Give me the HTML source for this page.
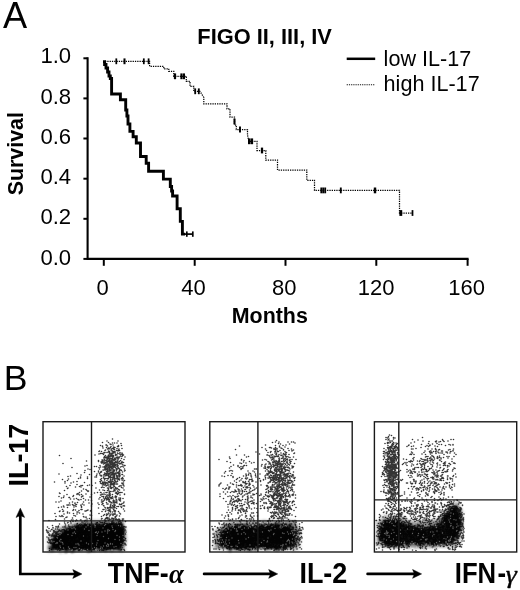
<!DOCTYPE html>
<html><head><meta charset="utf-8"><title>Figure</title>
<style>
html,body{margin:0;padding:0;background:#fff;}
body{width:520px;height:590px;overflow:hidden;font-family:"Liberation Sans", sans-serif;}
svg{display:block;}
text{fill:#000;}
</style></head><body>
<svg width="520" height="590" viewBox="0 0 520 590">
<rect width="520" height="590" fill="#fff"/>
<g opacity="0.999">
<text transform="translate(3.0 27.5)" font-size="36.2" font-weight="normal" font-family='"Liberation Sans", sans-serif' >A</text>
<text transform="translate(3.7 390.0)" font-size="35.6" font-weight="normal" font-family='"Liberation Sans", sans-serif' >B</text>
<text transform="translate(197.3 43.9) scale(1.0159 1)" font-size="21.5" font-weight="bold" font-family='"Liberation Sans", sans-serif' >FIGO II, III, IV</text>
<line x1="346.7" y1="58.8" x2="375.2" y2="58.8" stroke="#000" stroke-width="2.5"/>
<line x1="346.7" y1="84.8" x2="375.2" y2="84.8" stroke="#111" stroke-width="1.1" stroke-dasharray="1.2 1"/>
<text transform="translate(383.6 65.6)" font-size="21.6" font-weight="normal" font-family='"Liberation Sans", sans-serif' >low IL-17</text>
<text transform="translate(383.6 91.3)" font-size="21.6" font-weight="normal" font-family='"Liberation Sans", sans-serif' >high IL-17</text>
<path d="M87.6 57.3 V258.9 H468.6" fill="none" stroke="#000" stroke-width="2.1"/>
<line x1="83.39999999999999" y1="58.3" x2="87.6" y2="58.3" stroke="#000" stroke-width="2"/>
<line x1="83.39999999999999" y1="98.4" x2="87.6" y2="98.4" stroke="#000" stroke-width="2"/>
<line x1="83.39999999999999" y1="138.5" x2="87.6" y2="138.5" stroke="#000" stroke-width="2"/>
<line x1="83.39999999999999" y1="178.7" x2="87.6" y2="178.7" stroke="#000" stroke-width="2"/>
<line x1="83.39999999999999" y1="218.8" x2="87.6" y2="218.8" stroke="#000" stroke-width="2"/>
<line x1="83.39999999999999" y1="258.9" x2="87.6" y2="258.9" stroke="#000" stroke-width="2"/>
<line x1="103.8" y1="258.9" x2="103.8" y2="265.79999999999995" stroke="#000" stroke-width="2"/>
<line x1="194.7" y1="258.9" x2="194.7" y2="265.79999999999995" stroke="#000" stroke-width="2"/>
<line x1="285.5" y1="258.9" x2="285.5" y2="265.79999999999995" stroke="#000" stroke-width="2"/>
<line x1="376.3" y1="258.9" x2="376.3" y2="265.79999999999995" stroke="#000" stroke-width="2"/>
<line x1="467.6" y1="258.9" x2="467.6" y2="265.79999999999995" stroke="#000" stroke-width="2"/>
<text transform="translate(40.4 63.3)" font-size="22.1" font-weight="normal" font-family='"Liberation Sans", sans-serif' >1.0</text>
<text transform="translate(40.4 103.6)" font-size="22.1" font-weight="normal" font-family='"Liberation Sans", sans-serif' >0.8</text>
<text transform="translate(40.4 143.8)" font-size="22.1" font-weight="normal" font-family='"Liberation Sans", sans-serif' >0.6</text>
<text transform="translate(40.4 184.1)" font-size="22.1" font-weight="normal" font-family='"Liberation Sans", sans-serif' >0.4</text>
<text transform="translate(40.4 224.4)" font-size="22.1" font-weight="normal" font-family='"Liberation Sans", sans-serif' >0.2</text>
<text transform="translate(40.4 264.7)" font-size="22.1" font-weight="normal" font-family='"Liberation Sans", sans-serif' >0.0</text>
<text transform="translate(96.4 294.7)" font-size="22" font-weight="normal" font-family='"Liberation Sans", sans-serif' >0</text>
<text transform="translate(181.2 294.7)" font-size="22" font-weight="normal" font-family='"Liberation Sans", sans-serif' >40</text>
<text transform="translate(272.1 294.7)" font-size="22" font-weight="normal" font-family='"Liberation Sans", sans-serif' >80</text>
<text transform="translate(357.8 294.7)" font-size="22" font-weight="normal" font-family='"Liberation Sans", sans-serif' >120</text>
<text transform="translate(448.2 294.7)" font-size="22" font-weight="normal" font-family='"Liberation Sans", sans-serif' >160</text>
<text transform="translate(231.8 322.5)" font-size="21.4" font-weight="bold" font-family='"Liberation Sans", sans-serif' >Months</text>
<text transform="translate(22.5 195.3) rotate(-90)" font-size="21.4" font-weight="bold" font-family='"Liberation Sans", sans-serif' >Survival</text>
<path d="M103.0 61.6 L104.6 61.6 L104.6 64.5 L106.0 64.5 L106.0 68 L107.6 68 L107.6 72 L109.0 72 L109.0 76 L110.3 76 L110.3 78.5 L111.6 78.5 L111.6 94 L120.4 94 L120.4 99.7 L125.7 99.7 L125.7 110 L126.9 110 L126.9 116 L128.0 116 L128.0 124 L129.9 124 L129.9 131.4 L133.1 131.4 L133.1 136.7 L136.3 136.7 L136.3 143 L140.5 143 L140.5 156.5 L146.2 156.5 L146.2 163.3 L148.6 163.3 L148.6 171.3 L163.4 171.3 L163.4 179.1 L170.3 179.1 L170.3 186.5 L171.6 186.5 L171.6 191 L172.6 191 L172.6 196 L177.1 196 L177.1 208.8 L180.3 208.8 L180.3 221.4 L182.4 221.4 L182.4 234.1 L185 234.1" fill="none" stroke="#000" stroke-width="2.9" stroke-linejoin="miter"/>
<line x1="184" y1="234.1" x2="193" y2="234.1" stroke="#000" stroke-width="1.7"/>
<line x1="186.8" y1="231.4" x2="186.8" y2="236.8" stroke="#000" stroke-width="1.7"/>
<line x1="192.8" y1="231.4" x2="192.8" y2="236.8" stroke="#000" stroke-width="1.7"/>
<path d="M105 61.3 L149.6 61.3 L149.6 66.3 L163.8 66.3 L163.8 68.8 L168.8 68.8 L168.8 71.3 L173.8 71.3 L173.8 76.3 L186.3 76.3 L186.3 81.3 L190 81.3 L190 86.3 L193.8 86.3 L193.8 91.3 L200 91.3 L203.8 97.5 L203.8 103.8 L227 103.8 L227 108.8 L230 108.8 L230 117 L234.5 117 L234.5 125 L236.3 125 L236.3 129.5 L247.5 129.5 L247.5 135 L248.8 141.3 L257 141.3 L257 150.5 L265.8 150.5 L265.8 160 L277.5 160 L277.5 170 L306.8 170 L306.8 180.3 L314.5 180.3 L314.5 190.4 L399.5 190.4 L399.5 213 L412.5 213" fill="none" stroke="#000" stroke-width="1.25" stroke-dasharray="1.3 1.0"/>
<line x1="116.3" y1="58.4" x2="116.3" y2="64.2" stroke="#000" stroke-width="1.75"/>
<line x1="124.5" y1="58.4" x2="124.5" y2="64.2" stroke="#000" stroke-width="2.0500000000000003"/>
<line x1="143.8" y1="58.4" x2="143.8" y2="64.2" stroke="#000" stroke-width="1.75"/>
<line x1="148.6" y1="58.4" x2="148.6" y2="64.2" stroke="#000" stroke-width="1.75"/>
<line x1="175" y1="73.39999999999999" x2="175" y2="79.2" stroke="#000" stroke-width="2.25"/>
<line x1="181.5" y1="73.39999999999999" x2="181.5" y2="79.2" stroke="#000" stroke-width="2.25"/>
<line x1="184" y1="73.39999999999999" x2="184" y2="79.2" stroke="#000" stroke-width="2.0500000000000003"/>
<line x1="195.2" y1="88.39999999999999" x2="195.2" y2="94.2" stroke="#000" stroke-width="1.8499999999999999"/>
<line x1="198.8" y1="88.39999999999999" x2="198.8" y2="94.2" stroke="#000" stroke-width="1.8499999999999999"/>
<line x1="234.5" y1="118.6" x2="234.5" y2="124.4" stroke="#000" stroke-width="2.0500000000000003"/>
<line x1="240" y1="126.6" x2="240" y2="132.4" stroke="#000" stroke-width="1.95"/>
<line x1="249.3" y1="138.4" x2="249.3" y2="144.20000000000002" stroke="#000" stroke-width="2.6500000000000004"/>
<line x1="252" y1="138.4" x2="252" y2="144.20000000000002" stroke="#000" stroke-width="2.25"/>
<line x1="262" y1="147.6" x2="262" y2="153.4" stroke="#000" stroke-width="2.25"/>
<line x1="321.3" y1="187.5" x2="321.3" y2="193.3" stroke="#000" stroke-width="1.8499999999999999"/>
<line x1="323.2" y1="187.5" x2="323.2" y2="193.3" stroke="#000" stroke-width="1.8499999999999999"/>
<line x1="325.2" y1="187.5" x2="325.2" y2="193.3" stroke="#000" stroke-width="1.8499999999999999"/>
<line x1="340.8" y1="187.5" x2="340.8" y2="193.3" stroke="#000" stroke-width="1.8499999999999999"/>
<line x1="375" y1="187.5" x2="375" y2="193.3" stroke="#000" stroke-width="2.45"/>
<line x1="400.8" y1="210.1" x2="400.8" y2="215.9" stroke="#000" stroke-width="2.85"/>
<line x1="412.5" y1="210.1" x2="412.5" y2="215.9" stroke="#000" stroke-width="1.75"/>
<text transform="translate(28 486.6) rotate(-90) scale(0.9997 1)" font-size="27" font-weight="bold" font-family='"Liberation Sans", sans-serif' >IL-17</text>
<path d="M20.3 514 V574 H76" fill="none" stroke="#000" stroke-width="2.7" stroke-linejoin="miter"/>
<path d="M20.3 508.2 L16 517.4 L20.3 515.6 L24.6 517.4 Z" fill="#000" stroke="#000" stroke-width="0.5" stroke-linejoin="round"/>
<path d="M81.9 574 L72.8 569.6 L74.6 574 L72.8 578.4 Z" fill="#000" stroke="#000" stroke-width="0.5" stroke-linejoin="round"/>
<line x1="204.1" y1="573.9" x2="272.7" y2="573.9" stroke="#000" stroke-width="2.7" stroke-linecap="round"/>
<path d="M277.7 573.9 L268.7 569.5 L270.5 573.9 L268.7 578.3 Z" fill="#000" stroke="#000" stroke-width="0.5" stroke-linejoin="round"/>
<line x1="367.6" y1="573.9" x2="416.6" y2="573.9" stroke="#000" stroke-width="2.7" stroke-linecap="round"/>
<path d="M421.6 573.9 L412.6 569.5 L414.40000000000003 573.9 L412.6 578.3 Z" fill="#000" stroke="#000" stroke-width="0.5" stroke-linejoin="round"/>
<text transform="translate(107.8 582.5) scale(0.9367 1)" font-size="28.6" font-weight="bold" font-family='"Liberation Sans", sans-serif' >TNF-</text>
<text transform="translate(168.9 582.6) scale(1.0 1)" font-size="26.8" font-weight="bold" font-style="italic" font-family='"Liberation Serif", serif'>α</text>
<text transform="translate(299.4 582.5) scale(0.942 1)" font-size="28.6" font-weight="bold" font-family='"Liberation Sans", sans-serif' >IL-2</text>
<text transform="translate(454.8 582.5) scale(0.8986 1)" font-size="28.6" font-weight="bold" font-family='"Liberation Sans", sans-serif' >IFN</text>
<text transform="translate(497.4 583.1) scale(0.9029 1)" font-size="28.6" font-weight="bold" font-family='"Liberation Sans", sans-serif' >-</text>
<text transform="translate(505.7 583.0) scale(1.08 1)" font-size="26" font-weight="normal" font-style="italic" stroke="#000" stroke-width="0.4" font-family='"Liberation Serif", serif'>γ</text>
<defs><filter id="b1" x="-20%" y="-30%" width="140%" height="160%"><feTurbulence type="fractalNoise" baseFrequency="0.28" numOctaves="2" seed="3" result="n"/><feDisplacementMap in="SourceGraphic" in2="n" scale="7" xChannelSelector="R" yChannelSelector="G"/><feGaussianBlur stdDeviation="0.9"/></filter><filter id="b2" x="-20%" y="-30%" width="140%" height="160%"><feTurbulence type="fractalNoise" baseFrequency="0.5" numOctaves="2" seed="8" result="n"/><feDisplacementMap in="SourceGraphic" in2="n" scale="9" xChannelSelector="G" yChannelSelector="R"/><feGaussianBlur stdDeviation="1.4"/></filter><filter id="b0" x="-5%" y="-5%" width="110%" height="110%"><feGaussianBlur stdDeviation="0.6"/></filter></defs>
<polygon points="50,550.5 51,542 56,535 66,528.5 80,524.5 92,523 121,523 123.5,528 123.5,540 121,550.5" fill="#000" fill-opacity="0.95" filter="url(#b1)"/>
<polygon points="47.5,551 49,538 56,530 78,522 123,520.5 126,530 125,551" fill="#000" fill-opacity="0.55" filter="url(#b2)"/>
<g filter="url(#b0)"><path transform="scale(.5)" d="M129 1079h0M214 1067h0M125 1073h0M194 1089h0M130 1056h0M203 1081h0M234 1088h0M172 1070h0M146 1058h0M180 1076h0M163 1073h0M186 1084h0M218 1077h0M108 1084h0M122 1072h0M120 1074h0M146 1077h0M208 1055h0M165 1083h0M172 1079h0M180 1060h0M197 1063h0M247 1067h0M202 1074h0M212 1066h0M214 1072h0M224 1083h0M181 1063h0M205 1081h0M238 1069h0M197 1081h0M187 1077h0M183 1066h0M137 1068h0M198 1095h0M213 1089h0M206 1084h0M183 1085h0M243 1069h0M185 1088h0M209 1058h0M183 1085h0M181 1062h0M172 1079h0M218 1084h0M178 1093h0M147 1085h0M218 1070h0M108 1061h0M185 1081h0M235 1060h0M176 1083h0M170 1041h0M214 1061h0M160 1077h0M180 1096h0M173 1100h0M150 1067h0M203 1094h0M201 1078h0M107 1064h0M153 1067h0M198 1069h0M206 1075h0M163 1076h0M192 1086h0M158 1071h0M124 1096h0M231 1071h0M158 1057h0M182 1077h0M146 1040h0M230 1077h0M115 1077h0M219 1082h0M169 1044h0M171 1052h0M199 1044h0M142 1091h0M238 1057h0M118 1086h0M208 1060h0M150 1064h0M131 1064h0M224 1084h0M171 1060h0M171 1056h0M108 1084h0M231 1086h0M227 1078h0M149 1075h0M162 1058h0M112 1053h0M176 1076h0M158 1094h0M183 1082h0M222 1063h0M101 1085h0M150 1092h0M189 1088h0M205 1045h0M203 1065h0M147 1068h0M205 1086h0M214 1051h0M154 1041h0M172 1082h0M147 1077h0M185 1088h0M145 1062h0M147 1099h0M217 1072h0M185 1076h0M184 1071h0M163 1056h0M152 1097h0M196 1075h0M168 1075h0M189 1065h0M183 1077h0M148 1063h0M138 1059h0M210 1041h0M166 1065h0M152 1075h0M219 1075h0M171 1065h0M171 1087h0M161 1058h0M128 1059h0M123 1089h0M189 1071h0M231 1065h0M205 1085h0M117 1052h0M141 1087h0M225 1057h0M216 1069h0M161 1066h0M164 1049h0M138 1057h0M111 1068h0M198 1064h0M212 1082h0M114 1067h0M167 1074h0M181 1069h0M183 1066h0M142 1095h0M190 1080h0M115 1072h0M207 1056h0M218 1069h0M191 1072h0M184 1091h0M161 1096h0M146 1061h0M203 1059h0M162 1087h0M222 1049h0M195 1100h0M221 1071h0M153 1070h0M132 1070h0M169 1072h0M221 1071h0M121 1089h0M135 1068h0M171 1069h0M138 1071h0M171 1090h0M204 1085h0M209 1046h0M143 1076h0M195 1092h0M194 1071h0M177 1071h0M185 1083h0M163 1063h0M144 1089h0M225 1088h0M209 1086h0M176 1083h0M136 1071h0M148 1084h0M154 1072h0M191 1093h0M146 1061h0M207 1059h0M193 1066h0M172 1049h0M203 1067h0M191 1069h0M180 1096h0M175 1080h0M196 1061h0M181 1067h0M129 1086h0M201 1075h0M142 1046h0M194 1073h0M112 1073h0M118 1074h0M181 1079h0M184 1076h0M133 1069h0M157 1071h0M186 1083h0M238 1038h0M191 1071h0M113 1080h0M156 1088h0M136 1073h0M171 1073h0M154 1048h0M193 1088h0M173 1060h0M184 1082h0M169 1074h0M230 1058h0M155 1047h0M149 1064h0M140 1064h0M244 1071h0M174 1050h0M191 1061h0M238 1057h0M154 1052h0M180 1060h0M174 1069h0M153 1087h0M212 1075h0M142 1059h0M159 1063h0M149 1059h0M139 1071h0M230 1074h0M157 1051h0M184 1074h0M129 1059h0M174 1088h0M200 1077h0M164 1078h0M133 1069h0M224 1070h0M230 1073h0M182 1069h0M124 1060h0M199 1087h0M198 1088h0M166 1071h0M213 1069h0M125 1071h0M155 1083h0M149 1059h0M163 1096h0M174 1076h0M176 1078h0M211 1094h0M114 1093h0M176 1070h0M250 1088h0M137 1081h0M204 1072h0M169 1058h0M245 1071h0M161 1070h0M146 1063h0M180 1078h0M157 1073h0M123 1081h0M148 1077h0M142 1067h0M184 1057h0M173 1064h0M237 1093h0M187 1055h0M157 1083h0M157 1057h0M131 1063h0M177 1065h0M243 1059h0M189 1075h0M171 1089h0M163 1069h0M162 1073h0M225 1085h0M125 1068h0M146 1085h0M185 1086h0M174 1047h0M193 1077h0M195 1056h0M179 1064h0M150 1079h0M189 1062h0M111 1039h0M154 1090h0M174 1042h0M143 1080h0M240 1090h0M190 1077h0M136 1068h0M163 1063h0M178 1069h0M189 1094h0M204 1080h0M167 1053h0M172 1082h0M138 1092h0M163 1079h0M164 1056h0M211 1066h0M187 1063h0M160 1087h0M250 1062h0M176 1087h0M152 1084h0M146 1082h0M193 1091h0M190 1057h0M201 1059h0M205 1095h0M199 1066h0M221 1076h0M129 1069h0M230 1070h0M181 1069h0M112 1067h0M190 1077h0M169 1044h0M222 1084h0M215 1092h0M159 1066h0M188 1097h0M112 1071h0M149 1082h0M232 1070h0M129 1075h0M165 1052h0M210 1067h0M202 1056h0M218 1054h0M216 1049h0M228 1069h0M117 1071h0M189 1060h0M157 1078h0M160 1080h0M187 1088h0M206 1078h0M217 1087h0M180 1065h0M215 1080h0M104 1059h0M194 1076h0M187 1083h0M182 1096h0M154 1068h0M188 1084h0M206 1095h0M158 1090h0M194 1059h0M206 1067h0M149 1075h0M188 1061h0M131 1071h0M161 1065h0M219 1075h0M129 1092h0M164 1055h0M188 1081h0M163 1084h0M207 1062h0M98 1041h0M171 1091h0M214 1093h0M247 1074h0M216 1053h0M202 1079h0M172 1068h0M134 1076h0M225 1069h0M196 1065h0M186 1060h0M190 1071h0M188 1066h0M131 1069h0M215 1096h0M164 1085h0M205 1079h0M117 1079h0M139 1090h0M206 1083h0M203 1056h0M213 1075h0M169 1064h0M137 1068h0M184 1065h0M153 1066h0M142 1086h0M166 1086h0M132 1087h0M175 1083h0M172 1062h0M222 1068h0M170 1062h0M184 1069h0M187 1079h0M150 1054h0M192 1087h0M202 1058h0M199 1079h0M187 1080h0M164 1077h0M211 1067h0M121 1073h0M183 1048h0M150 1082h0M170 1075h0M128 1087h0M243 1071h0M148 1058h0M210 1075h0M146 1091h0M205 1082h0M109 1073h0M200 1057h0M211 1094h0M215 1064h0M149 1087h0M214 1091h0M222 1073h0M160 1048h0M158 1067h0M201 1079h0M124 1064h0M149 1086h0M249 1101h0M230 1097h0M129 1069h0M148 1070h0M197 1057h0M227 1092h0M179 1092h0M188 1066h0M162 1072h0M199 1076h0M158 1064h0M146 1054h0M139 1087h0M178 1072h0M189 1089h0M199 1085h0M155 1070h0M146 1073h0M145 1069h0M169 1071h0M166 1067h0M226 1069h0M138 1077h0M135 1059h0M179 1051h0M215 1051h0M142 1082h0M100 1062h0M130 1071h0M101 1087h0M171 1078h0M164 1044h0M170 1055h0M176 1062h0M164 1071h0M205 1085h0M138 1074h0M231 1081h0M148 1072h0M163 1087h0M177 1079h0M137 1050h0M115 1086h0M187 1097h0M101 1062h0M231 1088h0M210 1086h0M177 1074h0M177 1086h0M170 1078h0M231 1058h0M147 1082h0M166 1072h0M160 1089h0M151 1076h0M196 1068h0M195 1063h0M153 1075h0M192 1093h0M204 1101h0M193 1076h0M171 1062h0M238 1057h0M171 1067h0M146 1043h0M161 1076h0M181 1086h0M170 1065h0M188 1083h0M142 1053h0M137 1089h0M214 1062h0M180 1086h0M226 1065h0M167 1094h0M133 1080h0M165 1073h0M151 1067h0M176 1099h0M203 1080h0M177 1063h0M167 1091h0M186 1074h0M115 1080h0M110 1095h0M152 1074h0M125 1067h0M141 1090h0M185 1057h0M103 1073h0M158 1058h0M198 1071h0M180 1066h0M154 1068h0M115 1083h0M191 1050h0M180 1090h0M185 1092h0M166 1074h0M127 1061h0M107 1061h0M185 1081h0M220 1076h0M138 1080h0M170 1099h0M250 1087h0M133 1067h0M183 1064h0M196 1084h0M208 1077h0M142 1062h0M171 1093h0M236 1088h0M190 1083h0M207 1092h0M209 1053h0M212 1079h0M159 1081h0M187 1073h0M112 1076h0M197 1073h0M116 1080h0M203 1077h0M192 1069h0M151 1081h0M163 1077h0M181 1051h0M180 1085h0M149 1071h0M153 1084h0M228 1072h0M213 1078h0M168 1070h0M144 1092h0M209 1060h0M208 1064h0M119 1091h0M127 1091h0M184 1087h0M195 1090h0M189 1082h0M185 1089h0M161 1088h0M233 1073h0M193 1067h0M165 1078h0M163 1062h0M175 1077h0M188 1084h0M109 1094h0M169 1063h0M162 1080h0M209 1069h0M182 1052h0M182 1072h0M160 1086h0M244 1088h0M146 1095h0M163 1073h0M154 1080h0M197 1076h0M168 1072h0M161 1088h0M156 1072h0M168 1064h0M167 1054h0M191 1082h0M165 1096h0M145 1082h0M194 1067h0M167 1086h0M178 1078h0M229 1077h0M113 1064h0M208 1072h0M135 1046h0M188 1095h0M129 1044h0M195 1066h0M165 1070h0M142 1080h0M211 1079h0M155 1088h0M172 1082h0M141 1083h0M204 1092h0M177 1080h0M154 1086h0M205 1089h0M161 1057h0M173 1071h0M148 1082h0M212 1079h0M218 1080h0M139 1066h0M163 1084h0M211 1076h0M214 1063h0M172 1095h0M193 1089h0M105 1051h0M144 1088h0M237 1065h0M139 1060h0M143 1082h0M164 1100h0M203 1065h0M185 1072h0M206 1087h0M163 1086h0M197 1073h0M186 1083h0M164 1065h0M224 1074h0M154 1080h0M121 1075h0M125 1068h0M109 1064h0M210 1072h0M131 1098h0M153 1094h0M157 1054h0M245 1068h0M205 1090h0M127 1075h0M155 1082h0M176 1057h0M178 1085h0M165 1082h0M156 1073h0M189 1076h0M224 1087h0M208 1084h0M182 1058h0M216 1098h0M185 1071h0M175 1091h0M187 1061h0M170 1064h0M169 1062h0M144 1094h0M215 1052h0M140 1068h0M162 1055h0M209 1052h0M202 1084h0M163 1065h0M179 1076h0M98 1057h0M196 1073h0M161 1061h0M150 1064h0M233 1081h0M184 1077h0M162 1096h0M195 1074h0M172 1077h0M134 1070h0M153 1083h0M199 1049h0M168 1088h0M128 1058h0M213 1072h0M160 1057h0M183 1066h0M184 1080h0M202 1070h0M157 1075h0M173 1076h0M157 1071h0M155 1066h0M182 1090h0M156 1082h0M189 1076h0M202 1066h0M197 1078h0M199 1101h0M137 1075h0M189 1061h0M221 1080h0M147 1058h0M109 1083h0M172 1065h0M199 1075h0M187 1078h0M136 1092h0M159 1090h0M202 1075h0M181 1073h0M108 1070h0M192 1052h0M121 1089h0M206 1053h0M193 1073h0M213 1070h0M168 1064h0M183 1072h0M152 1069h0M148 1083h0M138 1053h0M140 1089h0M157 1083h0M204 1067h0M204 1081h0M175 1064h0M174 1056h0M166 1066h0M193 1079h0M152 1086h0M221 1075h0M149 1081h0M149 1095h0M183 1088h0M170 1066h0M168 1095h0M208 1070h0M191 1086h0M197 1073h0M151 1064h0M160 1066h0M117 1054h0M209 1059h0M127 1073h0M231 1092h0M161 1060h0M156 1061h0M155 1081h0M136 1063h0M166 1074h0M147 1063h0M133 1064h0M196 1071h0M174 1062h0M114 1090h0M148 1075h0M206 1057h0M242 1064h0M189 1058h0M190 1074h0M217 1058h0M176 1099h0M131 1079h0M193 1067h0M166 1094h0M219 1082h0M186 1058h0M180 1099h0M216 1055h0M97 1065h0M182 1066h0M164 1079h0M210 1077h0M224 1054h0M194 1080h0M119 1092h0M115 1054h0M190 1093h0M220 1058h0M194 1094h0M170 1075h0M158 1084h0M155 1066h0M129 1061h0M184 1081h0M161 1059h0M189 1079h0M225 1067h0M160 1081h0M234 1073h0M173 1061h0M162 1087h0M209 1090h0M113 1086h0M141 1082h0M142 1092h0M181 1092h0M159 1101h0M157 1060h0M210 1068h0M174 1055h0M163 1076h0M149 1080h0M160 1095h0M163 1065h0M159 1078h0M199 1067h0M145 1080h0M208 1049h0M136 1065h0M242 1091h0M207 1081h0M133 1090h0M159 1063h0M250 1054h0M229 1077h0M141 1077h0M144 1077h0M151 1057h0M214 1073h0M202 1056h0M215 1080h0M131 1086h0M185 1087h0M200 1085h0M175 1068h0M203 1092h0M131 1058h0M175 1100h0M168 1050h0M207 1085h0M251 1077h0M252 1064h0M211 1076h0M130 1070h0M227 1090h0M162 1090h0M211 1087h0M187 1078h0M144 1073h0M181 1064h0M165 1076h0M184 1089h0M137 1068h0M187 1069h0M189 1067h0M222 1071h0M132 1085h0M240 1047h0M171 1075h0M216 1095h0M170 1052h0M202 1088h0M194 1075h0M130 1053h0M214 1078h0M202 1079h0M241 1094h0M155 1088h0M131 1050h0M222 1068h0M94 1074h0M151 1081h0M174 1063h0M149 1085h0M141 1076h0M138 1080h0M245 1082h0M219 1080h0M139 1070h0M179 1080h0M153 1083h0M149 1075h0M176 1058h0M215 1075h0M180 1074h0M95 1054h0M142 1088h0M154 1083h0M137 1062h0M158 1089h0M113 1072h0M192 1076h0M176 1085h0M187 1060h0M201 1063h0M163 1095h0M193 1063h0M147 1098h0M189 1055h0M236 1082h0M227 1080h0M94 1064h0M171 1072h0M234 1065h0M172 1073h0M173 1059h0M129 1038h0M189 1071h0M184 1059h0M176 1060h0M137 1079h0M201 1082h0M175 1069h0M230 1092h0M152 1059h0M190 1079h0M96 1062h0M186 1088h0M105 1068h0M231 1094h0M167 1075h0M142 1080h0M136 1045h0M118 1075h0M126 1090h0M225 1088h0M201 1090h0M186 1086h0M194 1085h0M137 1065h0M138 1086h0M196 1063h0M138 1066h0M210 1072h0M167 1064h0M172 1097h0M150 1069h0M241 1084h0M133 1089h0M128 1082h0M211 1066h0M149 1075h0M176 1067h0M150 1099h0M233 1079h0M132 1067h0M165 1081h0M238 1067h0M182 1068h0M182 1064h0M191 1090h0M161 1069h0M181 1056h0M246 1055h0M163 1062h0M234 1067h0M157 1101h0M172 1063h0M176 1077h0M148 1072h0M168 1084h0M206 1086h0M172 1085h0M168 1090h0M192 1068h0M223 1053h0M139 1063h0M171 1057h0M130 1047h0M181 1063h0M133 1093h0M180 1089h0M134 1090h0M218 1068h0M144 1069h0M245 1095h0M168 1069h0M190 1070h0M158 1071h0M209 1073h0M185 1070h0M169 1069h0M225 1077h0M233 1072h0M217 1055h0M161 1073h0M152 1072h0M141 1072h0M151 1074h0M165 1060h0M161 1075h0M128 1075h0M224 1071h0M197 1083h0M146 1093h0M232 1049h0M220 1076h0M127 1063h0M136 1061h0M191 1072h0M194 1075h0M241 1048h0M186 1075h0M204 1055h0M126 1072h0M179 1049h0M190 1074h0M204 1037h0M195 1062h0M158 1085h0M241 1076h0M172 1093h0M142 1072h0M157 1060h0M186 1081h0M175 1090h0M183 1062h0M180 1094h0M173 1091h0M187 1083h0M165 1086h0M168 1053h0M188 1057h0M233 1085h0M177 1084h0M151 1084h0M160 1079h0M192 1050h0M141 1095h0M153 1082h0M124 1061h0M107 1078h0M221 1075h0M166 1078h0M194 1070h0M214 1091h0M199 1071h0M214 1090h0M221 1059h0M216 1069h0M163 1079h0M198 1078h0M169 1078h0M168 1082h0M209 1086h0M128 1069h0M180 1057h0M191 1072h0M179 1080h0M153 1096h0M216 1066h0M194 1085h0M147 1069h0M203 1038h0M126 1079h0M200 1061h0M184 1074h0M179 1060h0M197 1077h0M205 1094h0M178 1077h0M189 1099h0M121 1074h0M152 1076h0M208 1075h0M205 1077h0M149 1065h0M124 1077h0M161 1086h0M213 1062h0M135 1083h0M143 1077h0M200 1069h0M244 1063h0M193 1068h0M170 1082h0M171 1064h0M157 1070h0M205 1070h0M224 1086h0M148 1089h0M139 1073h0M221 1074h0M170 1092h0M147 1063h0M214 1083h0M122 1076h0M206 1072h0M161 1076h0M185 1064h0M208 1052h0M136 1074h0M132 1075h0M158 1100h0M141 1074h0M185 1083h0M211 1052h0M149 1051h0M159 1049h0M183 1066h0M189 1063h0M221 1076h0M139 1095h0M112 1054h0M226 1066h0M228 1082h0M199 1065h0M199 1094h0M162 1069h0M174 1069h0M220 1056h0M193 1046h0M93 1060h0M148 1062h0M149 1083h0M198 1075h0M184 1064h0M139 1054h0M160 1058h0M164 1084h0M197 1093h0M141 1043h0M203 1068h0M226 1068h0M240 1068h0M161 1084h0M132 1072h0M250 1080h0M134 1070h0M175 1063h0M192 1092h0M178 1086h0M187 1076h0M147 1088h0M228 1068h0M143 1081h0M180 1090h0M195 1072h0M123 1083h0M180 1056h0M119 1048h0M200 1068h0M152 1072h0M177 1069h0M204 1088h0M167 1096h0M171 1062h0M182 1054h0M165 1059h0M160 1077h0M186 1071h0M203 1079h0M162 1060h0M204 1085h0M120 1064h0M131 1086h0M154 1056h0M233 1080h0M185 1077h0M169 1074h0M210 1080h0M158 1075h0M247 1066h0M126 1076h0M200 1082h0M137 1073h0M112 1091h0M173 1099h0M165 1059h0M149 1085h0M144 1078h0M148 1064h0M154 1097h0M135 1078h0M206 1063h0M118 1095h0M242 1070h0M130 1086h0M174 1062h0M161 1040h0M144 1057h0M125 1082h0M186 1098h0M143 1093h0M215 1076h0M179 1063h0M156 1068h0M223 1081h0M207 1050h0M137 1086h0M161 1051h0M175 1056h0M175 1096h0M132 1067h0M197 1073h0M182 1062h0M162 1040h0M168 1092h0M132 1071h0M203 1091h0M220 1061h0M159 1099h0M157 1078h0M143 1064h0M137 1093h0M205 1079h0M155 1054h0M194 1062h0M171 1087h0M168 1073h0M137 1089h0M196 1084h0M238 1051h0M176 1083h0M188 1078h0M193 1052h0M172 1090h0M173 1071h0M208 1049h0M190 1095h0M165 1062h0M195 1067h0M143 1076h0M111 1083h0M129 1066h0M203 1073h0M185 1093h0M154 1087h0M111 1085h0M225 1063h0M193 1086h0M169 1065h0M233 1055h0M181 1087h0M184 1096h0M232 1080h0M243 1084h0M128 1069h0M185 1076h0M115 1058h0M192 1076h0M234 1077h0M190 1084h0M147 1055h0M157 1088h0M164 1091h0M154 1084h0M176 1086h0M176 1077h0M157 1091h0M174 1081h0M200 1061h0M143 1073h0M224 1059h0M136 1060h0M160 1059h0M144 1081h0M133 1074h0M130 1071h0M195 1045h0M177 1077h0M173 1077h0M191 1055h0M171 1083h0M225 1054h0M152 1054h0M175 1059h0M137 1085h0M239 1061h0M202 1079h0M223 1071h0M143 1073h0M206 1061h0M191 1074h0M182 1074h0M199 1085h0M164 1069h0M93 1061h0M117 1083h0M134 1064h0M196 1088h0M222 1062h0M185 1089h0M143 1071h0M129 1065h0M203 1075h0M161 1066h0M234 1084h0M160 1072h0M157 1066h0M200 1053h0M177 1069h0M141 1086h0M125 1088h0M127 1083h0M116 1090h0M124 1076h0M109 1071h0M123 1081h0M109 1078h0M124 1074h0M118 1075h0M121 1091h0M136 1074h0M127 1085h0M121 1091h0M130 1068h0M138 1080h0M112 1074h0M117 1069h0M133 1087h0M109 1091h0M123 1083h0M131 1081h0M117 1087h0M98 1069h0M126 1094h0M100 1082h0M112 1079h0M127 1098h0M141 1092h0M128 1083h0M97 1086h0M105 1070h0M121 1064h0M141 1089h0M124 1087h0M123 1083h0M128 1074h0M123 1084h0M129 1070h0M123 1080h0M127 1088h0M122 1087h0M125 1097h0M124 1088h0M109 1080h0M129 1094h0M108 1081h0M117 1083h0M114 1077h0M119 1083h0M132 1073h0M108 1091h0M126 1080h0M106 1094h0M107 1094h0M123 1080h0M118 1091h0M120 1063h0M111 1058h0M125 1092h0M132 1067h0M119 1060h0M109 1093h0M145 1076h0M98 1071h0M143 1082h0M103 1059h0M128 1091h0M114 1080h0M121 1078h0M113 1076h0M113 1095h0M125 1093h0M142 1057h0M119 1092h0M117 1075h0M125 1076h0M110 1079h0M121 1082h0M131 1082h0M117 1079h0M118 1074h0M101 1084h0M137 1062h0M111 1087h0M112 1088h0M119 1070h0M117 1076h0M126 1054h0M125 1097h0M122 1085h0M113 1086h0M118 1068h0M106 1056h0M125 1084h0M133 1085h0M128 1067h0M97 1076h0M116 1086h0M118 1080h0M120 1085h0M122 1085h0M114 1081h0M102 1070h0M117 1087h0M111 1066h0M131 1073h0M99 1071h0M106 1055h0M115 1100h0M111 1073h0M134 1083h0M119 1097h0M106 1081h0M126 1084h0M106 1072h0M141 1081h0M117 1094h0M98 1081h0M99 1097h0M108 1083h0M109 1083h0M124 1082h0M116 1085h0M117 1076h0M127 1091h0M104 1071h0M111 1085h0M103 1099h0M120 1084h0M130 1074h0M124 1086h0M135 1070h0M137 1088h0M123 1094h0M117 1080h0M130 1078h0M133 1097h0M123 1084h0M112 1072h0M137 1071h0M121 1085h0M109 1074h0M124 1097h0M144 1093h0M136 1077h0M112 1098h0M138 1071h0M134 1085h0M130 1093h0M143 1075h0M120 1096h0M117 1088h0M119 1063h0M114 1092h0M114 1065h0M114 1083h0M126 1086h0M126 1071h0M113 1074h0M115 1087h0M136 1080h0M133 1094h0M106 1073h0M122 1067h0M143 1062h0M106 1091h0M111 1090h0M108 1094h0M113 1090h0M132 1066h0M110 1063h0M107 1092h0M120 1092h0M137 1094h0M129 1078h0M116 1086h0M131 1094h0M124 1079h0M119 1101h0M112 1092h0M123 1091h0M111 1086h0M120 1079h0M106 1067h0M116 1088h0M124 1085h0M124 1068h0M133 1083h0M111 1076h0M132 1084h0M131 1071h0M135 1096h0M133 1090h0M124 1085h0M114 1085h0M136 1081h0M144 1065h0M121 1066h0M99 1085h0M117 1076h0M108 1080h0M101 1080h0M114 1069h0M125 1062h0M126 1085h0M127 1084h0M130 1080h0M108 1087h0M111 1078h0M122 1072h0M132 1066h0M135 1082h0M141 1095h0M129 1086h0M122 1067h0M114 1072h0M112 1081h0M111 1084h0M117 1077h0M125 1088h0M104 1079h0M155 1083h0M126 1073h0M132 1099h0M127 1081h0M121 1062h0M128 1079h0M125 1087h0M131 1075h0M128 1089h0M121 1098h0M116 1063h0M108 1087h0M109 1084h0M102 1087h0M117 1073h0M114 1079h0M131 1085h0M118 1084h0M131 1088h0M141 1075h0M130 1084h0M113 1089h0M130 1093h0M126 1073h0M123 1087h0M140 1084h0M122 1100h0M121 1078h0M124 1091h0M122 1064h0M116 1093h0M112 1092h0M123 1074h0M130 1059h0M96 1066h0M127 1079h0M128 1082h0M122 1077h0M116 1093h0M130 1068h0M130 1072h0M129 1085h0M117 1093h0M135 1077h0M122 1078h0M121 1100h0M115 1089h0M124 1083h0M107 1089h0M107 1090h0M119 1084h0M115 1073h0M108 1083h0M120 1086h0M117 1091h0M122 1084h0M118 1082h0M128 1075h0M106 1087h0M125 1083h0M123 1068h0M109 1082h0M120 1069h0M126 1062h0M135 1071h0M114 1071h0M105 1079h0M98 1079h0M122 1079h0M120 1067h0M99 1068h0M133 1086h0M99 1101h0M128 1094h0M132 1097h0M100 1083h0M129 1082h0M117 1060h0M122 1073h0M136 1090h0M120 1078h0M133 1077h0M133 1085h0M117 1086h0M141 1065h0M129 1090h0M117 1098h0M128 1088h0M109 1089h0M105 1088h0M146 1073h0M139 1071h0M121 1090h0M103 1086h0M111 1076h0M130 1082h0M125 1083h0M125 1099h0M122 1079h0M121 1090h0M126 1059h0M120 1087h0M151 1076h0M117 1070h0M120 1063h0M110 1081h0M103 1079h0M112 1096h0M122 1090h0M148 1075h0M141 1072h0M133 1065h0M116 1080h0M117 1061h0M122 1079h0M138 1089h0M95 1084h0M133 1081h0M112 1067h0M116 1072h0M117 1079h0M136 1072h0M124 1070h0M124 1094h0M114 1069h0M121 1083h0M113 1087h0M121 1090h0M209 1078h0M246 1054h0M210 1051h0M218 1057h0M225 1071h0M226 1062h0M215 1036h0M219 1048h0M226 1067h0M213 1052h0M241 1050h0M227 1067h0M238 1048h0M247 1064h0M242 1045h0M244 1065h0M239 1057h0M240 1067h0M219 1073h0M226 1060h0M223 1080h0M241 1080h0M206 1079h0M207 1101h0M234 1083h0M228 1069h0M219 1096h0M224 1083h0M217 1064h0M223 1065h0M221 1076h0M238 1042h0M222 1047h0M243 1048h0M235 1069h0M228 1037h0M238 1082h0M214 1052h0M217 1065h0M242 1064h0M247 1075h0M227 1077h0M222 1085h0M219 1086h0M227 1094h0M244 1077h0M234 1069h0M235 1064h0M224 1048h0M235 1050h0M225 1067h0M227 1062h0M197 1060h0M225 1059h0M224 1043h0M217 1089h0M215 1059h0M217 1064h0M221 1097h0M214 1087h0M222 1073h0M224 1063h0M230 1070h0M213 1052h0M239 1063h0M229 1077h0M230 1069h0M213 1067h0M205 1093h0M218 1092h0M222 1065h0M247 1070h0M231 1063h0M225 1056h0M218 1040h0M227 1055h0M248 1099h0M224 1065h0M207 1090h0M239 1071h0M224 1071h0M222 1074h0M210 1074h0M225 1060h0M223 1065h0M204 1076h0M226 1094h0M229 1081h0M228 1065h0M212 1060h0M225 1056h0M233 1082h0M225 1085h0M246 1078h0M224 1068h0M252 1090h0M245 1041h0M197 1094h0M239 1087h0M237 1062h0M235 1066h0M250 1080h0M215 1055h0M243 1080h0M233 1072h0M211 1054h0M236 1039h0M236 1076h0M238 1080h0M217 1041h0M197 1068h0M241 1042h0M231 1056h0M225 1070h0M229 1049h0M240 1065h0M202 1079h0M251 1061h0M251 1043h0M225 1087h0M247 1075h0M244 1061h0M239 1081h0M242 1073h0M241 1074h0M237 1044h0M237 1053h0M224 1068h0M232 1047h0M221 1071h0M223 1067h0M232 1070h0M221 1070h0M237 1048h0M240 1052h0M234 1076h0M238 1049h0M216 1049h0M237 1069h0M203 1078h0M246 1059h0M228 1071h0M215 1060h0M237 1062h0M229 1069h0M234 1060h0M246 1068h0M228 1087h0M248 1053h0M224 1086h0M222 1091h0M227 1096h0M215 1038h0M208 1097h0M219 1060h0M221 1056h0M231 1069h0M220 1059h0M248 1081h0M243 1086h0M226 1080h0M252 1054h0M202 1045h0M215 1052h0M222 1079h0M218 1061h0M210 1043h0M226 1055h0M241 1068h0M203 1078h0M212 1061h0M214 1054h0M220 1049h0M218 1062h0M239 1077h0M223 1085h0M213 1064h0M239 1090h0M237 1072h0M226 1076h0M230 1072h0M219 1065h0M216 1050h0M217 1054h0M219 1058h0M207 1071h0M233 1090h0M195 1045h0M215 1053h0M229 1054h0M218 1077h0M226 1042h0M242 1100h0M244 1064h0M248 1065h0M224 1070h0M247 1068h0M224 1046h0M231 1050h0M227 1046h0M216 1052h0M219 1049h0M246 1078h0M224 1051h0M244 1063h0M236 1082h0M223 1073h0M235 1060h0M226 1057h0M181 1061h0M252 1082h0M241 1057h0M218 1053h0M235 1078h0M202 1077h0M241 1078h0M211 1069h0M233 1046h0M213 1099h0M219 1059h0M201 1057h0M247 1072h0M216 1067h0M233 1075h0M214 1072h0M219 1059h0M216 1054h0M235 1040h0M216 1062h0M227 1090h0M208 1075h0M227 1096h0M225 1096h0M215 1072h0M213 1057h0M211 1060h0M250 1058h0M233 1066h0M233 1055h0M237 1068h0M201 1067h0M236 1067h0M233 1066h0M222 1082h0M248 1062h0M239 1050h0M246 1054h0M229 1080h0M221 1067h0M242 1058h0M233 1083h0M232 1055h0M223 1063h0M228 1076h0M207 1065h0M231 1089h0M208 1053h0M241 1066h0M243 1066h0M219 1065h0M245 1077h0M231 1068h0M243 1075h0M232 1077h0M230 1050h0M241 1084h0M248 1065h0M212 1072h0M220 1039h0M230 1055h0M229 1059h0M240 1079h0M235 1084h0M204 1077h0M242 1060h0M230 1049h0M222 1071h0M211 1038h0M223 1054h0M215 1064h0M209 1082h0M244 1067h0M220 1065h0M227 1055h0M219 1072h0M216 1057h0M222 1052h0M232 1047h0M241 1077h0M228 1079h0M243 1061h0M227 1057h0M223 1061h0M229 1074h0M241 1063h0M251 1068h0M226 1062h0M229 1060h0M231 1092h0M229 1055h0M203 1065h0M214 1055h0M230 1071h0M234 1083h0M215 1057h0M216 1051h0M219 1054h0M237 1051h0M239 1043h0M221 1048h0M228 1073h0M222 1056h0M215 1054h0M216 1056h0M229 1079h0M218 1036h0M223 1078h0M214 1071h0M212 1047h0M231 1039h0M214 1071h0M221 1055h0M235 1052h0M212 1060h0M227 1068h0M225 1083h0M235 1064h0M231 1054h0M239 1071h0M247 1058h0M240 1041h0M235 1082h0M239 1074h0M202 1067h0M223 1088h0M235 1075h0M245 1073h0M209 1054h0M199 1083h0M225 1047h0M234 1059h0M223 1084h0M200 1044h0M226 1062h0M243 1060h0M235 1090h0M209 1045h0M218 1062h0M213 1069h0M217 1082h0M234 1075h0M230 1068h0M205 1062h0M203 1085h0M212 1052h0M221 1097h0M212 1090h0M224 1057h0M227 1057h0M218 1076h0M221 1078h0M236 1079h0M249 1081h0M215 1085h0M194 1084h0M244 1050h0M245 1038h0M241 1059h0M224 1063h0M220 1076h0M227 1065h0M228 1060h0M214 1074h0M239 1048h0M240 1084h0M230 1087h0M198 1085h0M217 1070h0M222 1075h0M208 1061h0M233 1064h0M217 1087h0M207 1067h0M225 1060h0M236 1069h0M225 1075h0M226 1073h0M245 1069h0M228 1057h0M247 1080h0M235 1070h0M216 1067h0M232 1049h0M215 1064h0M208 1084h0M240 1076h0M220 1064h0M206 1059h0M215 1056h0M237 1085h0M208 1074h0M239 1069h0M246 1083h0M217 1068h0M231 1048h0M224 1080h0M233 1066h0M241 1053h0M244 1059h0M225 1060h0M210 1074h0M211 1078h0M217 1084h0M232 1083h0M213 1074h0M238 1070h0M226 1057h0M183 1073h0M210 1050h0M217 1076h0M228 1063h0M217 1068h0M207 1057h0M239 1052h0M226 1060h0M211 1037h0M216 1054h0M214 1065h0M232 1075h0M233 1049h0M247 1071h0M238 1047h0M243 1099h0M235 1082h0M220 1068h0M227 1076h0M230 1070h0M215 1048h0M214 1074h0M246 1056h0M205 1071h0M227 1053h0M249 1076h0M228 1046h0M245 1083h0M239 1090h0M214 1051h0M240 1072h0M227 1059h0M242 1070h0M235 906h0M225 944h0M237 893h0M221 918h0M224 930h0M229 953h0M227 932h0M235 968h0M225 914h0M246 957h0M219 930h0M223 898h0M234 897h0M189 933h0M211 940h0M210 901h0M198 903h0M220 987h0M232 918h0M241 940h0M201 891h0M205 920h0M224 919h0M217 911h0M226 954h0M211 965h0M214 927h0M245 949h0M225 886h0M225 925h0M221 961h0M217 979h0M225 938h0M220 936h0M241 940h0M212 915h0M239 948h0M213 931h0M225 948h0M212 937h0M208 915h0M221 968h0M223 975h0M229 966h0M222 889h0M197 923h0M246 930h0M218 949h0M219 925h0M226 944h0M217 914h0M244 913h0M213 929h0M222 941h0M244 967h0M224 937h0M236 931h0M226 907h0M229 932h0M206 940h0M214 966h0M228 939h0M243 957h0M250 914h0M219 932h0M227 905h0M228 899h0M217 928h0M227 942h0M215 943h0M228 932h0M224 921h0M247 968h0M227 967h0M213 921h0M220 945h0M220 911h0M205 907h0M236 946h0M206 980h0M218 923h0M222 935h0M219 933h0M234 957h0M216 930h0M215 923h0M223 926h0M231 911h0M229 952h0M220 926h0M232 925h0M220 939h0M193 951h0M227 948h0M207 924h0M230 948h0M217 923h0M243 941h0M239 901h0M229 920h0M218 965h0M211 911h0M215 928h0M224 944h0M240 946h0M246 960h0M231 930h0M241 927h0M236 935h0M217 950h0M233 942h0M238 937h0M215 936h0M247 910h0M201 934h0M211 967h0M226 911h0M223 911h0M230 957h0M239 960h0M224 963h0M230 903h0M241 912h0M217 896h0M214 882h0M209 913h0M209 924h0M234 926h0M229 961h0M216 971h0M223 933h0M228 968h0M209 957h0M218 936h0M239 953h0M211 911h0M209 933h0M249 931h0M203 952h0M213 895h0M229 934h0M226 952h0M236 882h0M226 963h0M240 908h0M201 907h0M229 929h0M234 930h0M208 906h0M221 955h0M242 909h0M230 932h0M210 905h0M244 923h0M223 945h0M229 951h0M214 925h0M227 943h0M215 892h0M235 955h0M236 931h0M202 924h0M249 942h0M227 894h0M216 958h0M228 931h0M240 952h0M231 930h0M229 960h0M228 903h0M222 927h0M229 966h0M223 923h0M233 946h0M214 946h0M226 943h0M205 885h0M205 892h0M236 959h0M208 970h0M210 914h0M233 954h0M238 950h0M227 972h0M223 936h0M229 926h0M222 964h0M244 949h0M223 922h0M219 925h0M219 932h0M221 961h0M206 924h0M234 924h0M219 948h0M223 910h0M226 950h0M203 957h0M203 951h0M208 940h0M224 960h0M223 924h0M215 939h0M221 956h0M229 965h0M233 939h0M223 950h0M234 901h0M229 925h0M228 954h0M200 931h0M237 891h0M227 935h0M217 957h0M236 935h0M242 971h0M227 955h0M235 977h0M234 951h0M226 952h0M244 933h0M223 911h0M218 920h0M239 943h0M199 938h0M247 934h0M226 1006h0M221 929h0M232 995h0M230 895h0M223 929h0M234 926h0M226 903h0M209 936h0M245 911h0M205 964h0M229 955h0M222 941h0M223 935h0M247 925h0M220 935h0M222 977h0M222 945h0M209 949h0M233 951h0M204 920h0M192 976h0M223 976h0M249 961h0M217 930h0M234 886h0M242 972h0M235 928h0M229 895h0M213 924h0M215 976h0M239 948h0M222 917h0M250 941h0M228 895h0M217 957h0M226 924h0M221 895h0M194 948h0M206 896h0M228 958h0M220 962h0M245 908h0M244 928h0M224 923h0M212 950h0M245 967h0M217 947h0M238 949h0M208 986h0M215 914h0M226 941h0M217 902h0M209 935h0M201 963h0M233 940h0M227 913h0M217 957h0M218 974h0M237 952h0M221 912h0M222 911h0M220 926h0M217 963h0M213 916h0M239 941h0M231 919h0M229 968h0M225 946h0M240 950h0M240 905h0M202 907h0M230 918h0M199 980h0M241 921h0M216 917h0M233 946h0M226 969h0M214 905h0M224 934h0M226 945h0M205 974h0M202 943h0M229 955h0M227 914h0M222 900h0M222 929h0M201 990h0M217 948h0M241 934h0M219 907h0M215 917h0M222 954h0M227 972h0M229 941h0M228 898h0M224 917h0M222 934h0M221 933h0M229 942h0M216 957h0M225 944h0M246 976h0M230 947h0M226 931h0M235 963h0M230 916h0M226 890h0M220 909h0M198 908h0M221 932h0M200 950h0M220 906h0M243 917h0M227 972h0M225 932h0M236 924h0M225 931h0M219 953h0M228 970h0M229 899h0M229 927h0M221 959h0M229 895h0M250 931h0M204 926h0M230 906h0M213 890h0M228 921h0M243 941h0M227 919h0M237 900h0M228 946h0M214 905h0M239 980h0M229 980h0M230 930h0M219 904h0M236 920h0M216 944h0M230 916h0M227 930h0M226 931h0M217 964h0M220 939h0M232 909h0M225 928h0M229 949h0M225 929h0M236 937h0M206 966h0M230 920h0M223 911h0M226 897h0M237 946h0M212 947h0M206 921h0M212 951h0M233 901h0M226 947h0M220 995h0M204 967h0M243 925h0M210 964h0M193 933h0M206 934h0M217 902h0M231 963h0M207 950h0M225 917h0M217 948h0M238 927h0M193 954h0M229 886h0M217 934h0M220 942h0M213 950h0M189 943h0M217 931h0M232 968h0M211 931h0M211 935h0M217 904h0M238 943h0M224 967h0M203 944h0M244 925h0M213 914h0M239 960h0M228 957h0M215 924h0M234 910h0M227 933h0M213 939h0M208 918h0M199 902h0M213 943h0M224 902h0M221 990h0M225 944h0M197 921h0M238 898h0M212 915h0M222 949h0M202 951h0M190 910h0M229 904h0M213 920h0M244 908h0M236 983h0M219 913h0M224 908h0M219 906h0M205 893h0M235 916h0M209 960h0M221 924h0M214 933h0M219 922h0M221 952h0M221 966h0M236 907h0M211 900h0M214 951h0M219 920h0M225 878h0M227 928h0M232 925h0M236 959h0M219 947h0M212 915h0M209 927h0M208 905h0M220 896h0M231 909h0M220 925h0M236 947h0M220 917h0M234 929h0M210 936h0M231 931h0M224 969h0M217 951h0M243 975h0M209 946h0M225 993h0M239 958h0M238 946h0M210 989h0M202 952h0M233 937h0M236 932h0M233 939h0M214 957h0M216 948h0M210 939h0M230 962h0M209 919h0M223 907h0M231 992h0M232 948h0M213 947h0M230 982h0M219 964h0M219 926h0M218 940h0M204 923h0M242 887h0M235 952h0M218 913h0M238 924h0M227 927h0M209 959h0M232 909h0M237 901h0M207 954h0M218 933h0M244 906h0M231 923h0M225 927h0M213 934h0M212 933h0M211 926h0M225 897h0M223 950h0M225 956h0M211 947h0M223 955h0M223 934h0M222 929h0M210 915h0M195 985h0M223 938h0M231 946h0M222 893h0M208 975h0M229 949h0M210 921h0M227 913h0M239 914h0M218 904h0M228 965h0M226 932h0M219 953h0M223 977h0M220 923h0M217 885h0M226 936h0M203 903h0M210 925h0M210 952h0M238 916h0M224 906h0M240 905h0M213 933h0M213 1000h0M221 927h0M211 931h0M216 922h0M236 918h0M229 917h0M236 914h0M211 926h0M239 923h0M212 929h0M214 939h0M215 941h0M235 945h0M242 940h0M247 964h0M220 952h0M214 928h0M222 913h0M227 931h0M248 952h0M220 916h0M217 916h0M214 933h0M206 925h0M230 918h0M209 920h0M234 914h0M243 891h0M213 948h0M240 928h0M203 926h0M212 916h0M219 918h0M223 936h0M220 888h0M224 922h0M212 985h0M244 966h0M226 920h0M229 973h0M222 929h0M216 931h0M234 910h0M237 936h0M239 908h0M222 970h0M225 902h0M231 946h0M223 921h0M203 975h0M218 942h0M217 915h0M227 911h0M235 893h0M231 962h0M218 938h0M234 922h0M221 928h0M221 922h0M217 910h0M215 937h0M238 973h0M207 909h0M223 909h0M214 927h0M216 912h0M226 914h0M220 941h0M232 938h0M237 937h0M205 970h0M244 960h0M218 949h0M215 919h0M231 935h0M215 898h0M234 933h0M225 911h0M214 932h0M200 963h0M224 960h0M236 919h0M230 905h0M212 966h0M217 914h0M230 934h0M236 902h0M220 907h0M224 926h0M212 890h0M207 956h0M219 906h0M226 905h0M235 955h0M224 919h0M201 945h0M249 938h0M217 953h0M219 903h0M222 948h0M201 959h0M244 933h0M218 898h0M230 926h0M239 972h0M239 938h0M201 966h0M218 921h0M237 945h0M211 925h0M220 930h0M209 970h0M222 950h0M237 987h0M233 915h0M218 955h0M244 897h0M248 919h0M221 923h0M231 929h0M221 976h0M243 1009h0M231 1035h0M218 1003h0M219 1022h0M226 956h0M230 994h0M225 1024h0M218 1016h0M222 997h0M214 997h0M217 1020h0M221 973h0M233 999h0M230 1034h0M225 959h0M198 998h0M220 953h0M189 986h0M215 1029h0M204 988h0M238 958h0M232 1037h0M207 996h0M247 1038h0M246 997h0M216 995h0M216 1021h0M234 1013h0M212 1020h0M229 1006h0M240 990h0M224 1028h0M211 1023h0M233 1039h0M241 985h0M249 988h0M204 993h0M217 977h0M237 1013h0M231 964h0M249 1012h0M239 1009h0M228 1020h0M224 1036h0M214 948h0M217 1000h0M228 1003h0M228 1012h0M220 1014h0M230 980h0M196 1006h0M229 1028h0M239 1008h0M239 985h0M215 1035h0M204 1000h0M207 969h0M249 989h0M211 957h0M225 1016h0M231 977h0M247 1006h0M230 1015h0M231 992h0M227 982h0M226 975h0M201 985h0M220 983h0M218 986h0M231 1022h0M237 1023h0M228 1022h0M238 996h0M218 1000h0M221 1012h0M216 990h0M226 1013h0M221 962h0M219 1022h0M219 1032h0M215 994h0M234 1030h0M218 1038h0M225 1011h0M249 1022h0M219 999h0M209 1029h0M240 1001h0M213 992h0M241 997h0M239 1032h0M244 1007h0M233 968h0M227 1001h0M236 956h0M225 989h0M224 997h0M217 1016h0M226 1030h0M228 1038h0M206 989h0M223 967h0M213 1005h0M228 965h0M198 1009h0M229 1021h0M214 985h0M207 967h0M233 978h0M202 985h0M222 1008h0M230 1029h0M203 961h0M221 1016h0M214 1008h0M221 1030h0M219 989h0M230 1026h0M213 998h0M212 972h0M218 992h0M210 997h0M221 1010h0M214 965h0M220 1019h0M241 998h0M218 982h0M244 985h0M215 999h0M219 1002h0M230 1011h0M230 1023h0M218 998h0M217 996h0M216 1021h0M238 999h0M218 1022h0M219 1015h0M213 1037h0M215 1015h0M248 1011h0M218 1020h0M245 944h0M217 997h0M235 962h0M234 1002h0M231 975h0M224 1016h0M207 928h0M221 995h0M232 1002h0M203 943h0M239 1026h0M220 994h0M233 987h0M203 1033h0M202 990h0M242 1013h0M239 1039h0M225 963h0M197 944h0M233 964h0M220 1003h0M227 1000h0M241 1009h0M238 999h0M223 1005h0M230 1021h0M215 1017h0M232 998h0M219 985h0M205 1007h0M212 1042h0M224 964h0M229 1006h0M235 938h0M223 1038h0M224 948h0M229 1013h0M243 1015h0M207 1031h0M233 1032h0M220 1028h0M191 966h0M231 1005h0M220 990h0M239 954h0M226 1040h0M197 942h0M208 1001h0M231 986h0M234 987h0M198 1027h0M222 983h0M198 935h0M206 1019h0M209 966h0M211 1016h0M231 1033h0M209 1040h0M246 1012h0M228 978h0M230 1010h0M223 995h0M241 1002h0M204 1009h0M238 958h0M206 1007h0M228 1016h0M227 1019h0M211 994h0M221 1012h0M207 1011h0M248 1004h0M234 1006h0M206 1003h0M216 968h0M220 991h0M219 1020h0M206 1003h0M228 1009h0M227 1003h0M199 947h0M214 990h0M209 981h0M221 1022h0M233 1005h0M237 986h0M220 970h0M221 1024h0M209 999h0M219 999h0M216 1008h0M204 1004h0M248 972h0M235 982h0M233 1017h0M247 1018h0M221 941h0M216 969h0M197 1016h0M235 989h0M207 993h0M246 970h0M210 1015h0M213 1035h0M211 969h0M200 995h0M239 1001h0M214 961h0M226 983h0M202 967h0M225 1016h0M226 1031h0M233 985h0M248 980h0M226 1002h0M240 1000h0M227 949h0M221 1004h0M245 955h0M204 1023h0M190 954h0M217 977h0M230 1028h0M234 976h0M212 996h0M229 1015h0M216 1028h0M233 993h0M232 993h0M217 1026h0M228 1004h0M211 994h0M203 1004h0M208 964h0M241 1028h0M229 1002h0M222 1014h0M228 1015h0M232 958h0M203 1000h0M222 965h0M237 1013h0M227 1028h0M232 998h0M213 1031h0M215 981h0M208 1019h0M226 996h0M237 979h0M235 987h0M220 995h0M226 1037h0M213 1028h0M241 996h0M213 971h0M220 1004h0M208 1012h0M135 1015h0M122 1002h0M162 950h0M180 1030h0M140 971h0M154 963h0M163 994h0M119 1032h0M168 1010h0M154 947h0M133 973h0M128 1028h0M138 995h0M169 965h0M144 935h0M175 954h0M158 1021h0M167 1033h0M147 1019h0M112 1033h0M145 1009h0M147 991h0M146 993h0M135 1026h0M162 974h0M153 997h0M134 989h0M155 1005h0M179 949h0M119 911h0M128 1014h0M171 1041h0M162 1011h0M179 1037h0M165 1008h0M126 1023h0M151 1020h0M181 1022h0M151 974h0M129 981h0M142 917h0M118 993h0M148 1014h0M175 971h0M162 971h0M183 989h0M147 964h0M140 1010h0M164 1019h0M175 957h0M153 1040h0M136 953h0M130 963h0M152 1013h0M174 931h0M180 939h0M166 992h0M172 1035h0M164 993h0M172 979h0M154 988h0M157 957h0M127 995h0M154 1024h0M118 1004h0M148 998h0M176 983h0M166 1028h0M119 1023h0M174 1038h0M156 987h0M174 1021h0M128 992h0M162 1010h0M150 1007h0M158 1000h0M110 1027h0M163 982h0M136 976h0M120 1022h0M132 1035h0M161 954h0M162 999h0M125 1019h0M173 922h0M159 1026h0M130 966h0M180 994h0M127 1022h0M150 1006h0M120 987h0M145 1036h0M135 977h0M176 938h0M159 973h0M134 1010h0M182 1041h0M172 988h0M163 1015h0M125 959h0M154 1028h0M183 1012h0M154 989h0M156 1024h0M168 1034h0M148 1031h0M178 1006h0M151 1032h0M165 992h0M182 1040h0M122 1033h0M159 985h0M167 997h0M135 1024h0M139 1006h0M137 1010h0M172 1022h0M165 971h0M117 1015h0M154 969h0M141 998h0M167 978h0M119 986h0M112 1004h0M163 1013h0M135 961h0M141 952h0M145 1004h0M136 1010h0M161 956h0M126 927h0M179 970h0M124 1031h0M139 995h0M151 1010h0M167 1004h0M169 945h0M163 989h0M147 1027h0M137 958h0M171 1000h0M177 1000h0M170 1022h0M159 990h0M177 982h0M151 1042h0M182 1021h0M126 1033h0M148 1011h0M157 988h0M183 1031h0M184 1008h0M170 941h0M146 1010h0M142 966h0M110 1027h0M118 948h0M127 1012h0M182 1041h0M183 1001h0M162 1019h0M123 996h0M109 964h0M123 1014h0M134 1034h0M146 1021h0M153 1009h0M139 1026h0M143 1040h0M156 999h0M174 981h0M176 1020h0M172 1034h0M184 971h0M170 932h0" stroke="#000" stroke-width="3.3" stroke-linecap="round" stroke-opacity="0.8" fill="none"/></g>
<g filter="url(#b0)"><path transform="scale(.5)" d="M121 1065h0M94 1080h0M219 1061h0M182 1053h0M159 1097h0M139 1097h0M142 1052h0M216 1062h0M92 1085h0M115 1086h0M146 1066h0M148 1055h0M175 1099h0M146 1047h0M326 1096h0M177 1088h0M120 1092h0M136 1069h0M191 1065h0M255 1077h0M193 1064h0M207 1073h0M254 1067h0M90 1063h0M104 1074h0M126 1088h0M217 1089h0M156 1087h0M96 1073h0M92 1067h0M127 1096h0M204 1064h0M239 1074h0M268 1057h0M213 1091h0M234 1071h0M101 1077h0M169 1045h0M198 1045h0M202 1094h0M303 1078h0M152 1095h0M246 1071h0M120 1069h0M265 1068h0M201 1097h0M158 1047h0M194 1086h0M162 1082h0M252 1082h0M215 1088h0M246 1089h0M144 1057h0M272 1089h0M126 1062h0M119 1082h0M231 1061h0M193 1096h0M215 1062h0M151 1058h0M272 1056h0M262 1079h0M188 1046h0M166 1048h0M98 1048h0M217 1077h0M251 1057h0M136 1060h0M144 1071h0M207 1092h0M135 1049h0M194 1099h0M205 1096h0M169 1058h0M126 1057h0M90 1064h0M252 1063h0M123 1066h0M225 1088h0M96 1087h0M194 1071h0M195 1067h0M251 1096h0M148 1095h0M149 1064h0M184 1097h0M226 1059h0M121 1095h0M148 1051h0M96 1045h0M193 1090h0M211 1049h0M120 1066h0M172 1054h0M255 1065h0M114 1075h0M185 1087h0M131 1046h0M224 1052h0M196 1081h0M142 1051h0M250 1083h0M209 1051h0M143 1101h0M230 1063h0M129 1057h0M293 1053h0M148 1056h0M216 1089h0M112 1087h0M176 1051h0M221 1087h0M259 1095h0M251 1095h0M158 1090h0M237 1051h0M215 1066h0M100 1061h0M167 1072h0M176 1048h0M151 1067h0M108 1083h0M121 1079h0M279 1095h0M206 1056h0M221 1045h0M173 1047h0M301 1072h0M92 1049h0M125 1050h0M214 1093h0M221 1088h0M242 1087h0M230 1079h0M260 1075h0M250 1064h0M217 1092h0M185 1097h0M144 1100h0M120 1052h0M114 1085h0M216 1059h0M163 1099h0M119 1064h0M241 1052h0M122 1079h0M191 1051h0M210 1086h0M136 1047h0M248 1077h0M191 1099h0M251 1062h0M223 1100h0M95 1070h0M232 1093h0M137 1094h0M197 1064h0M156 1088h0M115 1076h0M228 1094h0M261 1056h0M292 1047h0M173 1086h0M246 1094h0M285 1080h0M116 1071h0M225 1055h0M189 1095h0M145 1100h0M91 1075h0M210 1062h0M131 1058h0M125 1085h0M100 1090h0M122 1084h0M225 1100h0M152 1088h0M217 1089h0M178 1061h0M264 1090h0M239 1080h0M116 1060h0M263 1077h0M190 1054h0M100 1065h0M268 1070h0M189 1050h0" stroke="#fff" stroke-width="2.8" stroke-linecap="round" stroke-opacity="0.36" fill="none"/></g>
<rect x="43.0" y="421.7" width="142.0" height="130.3" fill="none" stroke="#1a1a1a" stroke-width="1.4"/>
<line x1="91.5" y1="421.7" x2="91.5" y2="552.0" stroke="#1a1a1a" stroke-width="1.4"/>
<line x1="43.0" y1="520.8" x2="185.0" y2="520.8" stroke="#1a1a1a" stroke-width="1.3"/>
<polygon points="219,546.5 220,534 226,527 240,524 252,527 262,525 280,523 292,527 296,536 293,546 280,550 262,549 250,550 232,550.5" fill="#000" fill-opacity="0.9" filter="url(#b1)"/>
<polygon points="214,549 215,531 228,522 295,521 301,532 299,549.5" fill="#000" fill-opacity="0.5" filter="url(#b2)"/>
<g filter="url(#b0)"><path transform="scale(.5)" d="M459 1098h0M466 1095h0M526 1044h0M447 1066h0M499 1098h0M479 1081h0M495 1061h0M461 1076h0M508 1064h0M492 1064h0M447 1076h0M480 1076h0M457 1067h0M498 1054h0M461 1058h0M478 1092h0M467 1065h0M467 1075h0M464 1061h0M484 1096h0M481 1065h0M508 1075h0M486 1072h0M487 1056h0M475 1072h0M470 1077h0M543 1061h0M468 1056h0M478 1067h0M500 1073h0M473 1075h0M524 1090h0M486 1090h0M470 1052h0M442 1082h0M484 1066h0M452 1086h0M465 1057h0M494 1076h0M446 1096h0M462 1067h0M458 1069h0M512 1070h0M493 1064h0M505 1092h0M496 1099h0M481 1046h0M445 1065h0M495 1076h0M482 1077h0M468 1073h0M462 1074h0M492 1097h0M510 1072h0M465 1068h0M431 1087h0M497 1080h0M477 1084h0M499 1092h0M460 1094h0M449 1092h0M540 1089h0M477 1097h0M474 1076h0M464 1072h0M479 1064h0M504 1079h0M446 1064h0M474 1070h0M512 1060h0M476 1072h0M472 1083h0M490 1067h0M463 1080h0M475 1067h0M437 1079h0M465 1082h0M460 1073h0M470 1049h0M477 1078h0M473 1076h0M511 1046h0M452 1065h0M457 1067h0M444 1069h0M488 1064h0M492 1086h0M496 1078h0M429 1072h0M491 1034h0M492 1066h0M492 1094h0M474 1060h0M491 1056h0M477 1073h0M502 1050h0M481 1101h0M499 1051h0M489 1079h0M459 1071h0M432 1098h0M488 1070h0M497 1095h0M473 1073h0M491 1072h0M519 1089h0M481 1068h0M425 1058h0M528 1073h0M506 1046h0M446 1087h0M503 1054h0M438 1059h0M479 1042h0M517 1058h0M485 1086h0M474 1074h0M504 1071h0M464 1073h0M463 1093h0M487 1060h0M441 1083h0M486 1085h0M477 1079h0M478 1100h0M476 1060h0M498 1085h0M468 1093h0M490 1064h0M455 1097h0M499 1057h0M542 1090h0M475 1069h0M497 1096h0M486 1071h0M441 1055h0M448 1046h0M487 1068h0M520 1089h0M499 1070h0M478 1064h0M464 1073h0M467 1068h0M471 1075h0M509 1071h0M467 1083h0M482 1058h0M470 1072h0M458 1086h0M485 1066h0M504 1079h0M477 1078h0M497 1084h0M459 1079h0M474 1070h0M468 1090h0M462 1087h0M504 1069h0M479 1090h0M521 1073h0M473 1079h0M494 1069h0M498 1081h0M478 1061h0M494 1043h0M453 1048h0M467 1071h0M468 1064h0M494 1046h0M439 1079h0M506 1080h0M447 1048h0M490 1078h0M478 1055h0M520 1086h0M490 1081h0M472 1070h0M478 1062h0M485 1056h0M474 1099h0M513 1062h0M498 1082h0M500 1080h0M470 1091h0M503 1057h0M478 1069h0M451 1075h0M468 1045h0M524 1075h0M473 1077h0M454 1062h0M518 1068h0M435 1079h0M498 1063h0M462 1093h0M498 1056h0M465 1068h0M472 1055h0M472 1059h0M494 1077h0M464 1070h0M465 1087h0M488 1083h0M426 1084h0M474 1068h0M442 1090h0M514 1074h0M472 1064h0M497 1075h0M459 1092h0M489 1078h0M475 1070h0M457 1066h0M463 1086h0M453 1095h0M503 1065h0M457 1049h0M497 1084h0M516 1078h0M486 1069h0M446 1083h0M468 1073h0M458 1081h0M435 1056h0M502 1082h0M453 1077h0M485 1088h0M502 1088h0M477 1084h0M491 1095h0M502 1050h0M442 1072h0M458 1088h0M513 1092h0M452 1081h0M499 1084h0M496 1080h0M490 1078h0M467 1074h0M454 1060h0M478 1061h0M462 1064h0M449 1036h0M492 1093h0M481 1064h0M503 1079h0M443 1073h0M477 1061h0M489 1053h0M477 1084h0M431 1082h0M497 1062h0M448 1071h0M476 1071h0M468 1058h0M432 1063h0M498 1085h0M493 1071h0M462 1066h0M480 1054h0M484 1080h0M461 1086h0M493 1042h0M466 1072h0M499 1081h0M472 1094h0M478 1078h0M487 1090h0M435 1087h0M484 1094h0M481 1073h0M460 1075h0M462 1081h0M477 1063h0M492 1073h0M467 1093h0M487 1080h0M458 1092h0M490 1057h0M469 1092h0M499 1073h0M481 1077h0M510 1066h0M479 1088h0M482 1089h0M477 1071h0M459 1073h0M445 1057h0M478 1061h0M479 1073h0M472 1082h0M465 1059h0M469 1071h0M508 1088h0M444 1049h0M446 1082h0M432 1086h0M468 1090h0M481 1061h0M466 1077h0M503 1070h0M462 1076h0M457 1081h0M485 1086h0M455 1090h0M544 1094h0M478 1072h0M439 1080h0M525 1081h0M485 1073h0M468 1096h0M477 1073h0M455 1076h0M480 1069h0M473 1071h0M455 1064h0M539 1056h0M492 1055h0M453 1087h0M441 1085h0M511 1071h0M494 1088h0M426 1068h0M466 1087h0M465 1056h0M443 1075h0M477 1080h0M449 1081h0M473 1060h0M490 1069h0M489 1064h0M517 1082h0M470 1076h0M447 1088h0M480 1094h0M481 1095h0M514 1076h0M483 1087h0M487 1073h0M532 1091h0M488 1057h0M450 1072h0M449 1054h0M491 1084h0M462 1074h0M503 1087h0M520 1071h0M467 1086h0M520 1072h0M468 1071h0M503 1091h0M452 1089h0M495 1092h0M464 1073h0M489 1082h0M453 1085h0M491 1071h0M486 1090h0M476 1075h0M451 1073h0M459 1060h0M499 1081h0M484 1077h0M509 1050h0M514 1068h0M454 1063h0M455 1072h0M495 1063h0M495 1067h0M476 1094h0M468 1059h0M478 1080h0M467 1068h0M491 1061h0M473 1063h0M491 1068h0M485 1074h0M474 1062h0M506 1067h0M473 1056h0M478 1063h0M450 1088h0M494 1078h0M481 1082h0M476 1077h0M453 1069h0M472 1038h0M447 1062h0M525 1052h0M431 1084h0M452 1081h0M475 1097h0M476 1086h0M472 1075h0M476 1073h0M510 1096h0M477 1071h0M481 1088h0M493 1075h0M511 1081h0M484 1093h0M516 1076h0M484 1072h0M523 1069h0M466 1089h0M491 1074h0M497 1079h0M476 1079h0M490 1077h0M488 1077h0M489 1061h0M517 1089h0M484 1083h0M520 1081h0M446 1080h0M429 1072h0M511 1059h0M440 1070h0M471 1074h0M473 1081h0M501 1073h0M456 1068h0M475 1086h0M501 1067h0M468 1055h0M487 1070h0M513 1081h0M504 1097h0M447 1075h0M471 1092h0M474 1076h0M428 1068h0M462 1060h0M480 1070h0M481 1087h0M486 1075h0M484 1059h0M467 1067h0M522 1057h0M468 1082h0M465 1083h0M449 1088h0M481 1044h0M443 1057h0M470 1069h0M484 1083h0M491 1081h0M457 1054h0M447 1080h0M453 1057h0M455 1080h0M445 1072h0M493 1086h0M435 1074h0M470 1055h0M461 1074h0M465 1084h0M467 1075h0M558 1080h0M496 1075h0M465 1084h0M442 1076h0M502 1059h0M522 1088h0M485 1070h0M499 1046h0M506 1047h0M464 1093h0M484 1048h0M436 1056h0M463 1062h0M499 1069h0M518 1093h0M447 1092h0M508 1058h0M468 1062h0M452 1073h0M483 1063h0M437 1083h0M508 1090h0M442 1067h0M468 1065h0M502 1061h0M469 1079h0M478 1078h0M473 1081h0M484 1075h0M489 1080h0M493 1081h0M487 1079h0M456 1067h0M469 1065h0M465 1065h0M459 1079h0M548 1101h0M476 1075h0M470 1071h0M490 1080h0M483 1087h0M465 1084h0M480 1060h0M506 1061h0M495 1064h0M460 1090h0M486 1074h0M457 1050h0M464 1072h0M497 1074h0M500 1067h0M498 1086h0M470 1086h0M516 1055h0M445 1065h0M463 1061h0M480 1055h0M519 1073h0M481 1071h0M463 1076h0M473 1079h0M494 1063h0M434 1065h0M482 1046h0M487 1075h0M445 1077h0M498 1073h0M488 1082h0M504 1090h0M459 1071h0M477 1060h0M479 1079h0M484 1048h0M461 1040h0M478 1074h0M495 1086h0M454 1073h0M480 1085h0M504 1071h0M441 1085h0M471 1049h0M480 1062h0M477 1091h0M475 1063h0M486 1070h0M479 1088h0M482 1081h0M475 1076h0M452 1063h0M501 1092h0M450 1083h0M497 1063h0M493 1082h0M505 1098h0M477 1079h0M455 1078h0M477 1071h0M480 1086h0M498 1085h0M519 1055h0M473 1073h0M467 1068h0M443 1070h0M505 1068h0M476 1080h0M476 1061h0M464 1090h0M461 1057h0M522 1076h0M450 1050h0M459 1056h0M473 1087h0M495 1069h0M492 1068h0M457 1061h0M500 1075h0M497 1087h0M494 1073h0M525 1060h0M499 1100h0M472 1066h0M497 1089h0M490 1065h0M480 1054h0M502 1090h0M472 1082h0M470 1075h0M481 1071h0M546 1070h0M501 1062h0M483 1074h0M457 1086h0M495 1092h0M487 1060h0M496 1078h0M520 1042h0M473 1076h0M502 1058h0M503 1078h0M426 1060h0M457 1080h0M466 1073h0M459 1081h0M496 1098h0M442 1064h0M462 1068h0M473 1083h0M462 1065h0M506 1093h0M459 1092h0M494 1073h0M492 1065h0M450 1071h0M441 1069h0M479 1060h0M459 1047h0M449 1073h0M461 1076h0M461 1067h0M437 1097h0M471 1086h0M458 1058h0M483 1068h0M475 1083h0M491 1085h0M481 1048h0M488 1095h0M486 1088h0M488 1081h0M491 1054h0M426 1075h0M491 1082h0M470 1067h0M452 1079h0M485 1084h0M474 1091h0M460 1089h0M458 1094h0M500 1061h0M490 1061h0M520 1089h0M479 1079h0M476 1068h0M451 1073h0M501 1079h0M504 1088h0M490 1062h0M454 1069h0M424 1053h0M479 1093h0M529 1077h0M500 1079h0M456 1087h0M476 1083h0M433 1070h0M500 1071h0M477 1086h0M512 1093h0M480 1067h0M500 1065h0M448 1063h0M476 1064h0M457 1088h0M450 1058h0M478 1083h0M465 1061h0M535 1069h0M541 1064h0M508 1058h0M517 1082h0M484 1067h0M516 1093h0M479 1078h0M462 1084h0M471 1083h0M431 1081h0M503 1077h0M516 1064h0M507 1077h0M481 1082h0M511 1051h0M480 1074h0M498 1075h0M468 1079h0M499 1066h0M483 1074h0M465 1075h0M526 1069h0M493 1083h0M508 1071h0M449 1085h0M430 1079h0M502 1084h0M481 1072h0M467 1088h0M439 1059h0M466 1072h0M491 1071h0M480 1068h0M504 1087h0M439 1090h0M487 1076h0M499 1082h0M483 1081h0M436 1081h0M482 1060h0M465 1083h0M468 1061h0M473 1067h0M481 1091h0M527 1075h0M490 1061h0M495 1082h0M463 1085h0M464 1077h0M485 1076h0M486 1081h0M464 1078h0M495 1089h0M458 1069h0M468 1057h0M489 1101h0M464 1071h0M469 1074h0M454 1084h0M501 1077h0M513 1052h0M488 1073h0M484 1064h0M454 1064h0M479 1083h0M524 1072h0M438 1088h0M469 1061h0M495 1049h0M447 1100h0M466 1082h0M509 1058h0M481 1091h0M499 1094h0M495 1067h0M498 1066h0M435 1055h0M479 1074h0M465 1090h0M475 1065h0M478 1074h0M492 1074h0M500 1069h0M475 1083h0M459 1078h0M482 1089h0M470 1076h0M511 1082h0M444 1071h0M495 1071h0M487 1087h0M525 1066h0M440 1065h0M467 1089h0M484 1092h0M482 1056h0M487 1066h0M485 1053h0M496 1061h0M468 1087h0M472 1063h0M513 1070h0M501 1074h0M435 1072h0M487 1073h0M517 1052h0M460 1084h0M505 1087h0M455 1080h0M490 1100h0M529 1082h0M493 1085h0M475 1079h0M487 1077h0M494 1075h0M464 1090h0M500 1065h0M492 1063h0M485 1065h0M463 1081h0M456 1085h0M516 1072h0M460 1080h0M472 1054h0M529 1068h0M522 1087h0M494 1080h0M470 1084h0M464 1080h0M457 1076h0M487 1076h0M485 1082h0M519 1068h0M483 1075h0M495 1097h0M485 1062h0M495 1065h0M442 1060h0M478 1056h0M469 1081h0M525 1073h0M475 1071h0M441 1073h0M452 1063h0M460 1061h0M425 1091h0M451 1087h0M495 1071h0M478 1076h0M489 1080h0M471 1074h0M502 1064h0M438 1046h0M469 1088h0M527 1067h0M481 1063h0M480 1072h0M499 1086h0M487 1076h0M498 1072h0M508 1095h0M497 1098h0M463 1082h0M484 1065h0M485 1073h0M488 1077h0M494 1071h0M477 1087h0M508 1077h0M436 1087h0M492 1060h0M430 1053h0M439 1099h0M467 1073h0M495 1095h0M481 1074h0M502 1093h0M484 1067h0M452 1087h0M454 1067h0M426 1058h0M492 1067h0M495 1073h0M464 1087h0M480 1070h0M513 1061h0M450 1075h0M476 1049h0M470 1071h0M456 1078h0M426 1081h0M446 1088h0M458 1052h0M476 1064h0M463 1063h0M488 1072h0M487 1078h0M487 1075h0M448 1084h0M468 1076h0M480 1076h0M461 1067h0M455 1070h0M494 1062h0M483 1098h0M443 1076h0M484 1071h0M464 1085h0M474 1078h0M450 1092h0M523 1071h0M487 1067h0M506 1081h0M482 1073h0M454 1078h0M485 1050h0M480 1049h0M513 1076h0M489 1064h0M520 1080h0M480 1072h0M457 1070h0M469 1058h0M503 1053h0M487 1092h0M483 1080h0M467 1060h0M518 1055h0M487 1059h0M490 1083h0M505 1075h0M478 1070h0M478 1074h0M496 1072h0M449 1076h0M536 1057h0M511 1078h0M502 1084h0M442 1087h0M469 1054h0M489 1061h0M473 1079h0M442 1086h0M495 1076h0M499 1073h0M513 1069h0M482 1084h0M488 1053h0M470 1090h0M465 1054h0M487 1061h0M507 1066h0M451 1065h0M484 1075h0M498 1063h0M465 1080h0M488 1086h0M441 1077h0M487 1082h0M470 1078h0M436 1061h0M504 1063h0M438 1061h0M480 1078h0M480 1076h0M448 1070h0M500 1060h0M472 1074h0M498 1065h0M508 1078h0M483 1071h0M461 1058h0M494 1074h0M496 1085h0M456 1076h0M461 1049h0M500 1076h0M479 1091h0M450 1090h0M465 1079h0M478 1063h0M443 1089h0M467 1080h0M466 1077h0M472 1073h0M496 1097h0M539 1064h0M569 1068h0M559 1083h0M560 1058h0M579 1075h0M570 1074h0M521 1089h0M544 1088h0M534 1073h0M567 1064h0M570 1080h0M549 1081h0M562 1081h0M543 1064h0M551 1066h0M552 1080h0M568 1062h0M556 1079h0M544 1068h0M551 1059h0M538 1062h0M575 1067h0M569 1065h0M529 1065h0M579 1074h0M549 1076h0M560 1065h0M547 1076h0M551 1051h0M567 1055h0M522 1053h0M514 1089h0M554 1086h0M567 1068h0M527 1080h0M556 1070h0M531 1090h0M542 1077h0M560 1095h0M596 1079h0M555 1088h0M579 1050h0M562 1063h0M588 1094h0M543 1068h0M542 1080h0M580 1052h0M526 1081h0M566 1061h0M569 1088h0M593 1080h0M547 1084h0M572 1065h0M593 1092h0M554 1070h0M563 1061h0M531 1096h0M577 1079h0M583 1065h0M554 1070h0M591 1071h0M567 1067h0M571 1081h0M561 1067h0M602 1060h0M545 1082h0M539 1059h0M571 1085h0M571 1099h0M535 1070h0M528 1092h0M549 1075h0M553 1076h0M554 1082h0M584 1068h0M560 1069h0M544 1095h0M519 1048h0M525 1089h0M574 1087h0M536 1071h0M605 1055h0M517 1053h0M554 1084h0M579 1070h0M568 1072h0M552 1091h0M563 1070h0M561 1075h0M571 1087h0M561 1079h0M554 1065h0M603 1067h0M599 1053h0M599 1057h0M560 1074h0M562 1073h0M546 1084h0M555 1058h0M579 1079h0M547 1055h0M583 1074h0M557 1064h0M536 1092h0M570 1062h0M574 1077h0M564 1049h0M572 1082h0M538 1080h0M556 1075h0M539 1083h0M561 1072h0M568 1058h0M571 1096h0M575 1072h0M542 1076h0M560 1069h0M550 1071h0M575 1074h0M569 1076h0M577 1071h0M561 1086h0M573 1094h0M530 1075h0M546 1076h0M568 1078h0M541 1082h0M582 1075h0M564 1093h0M582 1066h0M586 1079h0M541 1064h0M521 1062h0M562 1085h0M560 1067h0M555 1064h0M552 1097h0M563 1058h0M559 1063h0M538 1061h0M600 1061h0M544 1071h0M574 1079h0M553 1070h0M591 1063h0M575 1060h0M559 1070h0M580 1048h0M528 1073h0M564 1083h0M530 1086h0M574 1070h0M591 1065h0M585 1091h0M558 1076h0M551 1076h0M571 1067h0M560 1078h0M534 1074h0M564 1094h0M572 1068h0M559 1081h0M540 1079h0M543 1086h0M584 1062h0M579 1084h0M535 1068h0M559 1086h0M547 1089h0M584 1071h0M555 1076h0M571 1080h0M531 1065h0M529 1089h0M581 1071h0M575 1058h0M561 1080h0M527 1074h0M536 1086h0M559 1068h0M538 1087h0M564 1065h0M549 1062h0M586 1067h0M599 1068h0M541 1069h0M558 1083h0M575 1054h0M594 1098h0M530 1070h0M582 1075h0M512 1087h0M534 1065h0M530 1080h0M604 1076h0M581 1063h0M535 1077h0M524 1061h0M563 1059h0M580 1092h0M543 1070h0M560 1080h0M536 1063h0M583 1082h0M600 1095h0M570 1064h0M547 1060h0M580 1087h0M593 1066h0M588 1065h0M562 1065h0M571 1075h0M563 1042h0M570 1086h0M582 1056h0M517 1091h0M561 1067h0M538 1063h0M536 1062h0M570 1049h0M598 1090h0M522 1075h0M564 1085h0M492 1090h0M593 1065h0M552 1086h0M568 1097h0M534 1055h0M556 1074h0M549 1081h0M546 1080h0M535 1095h0M579 1075h0M543 1068h0M540 1053h0M539 1089h0M553 1086h0M564 1066h0M535 1068h0M561 1062h0M545 1057h0M591 1051h0M571 1056h0M552 1098h0M544 1078h0M536 1097h0M588 1093h0M544 1050h0M533 1051h0M586 1076h0M555 1061h0M569 1068h0M548 1076h0M537 1052h0M583 1097h0M517 1080h0M526 1064h0M551 1085h0M522 1093h0M560 1095h0M541 1042h0M577 1057h0M583 1057h0M557 1075h0M519 1053h0M563 1079h0M549 1100h0M592 1045h0M546 1056h0M535 1065h0M516 1077h0M588 1091h0M522 1076h0M571 1066h0M599 1082h0M589 1074h0M574 1083h0M537 1048h0M561 1058h0M581 1057h0M570 1054h0M604 1075h0M533 1072h0M562 1037h0M534 1077h0M540 1067h0M592 1089h0M563 1078h0M595 1077h0M526 1075h0M532 1061h0M561 1071h0M557 1083h0M554 1075h0M576 1065h0M554 1068h0M534 1060h0M569 1073h0M527 1082h0M576 1085h0M587 1074h0M572 1069h0M537 1071h0M569 1076h0M545 1062h0M546 1066h0M553 1079h0M557 1041h0M576 1065h0M603 1098h0M582 1069h0M558 1052h0M592 1065h0M582 1077h0M602 1075h0M560 1065h0M522 1078h0M544 1086h0M586 1076h0M578 1062h0M575 1071h0M592 1071h0M511 1085h0M585 1055h0M559 1078h0M578 1059h0M542 1065h0M549 1064h0M564 1053h0M569 1059h0M548 1063h0M577 1074h0M548 1077h0M537 1075h0M564 1073h0M531 1077h0M572 1077h0M549 1086h0M600 1089h0M566 1096h0M543 1048h0M541 1063h0M546 1070h0M567 1068h0M537 1068h0M570 1058h0M528 1066h0M566 1064h0M552 1063h0M570 1064h0M540 1063h0M549 1066h0M508 1058h0M553 1083h0M537 1056h0M552 1053h0M517 1072h0M567 1066h0M569 1079h0M577 1069h0M571 1064h0M564 1084h0M598 1078h0M549 1064h0M534 1083h0M587 1062h0M550 1070h0M527 1055h0M571 1063h0M572 1077h0M590 1063h0M591 1066h0M560 1090h0M549 1056h0M575 1068h0M525 1090h0M545 1083h0M558 1061h0M562 1053h0M584 1058h0M554 1072h0M530 1094h0M565 1075h0M528 1066h0M556 1066h0M545 1041h0M568 1084h0M533 1090h0M548 1067h0M563 1070h0M574 1057h0M562 1056h0M590 1089h0M555 1070h0M556 1079h0M572 1078h0M577 1077h0M540 1081h0M547 1057h0M568 1069h0M502 1083h0M560 1078h0M531 1069h0M546 1071h0M584 1059h0M551 1067h0M567 1050h0M574 1064h0M590 1089h0M553 1063h0M550 1062h0M581 1099h0M532 1061h0M563 1075h0M569 1054h0M577 1067h0M573 1069h0M529 1084h0M555 1064h0M529 1066h0M586 1089h0M575 1064h0M563 1075h0M546 1067h0M564 1059h0M554 1056h0M546 1065h0M568 1080h0M544 1074h0M592 1042h0M557 1051h0M587 1079h0M570 1077h0M523 1088h0M553 1070h0M527 1073h0M523 1050h0M588 1044h0M596 1073h0M579 1084h0M536 1068h0M574 1071h0M517 1074h0M559 1068h0M567 1065h0M590 1048h0M544 1080h0M581 1094h0M582 1055h0M579 1067h0M591 1086h0M541 1068h0M564 1055h0M526 1067h0M576 1092h0M570 1075h0M551 1091h0M529 1079h0M584 1092h0M542 1058h0M551 1083h0M570 1071h0M580 1072h0M556 1096h0M552 1076h0M544 1079h0M547 1082h0M555 1071h0M581 1067h0M553 1083h0M579 1078h0M585 1042h0M562 1088h0M574 1088h0M539 1079h0M542 1050h0M598 1082h0M594 1063h0M558 1062h0M587 1064h0M547 1067h0M549 1063h0M600 1056h0M540 1053h0M585 1060h0M576 1092h0M569 1098h0M579 1052h0M574 1067h0M593 1054h0M581 1051h0M572 1048h0M505 1078h0M533 1088h0M562 1063h0M583 1098h0M550 1062h0M561 1056h0M551 1057h0M594 1056h0M590 1087h0M553 1071h0M538 1094h0M548 1075h0M550 1072h0M573 1079h0M584 1072h0M573 1050h0M551 1046h0M580 1072h0M531 1063h0M568 1092h0M548 1077h0M534 1083h0M557 1061h0M587 1100h0M582 1073h0M583 1063h0M551 1056h0M550 1068h0M564 1061h0M548 1035h0M594 1084h0M571 1074h0M532 1054h0M551 1065h0M568 1063h0M507 1082h0M547 1078h0M556 1082h0M575 1064h0M565 1073h0M560 1053h0M545 1072h0M553 1043h0M577 1072h0M553 1059h0M543 1072h0M590 1089h0M560 1073h0M564 1083h0M583 1084h0M559 1086h0M517 1056h0M570 1083h0M542 1085h0M555 1070h0M558 1065h0M582 1066h0M544 1082h0M534 1071h0M542 1070h0M525 1066h0M523 1075h0M563 1058h0M528 1060h0M540 1092h0M576 1062h0M576 1076h0M533 1049h0M543 1053h0M542 1063h0M567 1046h0M602 1065h0M537 1060h0M537 1087h0M539 1037h0M542 1079h0M534 1070h0M589 1083h0M533 1082h0M559 1066h0M603 1061h0M575 1065h0M543 1052h0M570 1075h0M597 1060h0M588 1065h0M531 1075h0M579 1068h0M586 1096h0M594 1075h0M541 1095h0M566 1066h0M534 1079h0M600 1079h0M539 1074h0M551 1078h0M599 1048h0M566 1066h0M566 1067h0M538 1091h0M553 1066h0M584 1082h0M582 1062h0M553 1082h0M545 1057h0M538 1063h0M527 1063h0M548 1084h0M536 1069h0M549 1060h0M534 1070h0M573 1072h0M529 1087h0M561 1070h0M527 1066h0M600 1076h0M558 1100h0M586 1067h0M539 1058h0M556 1062h0M573 1060h0M582 1054h0M523 1088h0M538 1075h0M572 1074h0M586 1081h0M560 1071h0M589 1072h0M580 1082h0M546 1079h0M579 1043h0M554 1066h0M571 1074h0M531 1055h0M557 1062h0M554 1074h0M559 1092h0M567 1077h0M542 1091h0M585 1074h0M556 1078h0M585 1086h0M546 1084h0M560 1062h0M553 1083h0M600 1067h0M549 1073h0M551 1053h0M587 1058h0M552 1073h0M555 1082h0M536 1053h0M566 1070h0M534 1082h0M565 1049h0M565 1079h0M575 1061h0M555 1070h0M571 1061h0M557 1067h0M557 1061h0M568 1085h0M589 1070h0M568 1072h0M568 1057h0M522 1092h0M580 1076h0M589 1057h0M564 1100h0M561 1068h0M603 1084h0M543 1079h0M557 1053h0M549 1084h0M514 1093h0M576 1084h0M517 1080h0M541 1050h0M543 1076h0M585 1092h0M576 1075h0M553 1056h0M570 1071h0M561 1054h0M543 1070h0M551 1076h0M592 1077h0M570 1067h0M530 1077h0M560 1062h0M543 1082h0M573 1071h0M578 1050h0M558 1091h0M553 1075h0M555 1077h0M538 1052h0M580 1079h0M581 1059h0M565 1069h0M513 1053h0M571 1095h0M549 1095h0M537 1080h0M553 1056h0M579 1062h0M570 1084h0M545 1062h0M557 1071h0M599 1081h0M546 1074h0M556 1070h0M581 1079h0M553 1083h0M582 1080h0M547 1093h0M593 1060h0M579 1083h0M572 1082h0M555 1069h0M577 1073h0M581 1091h0M563 1079h0M591 1059h0M528 1079h0M594 1067h0M570 1066h0M560 1070h0M546 1054h0M567 1101h0M515 1032h0M574 1070h0M558 1073h0M560 1067h0M551 1073h0M548 1066h0M575 1082h0M582 1088h0M567 1098h0M572 1075h0M513 1088h0M570 1070h0M525 1068h0M538 1070h0M566 1071h0M557 1070h0M606 1058h0M573 1060h0M553 1088h0M538 1071h0M535 1092h0M568 1082h0M558 1087h0M532 1080h0M512 1089h0M547 1065h0M590 1071h0M573 1065h0M551 1086h0M546 1064h0M573 1067h0M527 1069h0M596 1062h0M527 1084h0M549 1064h0M536 1080h0M569 1067h0M549 1070h0M544 1082h0M604 1045h0M560 1080h0M560 1086h0M582 1074h0M546 1086h0M545 1063h0M555 1075h0M548 1068h0M565 1088h0M545 1059h0M530 1068h0M564 1080h0M551 1054h0M532 1086h0M575 1083h0M581 1073h0M549 1057h0M561 1068h0M535 1063h0M531 1079h0M563 1091h0M562 1069h0M576 1076h0M514 1072h0M529 1053h0M536 1088h0M598 1066h0M572 1083h0M567 1099h0M556 1064h0M530 1060h0M558 1044h0M583 1048h0M530 1064h0M550 1066h0M553 1097h0M550 1082h0M538 1094h0M556 1075h0M534 1059h0M560 1052h0M569 1075h0M493 1075h0M580 1059h0M568 1095h0M558 1070h0M595 1077h0M591 1059h0M557 1079h0M572 1085h0M580 1068h0M553 1067h0M576 1084h0M544 1078h0M553 1064h0M562 1086h0M552 1059h0M542 1066h0M559 1073h0M554 1069h0M568 1052h0M544 1092h0M553 1087h0M553 1064h0M533 1078h0M547 1092h0M580 1081h0M541 1076h0M542 1071h0M577 1088h0M524 1087h0M600 1060h0M561 1085h0M559 1085h0M562 1082h0M556 1062h0M569 1058h0M530 1064h0M564 1066h0M564 1058h0M583 1075h0M556 1059h0M557 1066h0M555 1052h0M574 1073h0M597 1086h0M530 1061h0M570 1077h0M563 1070h0M573 1089h0M533 1072h0M534 1053h0M540 1085h0M592 1094h0M566 1068h0M559 1078h0M549 1071h0M541 1066h0M562 1073h0M571 1089h0M576 1081h0M544 1085h0M513 1046h0M586 1083h0M561 1070h0M591 1065h0M575 1069h0M577 1090h0M576 1087h0M555 1079h0M575 1099h0M566 1077h0M548 1078h0M525 1068h0M590 1063h0M554 1082h0M543 1077h0M538 1067h0M586 1054h0M518 1049h0M574 1065h0M591 1049h0M567 1041h0M552 1065h0M559 1043h0M514 1054h0M548 1055h0M590 1041h0M573 1056h0M554 1062h0M564 1078h0M533 1089h0M539 1050h0M556 1084h0M568 1067h0M592 1056h0M541 1095h0M587 1066h0M562 1064h0M531 1073h0M477 1057h0M516 1064h0M499 1068h0M514 1096h0M532 1066h0M536 1058h0M482 1076h0M484 1061h0M581 1096h0M557 1060h0M451 1063h0M469 1063h0M502 1078h0M509 1053h0M578 1086h0M533 1063h0M513 1078h0M429 1074h0M541 1061h0M568 1067h0M541 1085h0M545 1058h0M533 1082h0M499 1060h0M523 1083h0M577 1092h0M537 1051h0M517 1069h0M576 1083h0M469 1056h0M526 1060h0M449 1052h0M574 1079h0M474 1071h0M497 1063h0M562 1090h0M563 1069h0M570 1055h0M445 1065h0M499 1085h0M476 1075h0M531 1079h0M498 1068h0M484 1072h0M488 1080h0M530 1072h0M525 1075h0M553 1088h0M444 1090h0M534 1085h0M563 1068h0M485 1086h0M592 1067h0M453 1086h0M556 1072h0M474 1098h0M507 1077h0M495 1093h0M533 1090h0M554 1082h0M512 1070h0M494 1070h0M464 1081h0M563 1075h0M439 1069h0M580 1056h0M498 1073h0M517 1080h0M559 1080h0M506 1054h0M523 1065h0M527 1076h0M487 1074h0M518 1052h0M506 1083h0M441 1073h0M570 1060h0M506 1055h0M581 1077h0M528 1074h0M524 1085h0M526 1054h0M568 1076h0M529 1068h0M499 1066h0M511 1073h0M517 1057h0M499 1077h0M547 1083h0M493 1082h0M521 1088h0M498 1092h0M514 1076h0M523 1075h0M483 1082h0M503 1090h0M515 1060h0M444 1059h0M551 1074h0M560 1084h0M544 1058h0M525 1061h0M577 1067h0M533 1068h0M535 1094h0M533 1094h0M472 1077h0M474 1097h0M527 1080h0M509 1081h0M497 1080h0M464 1079h0M472 1080h0M478 1089h0M493 1080h0M478 1081h0M488 1087h0M552 1094h0M528 1059h0M521 1081h0M495 1079h0M547 1063h0M587 1062h0M503 1073h0M515 1062h0M577 1074h0M500 1061h0M539 1077h0M495 1078h0M597 1074h0M463 1081h0M584 1072h0M492 1081h0M509 1086h0M535 1077h0M504 1085h0M528 1067h0M537 1067h0M572 1076h0M516 1083h0M496 1069h0M552 1094h0M546 1049h0M517 1087h0M488 1077h0M510 1089h0M556 1085h0M428 1098h0M514 1076h0M470 1066h0M564 1062h0M528 1085h0M509 1094h0M480 1070h0M541 1053h0M500 1078h0M535 1086h0M506 1082h0M570 1078h0M471 1079h0M492 1082h0M512 1063h0M528 1091h0M531 1089h0M519 1064h0M561 1074h0M567 1086h0M536 1076h0M508 1042h0M511 1070h0M507 1084h0M506 1063h0M550 1060h0M556 1079h0M555 1094h0M577 1082h0M529 1077h0M508 1067h0M571 1092h0M565 1055h0M550 1055h0M460 1093h0M530 1100h0M587 1055h0M454 1097h0M484 1070h0M542 1090h0M550 1058h0M523 1075h0M578 1067h0M571 1090h0M520 1071h0M573 1097h0M474 1050h0M517 1082h0M507 1054h0M491 1083h0M479 1088h0M531 1073h0M439 1048h0M521 1080h0M549 1094h0M522 1073h0M538 1093h0M509 1093h0M565 1033h0M543 1098h0M524 1091h0M522 1080h0M512 1076h0M464 1059h0M482 1089h0M562 1079h0M551 1060h0M500 1082h0M479 1052h0M438 1094h0M518 1075h0M533 1093h0M467 1062h0M464 1056h0M519 1066h0M567 1077h0M517 1094h0M446 1055h0M565 1055h0M500 1069h0M595 1078h0M535 1087h0M484 1088h0M536 1043h0M478 1059h0M547 1080h0M576 1084h0M453 1050h0M480 1074h0M445 1057h0M525 1058h0M521 1075h0M451 1083h0M560 1071h0M530 1076h0M538 1051h0M518 1062h0M497 1055h0M505 1057h0M582 1064h0M478 1083h0M568 1069h0M539 1073h0M510 1076h0M548 1077h0M520 1068h0M571 1091h0M483 1076h0M556 1072h0M522 1098h0M532 1059h0M500 1063h0M511 1076h0M531 1070h0M465 1063h0M547 1074h0M517 1071h0M587 1072h0M539 1068h0M550 1061h0M537 1082h0M508 1070h0M579 1073h0M582 1059h0M529 1091h0M509 1081h0M561 1070h0M558 1044h0M517 1078h0M492 1061h0M511 1076h0M520 1075h0M542 1079h0M554 1087h0M603 1073h0M520 1058h0M519 1090h0M593 1081h0M489 1084h0M478 1056h0M587 1066h0M580 1064h0M531 1059h0M558 1093h0M522 1069h0M476 1055h0M572 1067h0M479 1085h0M512 1078h0M475 1079h0M451 1076h0M518 1082h0M478 1075h0M448 1055h0M567 1069h0M516 1079h0M519 1084h0M478 1083h0M579 1060h0M484 1064h0M592 1054h0M506 1057h0M530 1083h0M566 1061h0M484 1092h0M529 1077h0M437 1069h0M532 1081h0M516 1087h0M568 1072h0M550 1094h0M604 1055h0M552 1092h0M557 1060h0M532 1074h0M527 1074h0M471 1072h0M532 1085h0M567 1076h0M534 1066h0M520 1075h0M466 1088h0M486 1098h0M579 1074h0M540 1076h0M530 1048h0M515 1059h0M546 1074h0M481 1081h0M569 1073h0M460 1083h0M569 1081h0M479 1080h0M478 1078h0M519 1085h0M544 1075h0M491 1065h0M547 1077h0M518 1073h0M497 1087h0M500 1086h0M585 1076h0M513 1079h0M475 1055h0M576 1078h0M518 1091h0M537 1056h0M517 1068h0M561 1065h0M517 1085h0M495 1071h0M562 1079h0M542 1071h0M472 1076h0M572 1057h0M518 1081h0M531 1075h0M548 1093h0M493 1068h0M557 1063h0M568 1059h0M525 1085h0M573 1085h0M486 1067h0M560 1075h0M490 1081h0M535 1062h0M496 1077h0M552 1077h0M493 1048h0M488 1057h0M516 1060h0M535 1056h0M531 1092h0M513 1061h0M530 1099h0M504 1058h0M571 1074h0M463 1065h0M566 1056h0M488 1090h0M500 1057h0M516 1088h0M451 1088h0M530 1080h0M546 1073h0M443 1073h0M497 1060h0M555 1059h0M505 1065h0M493 1069h0M515 1053h0M487 1081h0M519 1061h0M497 1084h0M537 1044h0M560 1085h0M504 1081h0M505 1035h0M526 1075h0M547 1077h0M511 1067h0M503 1082h0M562 1074h0M490 1072h0M474 1073h0M558 1071h0M551 1050h0M489 1072h0M471 1074h0M485 1092h0M552 1080h0M501 1063h0M487 1092h0M468 1076h0M503 1074h0M542 1085h0M553 1076h0M489 1062h0M498 1079h0M554 1077h0M556 1075h0M485 1063h0M574 1079h0M528 1071h0M538 1077h0M498 1074h0M498 1066h0M524 1060h0M549 1069h0M557 1061h0M485 1099h0M579 1078h0M581 1081h0M539 1078h0M583 1087h0M473 1076h0M452 1069h0M511 1084h0M555 1069h0M521 1090h0M522 1067h0M556 983h0M561 948h0M559 956h0M558 976h0M580 951h0M536 976h0M563 944h0M527 960h0M568 1015h0M583 953h0M556 925h0M584 962h0M550 906h0M569 932h0M589 970h0M562 960h0M565 916h0M567 974h0M551 931h0M566 937h0M578 966h0M575 951h0M558 981h0M567 957h0M580 922h0M536 934h0M565 971h0M556 930h0M550 940h0M553 980h0M561 934h0M564 923h0M558 924h0M558 925h0M571 912h0M581 947h0M541 905h0M548 899h0M559 1001h0M557 962h0M562 937h0M587 956h0M540 945h0M541 937h0M562 979h0M563 923h0M562 954h0M549 939h0M577 1014h0M567 922h0M573 924h0M549 938h0M564 944h0M570 910h0M519 957h0M570 940h0M548 952h0M550 976h0M558 963h0M533 920h0M548 954h0M545 924h0M540 933h0M534 910h0M567 961h0M584 975h0M580 958h0M548 918h0M571 971h0M545 971h0M561 954h0M545 885h0M539 934h0M571 935h0M578 909h0M584 950h0M551 930h0M573 914h0M541 942h0M569 937h0M555 974h0M559 942h0M585 989h0M545 914h0M542 959h0M568 934h0M557 922h0M563 969h0M538 924h0M571 950h0M555 938h0M519 908h0M554 935h0M547 934h0M558 909h0M559 942h0M559 951h0M570 999h0M524 1000h0M561 962h0M555 951h0M553 941h0M590 955h0M544 976h0M556 912h0M539 964h0M559 961h0M536 905h0M556 959h0M552 978h0M557 913h0M567 961h0M566 950h0M538 956h0M554 900h0M559 939h0M549 959h0M549 914h0M579 952h0M575 973h0M564 981h0M530 936h0M588 907h0M532 928h0M551 924h0M555 926h0M563 938h0M569 936h0M553 950h0M543 935h0M566 929h0M572 934h0M558 950h0M561 943h0M531 942h0M550 926h0M565 916h0M554 931h0M537 942h0M578 946h0M558 936h0M551 899h0M559 961h0M531 890h0M562 989h0M580 952h0M543 994h0M559 919h0M543 978h0M558 968h0M543 955h0M548 970h0M535 971h0M546 933h0M541 983h0M558 942h0M548 930h0M558 938h0M555 950h0M575 960h0M562 945h0M546 965h0M540 926h0M579 888h0M554 944h0M564 969h0M563 1028h0M548 923h0M546 954h0M579 955h0M557 961h0M570 981h0M534 947h0M576 949h0M541 962h0M552 950h0M553 960h0M548 955h0M545 954h0M528 998h0M575 947h0M587 952h0M559 920h0M562 927h0M564 956h0M569 909h0M559 894h0M571 929h0M546 917h0M547 962h0M545 909h0M576 897h0M554 943h0M554 965h0M552 948h0M556 990h0M566 979h0M567 921h0M557 949h0M554 897h0M560 928h0M564 933h0M566 913h0M542 937h0M569 923h0M549 914h0M521 961h0M551 895h0M565 946h0M589 961h0M574 953h0M586 949h0M570 949h0M550 903h0M577 961h0M584 919h0M521 963h0M523 932h0M543 920h0M530 919h0M536 942h0M547 947h0M532 1005h0M583 953h0M568 982h0M544 943h0M568 954h0M554 960h0M565 928h0M567 935h0M574 956h0M549 998h0M554 953h0M555 975h0M548 921h0M567 899h0M557 962h0M584 901h0M536 923h0M567 966h0M551 977h0M549 956h0M555 992h0M580 975h0M551 898h0M553 928h0M548 922h0M553 956h0M578 972h0M583 884h0M569 1012h0M575 966h0M573 940h0M555 928h0M552 936h0M549 986h0M569 970h0M585 951h0M574 924h0M565 963h0M541 964h0M560 929h0M581 947h0M559 968h0M551 903h0M573 974h0M551 951h0M560 951h0M576 948h0M571 968h0M555 954h0M554 940h0M579 921h0M571 939h0M552 948h0M551 899h0M576 965h0M553 908h0M545 993h0M545 924h0M590 886h0M542 916h0M551 884h0M562 906h0M539 953h0M545 955h0M547 990h0M542 951h0M542 983h0M531 934h0M562 932h0M557 929h0M551 952h0M589 957h0M567 926h0M546 946h0M549 991h0M559 989h0M556 977h0M537 994h0M541 950h0M557 940h0M572 918h0M567 900h0M537 966h0M580 915h0M568 934h0M584 954h0M587 933h0M589 927h0M586 964h0M537 975h0M563 969h0M546 933h0M540 990h0M572 949h0M568 933h0M552 965h0M558 970h0M575 972h0M552 909h0M566 913h0M580 938h0M572 954h0M573 956h0M567 950h0M548 897h0M534 978h0M549 956h0M530 933h0M570 951h0M571 1005h0M541 945h0M562 974h0M551 913h0M581 927h0M556 930h0M556 950h0M574 956h0M564 939h0M559 972h0M548 945h0M562 957h0M563 911h0M545 919h0M557 949h0M559 953h0M582 961h0M557 887h0M527 959h0M577 941h0M541 958h0M543 980h0M554 932h0M559 987h0M537 981h0M585 969h0M560 973h0M552 921h0M578 901h0M566 929h0M554 944h0M552 982h0M548 912h0M539 945h0M562 943h0M562 911h0M565 969h0M537 936h0M559 934h0M547 925h0M543 991h0M540 914h0M536 949h0M544 961h0M561 954h0M571 943h0M553 946h0M575 918h0M555 992h0M565 981h0M570 894h0M553 906h0M563 940h0M571 951h0M554 977h0M539 895h0M574 956h0M570 917h0M570 963h0M560 945h0M557 957h0M538 983h0M545 914h0M579 942h0M535 949h0M551 955h0M541 941h0M553 991h0M544 974h0M574 955h0M555 959h0M547 974h0M533 984h0M553 927h0M564 993h0M558 1003h0M558 955h0M538 943h0M558 926h0M538 928h0M565 964h0M587 884h0M587 970h0M559 981h0M564 897h0M570 903h0M571 906h0M533 971h0M552 924h0M587 944h0M584 936h0M558 884h0M579 930h0M575 924h0M530 952h0M541 979h0M584 932h0M563 960h0M566 910h0M576 993h0M562 947h0M550 959h0M570 927h0M533 901h0M568 948h0M553 881h0M536 991h0M544 914h0M575 980h0M551 948h0M566 957h0M552 943h0M568 987h0M566 891h0M544 915h0M571 986h0M567 907h0M554 940h0M573 948h0M571 929h0M589 906h0M557 973h0M572 909h0M549 932h0M572 968h0M535 935h0M562 973h0M569 980h0M552 923h0M562 950h0M557 912h0M563 929h0M569 939h0M546 915h0M549 941h0M557 903h0M569 932h0M569 949h0M553 979h0M572 906h0M555 903h0M549 938h0M551 935h0M567 974h0M568 969h0M549 931h0M574 926h0M566 945h0M568 976h0M561 926h0M547 993h0M573 905h0M559 923h0M520 948h0M559 997h0M560 901h0M560 944h0M542 903h0M549 940h0M575 920h0M564 990h0M544 910h0M549 957h0M544 972h0M549 923h0M565 966h0M552 938h0M572 993h0M551 966h0M575 960h0M561 949h0M542 937h0M546 926h0M562 999h0M563 931h0M577 914h0M573 919h0M564 998h0M557 922h0M556 959h0M525 1000h0M542 955h0M568 919h0M555 973h0M552 961h0M558 940h0M561 951h0M555 973h0M560 945h0M524 895h0M571 962h0M563 976h0M531 937h0M570 966h0M575 964h0M557 982h0M548 931h0M585 933h0M580 919h0M559 970h0M534 939h0M525 920h0M557 941h0M574 913h0M584 932h0M543 951h0M569 966h0M567 918h0M531 989h0M562 953h0M576 968h0M541 895h0M531 898h0M568 944h0M559 916h0M560 930h0M558 959h0M559 960h0M556 980h0M586 935h0M561 938h0M552 974h0M578 961h0M537 946h0M554 949h0M559 1016h0M575 1004h0M576 934h0M579 990h0M552 957h0M570 961h0M572 890h0M575 973h0M555 990h0M562 1001h0M564 959h0M570 957h0M580 925h0M548 922h0M574 931h0M565 930h0M546 929h0M558 927h0M580 961h0M570 948h0M559 892h0M559 921h0M571 940h0M562 896h0M570 952h0M524 929h0M548 952h0M585 970h0M553 910h0M547 951h0M557 962h0M564 943h0M559 957h0M550 942h0M548 953h0M569 967h0M558 920h0M551 960h0M550 950h0M564 967h0M546 983h0M537 974h0M565 979h0M554 954h0M547 930h0M535 950h0M553 978h0M587 914h0M580 956h0M543 896h0M560 932h0M576 928h0M584 902h0M561 953h0M585 968h0M553 960h0M566 956h0M552 928h0M542 910h0M564 962h0M550 968h0M541 928h0M552 913h0M543 951h0M554 943h0M558 917h0M578 935h0M585 1011h0M578 929h0M571 921h0M528 936h0M567 945h0M581 966h0M572 1003h0M556 963h0M575 935h0M566 981h0M538 952h0M566 971h0M564 957h0M570 991h0M559 954h0M554 968h0M551 900h0M542 930h0M543 932h0M560 948h0M549 980h0M572 949h0M575 940h0M563 977h0M568 946h0M537 934h0M549 963h0M562 952h0M536 956h0M567 984h0M576 884h0M587 1002h0M577 953h0M555 913h0M558 982h0M568 949h0M563 917h0M531 955h0M542 944h0M576 928h0M544 945h0M551 938h0M564 942h0M571 991h0M551 891h0M542 979h0M557 942h0M554 971h0M583 898h0M576 941h0M535 910h0M561 952h0M545 969h0M556 955h0M541 940h0M587 900h0M564 940h0M571 961h0M574 951h0M532 979h0M592 919h0M553 957h0M538 947h0M564 944h0M557 970h0M557 982h0M554 923h0M574 965h0M538 911h0M558 966h0M556 933h0M557 981h0M530 930h0M546 957h0M583 979h0M563 936h0M578 936h0M549 963h0M571 970h0M536 933h0M555 950h0M562 910h0M539 912h0M537 993h0M561 888h0M545 947h0M573 986h0M572 914h0M567 914h0M565 940h0M582 923h0M579 967h0M541 904h0M563 956h0M540 955h0M532 985h0M546 955h0M551 1025h0M571 968h0M566 1011h0M547 1026h0M567 1031h0M528 1016h0M553 1007h0M588 1021h0M579 991h0M553 988h0M555 1003h0M578 991h0M580 994h0M591 996h0M549 1014h0M558 992h0M574 1023h0M577 976h0M577 962h0M564 998h0M548 1019h0M543 994h0M545 1033h0M577 1008h0M561 995h0M578 1028h0M550 984h0M581 981h0M570 1036h0M535 1017h0M570 1034h0M584 990h0M568 1019h0M582 1017h0M569 980h0M567 1010h0M567 978h0M549 1012h0M548 1035h0M573 1002h0M583 1019h0M569 1018h0M591 990h0M577 1023h0M547 1026h0M558 992h0M555 1013h0M551 989h0M561 1008h0M547 988h0M543 994h0M576 1020h0M545 1009h0M556 1017h0M566 965h0M540 1015h0M555 1028h0M547 961h0M551 988h0M573 956h0M541 974h0M585 979h0M561 1010h0M564 1016h0M576 1017h0M552 1011h0M565 1021h0M580 1003h0M551 954h0M569 1003h0M574 983h0M557 991h0M545 979h0M556 992h0M573 1019h0M571 998h0M569 1004h0M537 986h0M558 1024h0M559 990h0M562 997h0M562 969h0M569 1017h0M548 1030h0M564 994h0M561 1026h0M567 960h0M559 1000h0M584 1030h0M540 1007h0M521 1012h0M556 1036h0M577 983h0M567 1004h0M558 1007h0M557 1037h0M526 996h0M556 990h0M522 970h0M560 985h0M564 982h0M541 1007h0M567 1006h0M574 1036h0M557 1028h0M580 1015h0M587 988h0M586 990h0M565 1023h0M558 1037h0M529 1017h0M532 950h0M542 1033h0M559 1004h0M555 982h0M544 1011h0M555 1003h0M549 1036h0M553 1033h0M539 1015h0M570 1016h0M555 978h0M583 972h0M545 1024h0M581 976h0M577 1039h0M552 1001h0M547 956h0M565 1036h0M555 980h0M547 960h0M545 958h0M552 1011h0M558 1005h0M554 1016h0M525 1011h0M529 1014h0M536 1014h0M561 1018h0M547 1001h0M559 992h0M544 1031h0M552 1013h0M552 988h0M586 991h0M561 1012h0M568 1021h0M535 1015h0M540 1003h0M571 957h0M571 1023h0M537 1041h0M576 993h0M541 1025h0M548 957h0M548 1015h0M579 991h0M556 1005h0M556 1002h0M573 1016h0M578 965h0M577 986h0M543 1011h0M567 1033h0M542 1015h0M577 976h0M588 1003h0M528 993h0M572 1002h0M571 1020h0M555 970h0M565 977h0M568 1019h0M558 1018h0M565 992h0M531 958h0M549 991h0M543 1008h0M557 1008h0M560 953h0M522 1017h0M564 988h0M560 1024h0M532 1007h0M553 996h0M550 948h0M563 1016h0M546 1006h0M550 998h0M567 995h0M537 1018h0M573 950h0M571 989h0M554 997h0M532 997h0M557 1001h0M538 1002h0M558 980h0M575 1011h0M574 1000h0M563 1040h0M566 1002h0M554 1025h0M561 991h0M549 1024h0M545 1006h0M565 959h0M575 999h0M548 1028h0M557 1008h0M571 1026h0M562 1020h0M541 990h0M574 1002h0M547 1037h0M580 1018h0M558 1041h0M553 984h0M561 998h0M565 989h0M585 1005h0M570 1027h0M554 1019h0M570 1016h0M566 1038h0M579 1030h0M522 998h0M545 992h0M566 978h0M563 1028h0M584 1006h0M555 984h0M557 1001h0M537 984h0M591 1033h0M574 970h0M557 1015h0M519 991h0M551 1031h0M550 1013h0M566 977h0M536 1022h0M569 1028h0M557 987h0M528 1007h0M560 964h0M556 1018h0M566 988h0M547 999h0M562 1006h0M547 996h0M565 982h0M528 1005h0M565 1023h0M577 1021h0M559 1033h0M570 960h0M556 994h0M552 979h0M567 993h0M564 970h0M574 1023h0M575 1020h0M571 1009h0M567 1031h0M562 975h0M562 1012h0M592 1015h0M539 993h0M572 999h0M547 1032h0M560 1017h0M550 1008h0M586 1042h0M563 993h0M554 972h0M567 979h0M563 998h0M568 1033h0M565 1020h0M558 967h0M562 1035h0M575 1007h0M584 978h0M578 1014h0M563 1017h0M588 984h0M578 1016h0M557 1005h0M543 1004h0M571 1022h0M555 1037h0M552 1008h0M579 989h0M561 1027h0M580 1027h0M535 1042h0M548 1030h0M554 1015h0M570 1024h0M532 991h0M573 1012h0M563 997h0M555 986h0M563 1017h0M555 1002h0M557 1012h0M572 1005h0M549 989h0M554 995h0M564 991h0M549 974h0M548 1002h0M558 1021h0M567 1017h0M539 1040h0M549 998h0M558 1018h0M559 975h0M576 982h0M542 1005h0M559 1008h0M546 992h0M546 997h0M565 1024h0M574 1028h0M522 990h0M542 1014h0M540 1014h0M580 992h0M557 1030h0M545 995h0M573 999h0M573 978h0M566 1016h0M535 993h0M549 1019h0M549 1008h0M573 1016h0M552 1011h0M533 1007h0M522 988h0M574 1030h0M589 1009h0M571 999h0M568 1009h0M521 1003h0M585 982h0M555 1014h0M550 985h0M574 1004h0M550 1027h0M570 1025h0M561 992h0M552 1026h0M568 1011h0M573 992h0M550 1014h0M553 938h0M564 1028h0M550 965h0M580 1012h0M562 1013h0M561 989h0M553 1018h0M548 998h0M568 1003h0M558 992h0M577 992h0M534 973h0M560 1002h0M561 1013h0M555 994h0M543 1035h0M585 970h0M546 1009h0M571 1029h0M551 1015h0M565 1002h0M563 996h0M558 1010h0M571 994h0M558 1011h0M551 1012h0M553 1019h0M557 1016h0M551 1001h0M536 966h0M552 1024h0M521 1017h0M554 980h0M571 1031h0M553 1012h0M559 975h0M542 960h0M545 995h0M546 984h0M560 1009h0M557 1001h0M552 988h0M585 1003h0M564 1029h0M537 999h0M571 999h0M569 1026h0M559 1036h0M578 1005h0M576 1031h0M556 977h0M563 1024h0M541 976h0M566 1025h0M560 1007h0M550 997h0M583 964h0M543 1026h0M569 1006h0M553 1014h0M562 1004h0M545 997h0M493 1019h0M469 1009h0M503 954h0M475 957h0M505 981h0M506 1026h0M471 981h0M491 966h0M495 1016h0M497 950h0M503 1002h0M514 1017h0M450 979h0M456 1009h0M482 1011h0M485 984h0M492 954h0M502 959h0M500 986h0M490 972h0M488 1009h0M513 1007h0M474 1000h0M469 984h0M494 973h0M440 988h0M491 968h0M482 970h0M497 986h0M509 1016h0M462 1000h0M482 1001h0M485 936h0M482 1017h0M490 1004h0M484 987h0M483 978h0M504 963h0M460 917h0M460 1007h0M484 957h0M513 987h0M456 993h0M499 1038h0M511 951h0M471 983h0M474 1014h0M456 1014h0M501 1003h0M503 926h0M478 998h0M469 962h0M454 1025h0M477 1037h0M492 967h0M465 1017h0M506 971h0M488 1020h0M491 1034h0M471 1013h0M488 931h0M492 988h0M497 949h0M496 992h0M489 990h0M474 1003h0M496 1009h0M464 1008h0M485 982h0M461 925h0M503 954h0M493 951h0M475 1011h0M499 923h0M491 999h0M476 1027h0M490 972h0M488 921h0M465 1039h0M511 948h0M454 923h0M489 910h0M506 1005h0M477 1021h0M440 968h0M449 946h0M480 1012h0M455 970h0M492 954h0M440 993h0M487 1019h0M493 914h0M493 1032h0M493 983h0M462 941h0M490 979h0M479 986h0M486 965h0M489 1009h0M485 981h0M466 999h0M464 1022h0M487 952h0M508 1041h0M479 935h0M465 1015h0M512 938h0M485 994h0M471 899h0M465 1019h0M498 1011h0M501 947h0M449 953h0M482 960h0M506 942h0M476 933h0M495 999h0M480 982h0M482 969h0M503 1002h0M457 1033h0M496 1008h0M497 996h0M482 989h0M471 1020h0M447 997h0M489 990h0M465 942h0M451 943h0M477 1020h0M444 952h0M473 910h0M480 1032h0M477 971h0M496 1000h0M498 962h0M488 965h0M493 1015h0M498 971h0M456 951h0M492 1031h0M482 1040h0M494 976h0M493 975h0M467 984h0M487 1023h0M479 892h0M493 1021h0M477 992h0M459 936h0M507 1007h0M500 975h0M508 1005h0M452 977h0M479 999h0M466 953h0M463 994h0M503 1026h0M486 963h0M479 962h0M473 965h0M484 937h0M479 999h0M478 982h0M501 977h0M471 995h0M474 993h0M498 1013h0M489 931h0M475 1015h0M501 1042h0M503 1007h0M504 958h0M502 983h0M467 930h0M461 1002h0M446 977h0M470 993h0M460 1004h0M467 1003h0M502 950h0M495 1002h0M500 968h0M502 995h0M491 979h0M471 1002h0M481 1022h0M460 1025h0M476 931h0M483 1018h0M467 969h0M480 971h0M495 956h0M500 969h0M506 962h0M489 983h0M479 955h0M494 1037h0M462 933h0M463 1010h0M497 1005h0M457 1020h0M444 1030h0M508 1008h0M465 1005h0M451 1032h0M468 984h0M486 1019h0M479 1001h0M473 959h0M476 997h0M507 989h0M499 1038h0M512 904h0M506 1007h0M512 964h0M451 988h0M499 966h0M509 944h0M478 1035h0M458 978h0M479 935h0M486 933h0M473 974h0M462 1002h0M506 990h0M487 975h0M479 987h0M483 919h0M452 1003h0M472 1012h0M491 967h0M481 1023h0M477 1000h0M508 1000h0M499 959h0M495 996h0M495 988h0M458 976h0M509 938h0M464 983h0M507 1038h0M494 967h0M474 1016h0M483 920h0M471 1017h0M484 1030h0M473 983h0M499 984h0M491 957h0M459 942h0M487 924h0M472 1001h0M466 991h0M457 1030h0M492 926h0M508 974h0M497 913h0M457 1038h0M507 1026h0M467 1011h0M499 980h0M480 1020h0M465 1038h0M509 989h0M482 933h0M494 1023h0M483 972h0M477 982h0M459 1041h0M483 927h0M479 1007h0M477 971h0M471 981h0M494 1006h0M484 982h0M495 993h0M438 972h0M442 1042h0M478 979h0M512 954h0M466 955h0M498 1004h0M482 1025h0M490 966h0M483 1007h0M459 914h0M508 980h0M504 960h0M505 996h0M510 978h0M464 947h0M485 1020h0M465 1017h0M498 946h0M477 1002h0M499 1016h0M478 986h0M501 1032h0M498 968h0M505 1002h0M503 1038h0M508 1032h0M462 951h0M438 919h0M476 978h0M484 1041h0M493 968h0M501 1030h0M460 992h0M496 975h0M506 988h0M483 919h0M476 1025h0M475 988h0M442 966h0M486 992h0M472 983h0M503 1034h0M463 1028h0M496 992h0M491 1026h0M467 998h0M482 937h0M508 925h0M502 992h0M497 963h0M486 1017h0M469 1002h0M491 963h0M489 1022h0M482 939h0M473 970h0M492 948h0M502 952h0M496 942h0M484 1014h0M480 926h0M469 1004h0M491 1027h0M463 997h0M461 985h0M453 976h0M485 1011h0M500 1038h0M470 980h0M513 976h0M486 936h0M457 978h0M475 993h0M513 938h0M484 971h0M485 999h0M465 968h0M461 966h0M456 1030h0M482 1002h0M492 975h0M495 987h0M514 1025h0M460 974h0M493 958h0M491 1022h0M475 1004h0M478 1020h0M484 972h0M492 950h0M455 984h0M447 984h0M493 931h0M438 970h0M460 1008h0M458 974h0M503 1018h0M472 983h0M496 992h0M464 1009h0M483 1039h0M471 1013h0M488 1041h0" stroke="#000" stroke-width="3.3" stroke-linecap="round" stroke-opacity="0.8" fill="none"/></g>
<g filter="url(#b0)"><path transform="scale(.5)" d="M606 1081h0M646 1065h0M437 1078h0M518 1089h0M431 1072h0M508 1097h0M524 1096h0M477 1081h0M586 1061h0M516 1051h0M589 1069h0M605 1089h0M634 1066h0M447 1093h0M483 1068h0M437 1071h0M462 1060h0M542 1060h0M583 1062h0M481 1046h0M464 1093h0M525 1064h0M486 1097h0M469 1057h0M615 1094h0M603 1063h0M577 1079h0M490 1101h0M537 1061h0M579 1086h0M564 1096h0M539 1062h0M582 1056h0M522 1096h0M508 1064h0M444 1058h0M432 1065h0M575 1064h0M584 1084h0M488 1065h0M527 1101h0M573 1052h0M449 1057h0M464 1076h0M440 1068h0M627 1089h0M565 1066h0M574 1083h0M438 1072h0M503 1097h0M585 1078h0M612 1058h0M500 1097h0M595 1056h0M467 1053h0M647 1091h0M522 1097h0M568 1052h0M466 1050h0M484 1051h0M526 1101h0M538 1050h0M530 1053h0M535 1082h0M536 1076h0M547 1069h0M435 1060h0M616 1052h0M514 1097h0M544 1053h0M476 1068h0M568 1067h0M512 1094h0M548 1067h0M453 1088h0M605 1061h0M430 1050h0M589 1096h0M566 1089h0M452 1080h0M618 1058h0M443 1085h0M550 1057h0M431 1050h0M466 1098h0M586 1098h0M571 1051h0M484 1059h0M483 1046h0M562 1091h0M492 1078h0M600 1073h0M635 1055h0M592 1057h0M507 1062h0M446 1067h0M517 1050h0M589 1069h0M470 1045h0M533 1051h0M499 1052h0M618 1070h0M572 1089h0M565 1054h0M447 1084h0M577 1068h0M423 1069h0M607 1093h0M477 1055h0M501 1054h0M635 1052h0M562 1056h0M525 1046h0M535 1045h0M437 1077h0M457 1058h0M455 1065h0M481 1053h0M525 1046h0M438 1063h0M531 1095h0M456 1056h0M581 1067h0M585 1066h0M602 1063h0M566 1090h0M531 1052h0M518 1046h0M427 1078h0M459 1086h0M497 1056h0M665 1085h0M497 1075h0M528 1081h0M564 1096h0M452 1060h0M453 1075h0M578 1081h0M602 1085h0M489 1056h0M468 1051h0M585 1086h0M491 1068h0M472 1092h0M505 1051h0M655 1083h0M625 1055h0M437 1097h0M567 1049h0M436 1097h0M439 1093h0M624 1060h0M579 1082h0M589 1057h0M496 1096h0M440 1056h0M593 1074h0M475 1093h0M575 1081h0M478 1086h0M615 1070h0M562 1052h0M442 1075h0M456 1091h0M631 1072h0M429 1091h0M429 1063h0M462 1093h0M466 1055h0M643 1054h0M523 1085h0M569 1045h0M604 1075h0M447 1091h0M612 1069h0M565 1092h0M560 1054h0M500 1090h0M598 1083h0M535 1046h0M467 1052h0M503 1098h0M473 1058h0M561 1052h0M534 1084h0M458 1080h0M562 1075h0M478 1053h0M584 1100h0M442 1058h0M535 1082h0M435 1065h0M480 1055h0M450 1055h0M507 1099h0M587 1071h0M517 1053h0M521 1045h0M574 1099h0M590 1095h0M475 1062h0M607 1088h0M440 1055h0M438 1085h0M572 1088h0M473 1062h0M592 1057h0M452 1054h0M501 1054h0M639 1093h0M445 1080h0M446 1058h0M528 1095h0M516 1053h0M451 1084h0M450 1088h0" stroke="#fff" stroke-width="2.8" stroke-linecap="round" stroke-opacity="0.36" fill="none"/></g>
<rect x="209.8" y="421.7" width="142.39999999999998" height="130.3" fill="none" stroke="#1a1a1a" stroke-width="1.4"/>
<line x1="257.9" y1="421.7" x2="257.9" y2="552.0" stroke="#1a1a1a" stroke-width="1.4"/>
<line x1="209.8" y1="520.8" x2="352.2" y2="520.8" stroke="#1a1a1a" stroke-width="1.3"/>
<polygon points="380,541 379,529 383,520.5 392,518 401,521 408,526 425,527 438,524 447,513 452.5,506 458,505.5 460.5,513 461,530 455,542 440,545.5 420,544.5 400,546.5 387,546.5" fill="#000" fill-opacity="0.9" filter="url(#b1)"/>
<polygon points="377,546 377,523 384,515.5 400,516.5 410,521 436,520 449,507 457,501.5 463,515 459,546 420,548.5" fill="#000" fill-opacity="0.45" filter="url(#b2)"/>
<g filter="url(#b0)"><path transform="scale(.5)" d="M758 1072h0M805 1061h0M786 1065h0M759 1053h0M801 1057h0M765 1051h0M796 1070h0M796 1067h0M765 1058h0M766 1061h0M787 1085h0M777 1062h0M758 1065h0M809 1044h0M776 1038h0M759 1063h0M774 1037h0M786 1061h0M790 1060h0M774 1059h0M772 1067h0M789 1063h0M800 1029h0M764 1062h0M791 1090h0M777 1032h0M788 1098h0M777 1083h0M793 1045h0M818 1047h0M784 1055h0M774 1069h0M780 1063h0M774 1056h0M771 1059h0M756 1073h0M782 1068h0M816 1045h0M785 1055h0M782 1032h0M811 1069h0M779 1079h0M782 1077h0M812 1038h0M775 1046h0M788 1066h0M792 1084h0M772 1054h0M800 1080h0M767 1066h0M763 1068h0M784 1077h0M776 1056h0M753 1098h0M801 1047h0M776 1054h0M762 1072h0M789 1044h0M811 1082h0M775 1066h0M763 1050h0M795 1059h0M765 1081h0M770 1059h0M800 1053h0M789 1063h0M777 1072h0M825 1053h0M782 1029h0M783 1061h0M786 1083h0M798 1060h0M769 1057h0M791 1055h0M781 1073h0M758 1057h0M789 1053h0M777 1077h0M811 1056h0M778 1083h0M783 1048h0M788 1063h0M785 1072h0M777 1060h0M788 1067h0M800 1031h0M801 1054h0M776 1094h0M784 1051h0M778 1071h0M757 1052h0M778 1077h0M772 1079h0M809 1063h0M788 1069h0M769 1064h0M790 1072h0M764 1077h0M762 1056h0M757 1061h0M786 1067h0M786 1064h0M793 1073h0M796 1062h0M786 1052h0M798 1050h0M788 1088h0M818 1073h0M792 1080h0M764 1074h0M758 1057h0M788 1039h0M779 1074h0M778 1065h0M782 1062h0M775 1056h0M772 1049h0M799 1080h0M774 1077h0M797 1055h0M762 1087h0M764 1071h0M780 1062h0M764 1074h0M794 1092h0M766 1070h0M796 1045h0M790 1085h0M763 1063h0M766 1018h0M776 1067h0M797 1082h0M776 1044h0M765 1095h0M793 1063h0M786 1057h0M801 1055h0M791 1066h0M779 1063h0M775 1041h0M759 1040h0M784 1072h0M778 1058h0M784 1078h0M758 1096h0M758 1066h0M786 1055h0M783 1055h0M816 1053h0M781 1075h0M788 1056h0M792 1065h0M795 1075h0M783 1055h0M759 1035h0M777 1071h0M779 1095h0M770 1081h0M766 1056h0M793 1060h0M788 1053h0M777 1077h0M775 1061h0M779 1081h0M771 1062h0M792 1056h0M772 1060h0M800 1082h0M786 1085h0M784 1076h0M780 1047h0M794 1042h0M785 1047h0M773 1085h0M772 1071h0M793 1065h0M769 1070h0M781 1043h0M790 1067h0M795 1066h0M788 1040h0M774 1048h0M799 1094h0M791 1053h0M775 1061h0M777 1066h0M788 1069h0M762 1055h0M811 1082h0M792 1053h0M790 1060h0M790 1068h0M772 1051h0M793 1048h0M798 1058h0M784 1081h0M778 1080h0M792 1033h0M809 1044h0M780 1058h0M785 1076h0M790 1053h0M752 1041h0M778 1091h0M769 1061h0M757 1087h0M769 1079h0M796 1065h0M773 1061h0M782 1055h0M789 1049h0M815 1057h0M785 1065h0M814 1071h0M784 1064h0M758 1052h0M802 1020h0M764 1065h0M771 1092h0M789 1068h0M795 1087h0M787 1048h0M782 1082h0M793 1068h0M807 1094h0M790 1077h0M807 1037h0M778 1085h0M796 1042h0M772 1051h0M779 1088h0M774 1066h0M787 1060h0M758 1072h0M806 1063h0M803 1089h0M762 1081h0M802 1053h0M783 1072h0M800 1069h0M787 1094h0M786 1059h0M778 1062h0M790 1082h0M774 1073h0M776 1076h0M770 1078h0M814 1063h0M786 1060h0M797 1037h0M815 1054h0M782 1067h0M787 1060h0M776 1054h0M788 1048h0M786 1075h0M791 1078h0M783 1067h0M799 1057h0M781 1050h0M799 1091h0M759 1075h0M788 1078h0M791 1075h0M817 1027h0M774 1087h0M787 1079h0M792 1086h0M776 1083h0M784 1090h0M783 1078h0M770 1085h0M768 1094h0M812 1089h0M782 1031h0M810 1045h0M792 1052h0M768 1041h0M775 1063h0M763 1020h0M771 1065h0M771 1073h0M768 1054h0M760 1079h0M779 1057h0M797 1097h0M776 1058h0M807 1048h0M766 1055h0M769 1082h0M791 1051h0M785 1078h0M778 1043h0M786 1081h0M766 1059h0M792 1072h0M775 1048h0M807 1051h0M775 1068h0M800 1081h0M769 1078h0M765 1089h0M761 1032h0M785 1040h0M811 1058h0M813 1042h0M798 1061h0M785 1049h0M788 1068h0M829 1064h0M791 1059h0M799 1059h0M785 1064h0M784 1070h0M782 1043h0M797 1057h0M767 1049h0M784 1068h0M797 1056h0M770 1075h0M800 1083h0M783 1064h0M779 1096h0M787 1080h0M759 1059h0M794 1081h0M800 1064h0M808 1059h0M771 1061h0M806 1059h0M761 1067h0M770 1083h0M784 1069h0M787 1036h0M762 1062h0M767 1074h0M786 1059h0M787 1065h0M756 1068h0M796 1054h0M771 1062h0M794 1069h0M771 1064h0M774 1041h0M755 1055h0M802 1084h0M765 1100h0M771 1045h0M753 1041h0M799 1069h0M784 1047h0M797 1049h0M784 1085h0M765 1092h0M812 1056h0M791 1047h0M783 1053h0M790 1073h0M806 1078h0M753 1072h0M784 1064h0M786 1051h0M773 1044h0M794 1044h0M787 1075h0M776 1076h0M779 1078h0M788 1081h0M782 1066h0M769 1073h0M802 1069h0M797 1055h0M764 1047h0M765 1063h0M765 1057h0M785 1061h0M766 1069h0M786 1044h0M817 1084h0M791 1046h0M771 1079h0M815 1056h0M757 1085h0M775 1080h0M769 1061h0M775 1046h0M797 1042h0M780 1073h0M774 1059h0M782 1079h0M770 1067h0M802 1063h0M761 1067h0M787 1075h0M788 1049h0M796 1078h0M785 1065h0M777 1048h0M783 1054h0M797 1082h0M780 1094h0M799 1090h0M755 1062h0M810 1057h0M757 1047h0M778 1053h0M771 1035h0M775 1051h0M790 1092h0M784 1078h0M781 1066h0M766 1063h0M795 1054h0M793 1040h0M792 1064h0M790 1054h0M780 1070h0M816 1054h0M787 1067h0M806 1043h0M763 1052h0M817 1048h0M781 1052h0M789 1066h0M771 1060h0M795 1062h0M773 1047h0M820 1027h0M779 1064h0M775 1074h0M763 1065h0M777 1069h0M754 1064h0M780 1059h0M773 1055h0M809 1078h0M782 1070h0M797 1057h0M762 1073h0M776 1075h0M787 1040h0M800 1058h0M801 1064h0M802 1060h0M765 1053h0M781 1038h0M790 1072h0M785 1071h0M772 1063h0M773 1047h0M778 1051h0M761 1078h0M800 1074h0M781 1081h0M802 1039h0M776 1063h0M769 1042h0M782 1034h0M771 1057h0M780 1076h0M779 1076h0M797 1078h0M763 1047h0M777 1087h0M801 1075h0M765 1064h0M776 1074h0M800 1037h0M763 1063h0M779 1061h0M791 1050h0M807 1073h0M773 1068h0M786 1066h0M769 1084h0M786 1055h0M784 1076h0M780 1040h0M761 1071h0M784 1072h0M774 1049h0M807 1069h0M778 1087h0M766 1085h0M776 1057h0M803 1066h0M797 1073h0M798 1099h0M780 1081h0M791 1057h0M777 1065h0M781 1099h0M775 1076h0M790 1053h0M766 1066h0M776 1074h0M780 1081h0M759 1076h0M779 1077h0M778 1076h0M784 1062h0M790 1053h0M786 1063h0M775 1046h0M817 1053h0M785 1077h0M796 1054h0M775 1046h0M761 1052h0M790 1048h0M793 1067h0M801 1027h0M766 1056h0M773 1084h0M765 1064h0M793 1071h0M775 1051h0M780 1050h0M794 1045h0M803 1095h0M754 1090h0M797 1051h0M793 1041h0M775 1050h0M808 1053h0M772 1040h0M781 1071h0M796 1061h0M788 1097h0M778 1059h0M777 1068h0M789 1061h0M778 1087h0M773 1058h0M770 1074h0M780 1063h0M760 1067h0M775 1043h0M772 1054h0M768 1088h0M773 1086h0M799 1078h0M790 1085h0M792 1082h0M777 1073h0M777 1049h0M762 1052h0M805 1086h0M766 1058h0M788 1065h0M765 1077h0M775 1050h0M759 1074h0M782 1031h0M789 1052h0M768 1051h0M800 1056h0M783 1062h0M789 1094h0M808 1053h0M815 1054h0M788 1065h0M803 1025h0M773 1077h0M772 1051h0M777 1054h0M790 1032h0M805 1085h0M806 1053h0M791 1052h0M802 1057h0M779 1074h0M794 1061h0M773 1071h0M775 1058h0M766 1067h0M792 1069h0M760 1040h0M784 1061h0M789 1079h0M792 1053h0M768 1069h0M788 1078h0M790 1075h0M760 1041h0M786 1040h0M812 1058h0M782 1064h0M791 1055h0M813 1050h0M804 1051h0M766 1074h0M820 1041h0M791 1036h0M786 1056h0M787 1064h0M778 1066h0M773 1063h0M795 1028h0M784 1092h0M803 1084h0M807 1076h0M767 1025h0M769 1061h0M788 1076h0M766 1064h0M789 1063h0M780 1079h0M770 1067h0M772 1074h0M800 1041h0M761 1058h0M772 1068h0M784 1054h0M801 1075h0M772 1061h0M791 1086h0M791 1050h0M776 1081h0M789 1080h0M772 1052h0M783 1069h0M791 1055h0M804 1063h0M762 1061h0M776 1095h0M770 1047h0M787 1071h0M778 1057h0M776 1076h0M787 1061h0M766 1051h0M773 1073h0M801 1057h0M765 1073h0M786 1039h0M760 1082h0M786 1044h0M797 1063h0M801 1076h0M759 1029h0M777 1042h0M788 1082h0M789 1077h0M784 1090h0M821 1047h0M776 1091h0M770 1042h0M787 1089h0M788 1086h0M757 1068h0M764 1089h0M781 1087h0M778 1081h0M791 1052h0M788 1055h0M785 1070h0M786 1083h0M796 1064h0M767 1086h0M758 1072h0M781 1045h0M764 1054h0M799 1070h0M802 1058h0M775 1064h0M795 1083h0M777 1084h0M798 1095h0M786 1056h0M785 1078h0M792 1061h0M759 1039h0M791 1058h0M802 1049h0M782 1088h0M790 1060h0M791 1059h0M788 1042h0M801 1020h0M767 1074h0M789 1063h0M758 1052h0M780 1076h0M780 1035h0M803 1082h0M793 1038h0M781 1063h0M774 1048h0M783 1069h0M789 1078h0M792 1051h0M761 1046h0M778 1063h0M778 1083h0M783 1054h0M787 1033h0M768 1055h0M781 1048h0M799 1069h0M779 1079h0M815 1065h0M780 1063h0M754 1051h0M784 1070h0M795 1068h0M788 1055h0M778 1063h0M800 1051h0M770 1066h0M772 1060h0M779 1074h0M768 1049h0M786 1051h0M788 1044h0M811 1072h0M777 1080h0M803 1060h0M788 1065h0M775 1071h0M756 1088h0M790 1058h0M811 1033h0M798 1078h0M805 1063h0M793 1057h0M788 1062h0M788 1070h0M793 1083h0M771 1043h0M781 1046h0M796 1062h0M773 1083h0M794 1088h0M783 1061h0M776 1086h0M794 1067h0M793 1081h0M810 1057h0M792 1064h0M777 1051h0M799 1048h0M780 1072h0M782 1056h0M793 1059h0M815 1078h0M786 1072h0M804 1028h0M768 1069h0M785 1078h0M874 1072h0M881 1060h0M863 1076h0M875 1068h0M852 1093h0M896 1072h0M829 1077h0M843 1092h0M874 1060h0M898 1076h0M881 1081h0M875 1069h0M819 1044h0M903 1063h0M868 1084h0M870 1081h0M873 1083h0M858 1059h0M790 1055h0M882 1059h0M838 1060h0M803 1082h0M872 1062h0M827 1083h0M854 1070h0M848 1080h0M836 1057h0M830 1071h0M832 1058h0M821 1067h0M871 1078h0M867 1089h0M813 1068h0M796 1072h0M852 1041h0M867 1055h0M847 1065h0M865 1095h0M840 1095h0M818 1057h0M894 1059h0M893 1051h0M870 1080h0M789 1075h0M838 1069h0M849 1082h0M887 1075h0M848 1076h0M775 1080h0M822 1073h0M856 1080h0M816 1083h0M916 1083h0M799 1074h0M789 1080h0M859 1056h0M845 1075h0M814 1069h0M838 1053h0M850 1072h0M861 1084h0M884 1071h0M798 1063h0M870 1099h0M828 1082h0M841 1053h0M900 1078h0M831 1060h0M838 1075h0M809 1058h0M859 1079h0M865 1078h0M854 1070h0M834 1079h0M874 1067h0M882 1076h0M850 1055h0M825 1060h0M879 1060h0M871 1071h0M846 1069h0M887 1075h0M891 1058h0M776 1063h0M844 1052h0M819 1065h0M829 1078h0M825 1056h0M830 1051h0M837 1075h0M827 1083h0M828 1068h0M820 1079h0M868 1069h0M819 1093h0M863 1085h0M792 1062h0M887 1062h0M779 1072h0M868 1081h0M827 1062h0M834 1067h0M867 1069h0M850 1065h0M859 1064h0M820 1065h0M823 1067h0M894 1062h0M852 1070h0M825 1059h0M889 1064h0M837 1072h0M843 1060h0M911 1064h0M860 1063h0M831 1067h0M843 1058h0M852 1066h0M888 1093h0M823 1063h0M873 1071h0M835 1084h0M839 1064h0M850 1069h0M877 1062h0M839 1051h0M820 1087h0M899 1052h0M856 1059h0M849 1055h0M848 1066h0M829 1064h0M798 1065h0M855 1081h0M849 1057h0M830 1062h0M836 1052h0M821 1069h0M815 1087h0M857 1059h0M835 1080h0M830 1037h0M889 1086h0M866 1092h0M831 1058h0M868 1063h0M831 1069h0M821 1078h0M822 1054h0M859 1073h0M837 1078h0M845 1088h0M844 1051h0M852 1055h0M836 1069h0M859 1058h0M856 1074h0M870 1078h0M928 1057h0M876 1066h0M855 1077h0M859 1087h0M825 1070h0M867 1056h0M894 1051h0M819 1066h0M882 1066h0M834 1078h0M807 1071h0M834 1059h0M900 1081h0M845 1070h0M835 1049h0M824 1071h0M794 1090h0M812 1068h0M878 1067h0M868 1089h0M827 1067h0M900 1065h0M891 1078h0M867 1074h0M786 1073h0M862 1073h0M849 1063h0M795 1079h0M860 1085h0M874 1075h0M858 1080h0M836 1076h0M861 1053h0M890 1080h0M858 1076h0M876 1054h0M914 1093h0M853 1075h0M830 1068h0M823 1073h0M868 1062h0M790 1071h0M838 1050h0M823 1076h0M823 1053h0M848 1089h0M863 1071h0M844 1073h0M879 1079h0M833 1064h0M878 1072h0M898 1086h0M843 1064h0M827 1073h0M844 1091h0M876 1048h0M854 1055h0M858 1049h0M873 1066h0M878 1054h0M807 1066h0M864 1070h0M860 1060h0M851 1065h0M863 1068h0M799 1067h0M911 1053h0M879 1059h0M851 1061h0M814 1054h0M836 1084h0M913 1057h0M773 1070h0M862 1047h0M889 1043h0M859 1061h0M876 1066h0M873 1081h0M854 1085h0M843 1077h0M841 1089h0M800 1051h0M825 1080h0M873 1089h0M863 1047h0M809 1068h0M861 1077h0M847 1065h0M861 1063h0M828 1079h0M844 1068h0M790 1086h0M834 1077h0M846 1081h0M835 1071h0M856 1070h0M817 1068h0M834 1051h0M821 1074h0M812 1055h0M901 1070h0M910 1072h0M870 1101h0M881 1079h0M817 1092h0M823 1048h0M875 1076h0M913 1068h0M842 1087h0M883 1073h0M894 1077h0M815 1062h0M878 1061h0M840 1091h0M873 1072h0M820 1062h0M803 1077h0M887 1080h0M883 1078h0M899 1085h0M825 1075h0M812 1050h0M824 1061h0M867 1044h0M850 1058h0M816 1055h0M912 1071h0M845 1089h0M913 1051h0M881 1071h0M893 1078h0M801 1070h0M866 1089h0M839 1072h0M812 1078h0M821 1047h0M865 1072h0M826 1068h0M859 1042h0M832 1101h0M895 1073h0M830 1043h0M828 1068h0M802 1070h0M844 1060h0M843 1077h0M832 1083h0M808 1052h0M830 1057h0M830 1087h0M902 1065h0M881 1092h0M867 1062h0M835 1066h0M828 1077h0M893 1077h0M826 1058h0M845 1054h0M794 1079h0M807 1083h0M837 1063h0M833 1083h0M821 1063h0M816 1069h0M786 1069h0M884 1083h0M753 1086h0M843 1083h0M881 1064h0M834 1082h0M905 1050h0M845 1076h0M866 1082h0M806 1091h0M786 1089h0M864 1089h0M828 1066h0M804 1078h0M860 1055h0M841 1074h0M820 1052h0M915 1080h0M842 1092h0M815 1071h0M799 1089h0M881 1085h0M858 1068h0M848 1071h0M813 1057h0M856 1054h0M822 1083h0M808 1073h0M893 1074h0M845 1057h0M864 1078h0M883 1072h0M871 1087h0M868 1055h0M813 1072h0M848 1090h0M888 1053h0M839 1061h0M821 1047h0M851 1079h0M861 1051h0M871 1078h0M848 1071h0M881 1067h0M837 1062h0M819 1091h0M829 1052h0M792 1060h0M914 1073h0M881 1049h0M894 1079h0M869 1067h0M841 1065h0M866 1073h0M928 1064h0M872 1071h0M828 1074h0M852 1075h0M816 1081h0M832 1067h0M806 1061h0M799 1084h0M870 1066h0M834 1069h0M849 1058h0M835 1065h0M854 1082h0M878 1051h0M899 1078h0M881 1091h0M862 1077h0M837 1065h0M846 1082h0M805 1067h0M849 1079h0M874 1040h0M832 1039h0M831 1080h0M863 1077h0M851 1049h0M912 1080h0M911 1066h0M848 1069h0M859 1074h0M878 1079h0M871 1072h0M888 1082h0M807 1087h0M845 1093h0M855 1077h0M832 1062h0M847 1052h0M911 1085h0M878 1067h0M839 1062h0M814 1096h0M827 1075h0M867 1037h0M849 1082h0M893 1091h0M808 1099h0M869 1050h0M814 1083h0M872 1072h0M887 1067h0M889 1077h0M840 1089h0M884 1048h0M919 1088h0M852 1067h0M833 1064h0M836 1068h0M877 1046h0M832 1076h0M866 1053h0M872 1058h0M876 1074h0M827 1079h0M882 1076h0M857 1064h0M871 1059h0M813 1078h0M863 1066h0M875 1069h0M868 1075h0M880 1084h0M857 1068h0M877 1058h0M845 1074h0M829 1060h0M840 1077h0M846 1069h0M852 1066h0M888 1044h0M901 1071h0M834 1083h0M842 1069h0M871 1067h0M864 1070h0M841 1070h0M900 1062h0M883 1086h0M789 1075h0M856 1044h0M846 1080h0M839 1083h0M867 1080h0M856 1081h0M870 1026h0M837 1071h0M875 1057h0M841 1083h0M842 1072h0M832 1071h0M814 1074h0M863 1071h0M878 1052h0M792 1074h0M808 1076h0M897 1062h0M819 1083h0M857 1042h0M881 1075h0M858 1065h0M898 1068h0M914 1068h0M819 1070h0M881 1066h0M848 1077h0M802 1053h0M890 1060h0M827 1053h0M877 1054h0M817 1064h0M833 1073h0M845 1096h0M895 1058h0M884 1083h0M863 1071h0M899 1060h0M902 1083h0M887 1063h0M823 1066h0M817 1062h0M879 1061h0M886 1056h0M815 1060h0M896 1071h0M862 1069h0M847 1062h0M847 1050h0M890 1083h0M799 1065h0M841 1064h0M861 1065h0M818 1050h0M853 1039h0M829 1080h0M845 1060h0M860 1078h0M888 1053h0M878 1065h0M835 1077h0M867 1081h0M870 1072h0M873 1068h0M782 1072h0M860 1048h0M845 1075h0M825 1100h0M884 1054h0M856 1065h0M841 1078h0M911 1063h0M860 1071h0M879 1065h0M866 1092h0M835 1084h0M800 1062h0M861 1076h0M848 1058h0M812 1052h0M836 1057h0M771 1088h0M867 1079h0M849 1076h0M834 1078h0M921 1093h0M842 1074h0M877 1060h0M831 1052h0M832 1088h0M908 1064h0M880 1068h0M859 1063h0M879 1055h0M829 1082h0M909 1071h0M803 1045h0M820 1072h0M860 1071h0M905 1061h0M846 1064h0M846 1063h0M861 1061h0M795 1065h0M859 1074h0M841 1074h0M837 1057h0M776 1073h0M795 1053h0M866 1089h0M863 1087h0M811 1066h0M832 1071h0M870 1053h0M851 1067h0M873 1098h0M839 1066h0M905 1049h0M834 1057h0M844 1075h0M829 1062h0M812 1075h0M809 1095h0M822 1075h0M809 1069h0M901 1078h0M889 1065h0M860 1072h0M852 1068h0M789 1076h0M826 1074h0M806 1067h0M841 1097h0M864 1072h0M819 1063h0M858 1062h0M833 1059h0M846 1087h0M876 1054h0M887 1093h0M817 1050h0M837 1086h0M899 1070h0M823 1061h0M811 1078h0M859 1062h0M880 1068h0M817 1066h0M859 1055h0M845 1074h0M787 1057h0M869 1068h0M814 1044h0M862 1067h0M841 1044h0M874 1072h0M842 1072h0M864 1053h0M815 1058h0M828 1077h0M888 1071h0M871 1076h0M864 1059h0M872 1083h0M790 1076h0M863 1074h0M819 1069h0M865 1086h0M893 1048h0M903 1082h0M895 1091h0M848 1081h0M808 1064h0M866 1070h0M866 1056h0M817 1081h0M859 1063h0M888 1085h0M851 1096h0M860 1059h0M915 1053h0M845 1075h0M832 1087h0M854 1084h0M850 1063h0M843 1081h0M876 1076h0M909 1075h0M842 1095h0M873 1090h0M838 1078h0M896 1072h0M850 1086h0M835 1071h0M842 1067h0M814 1087h0M802 1078h0M835 1063h0M792 1060h0M854 1046h0M858 1049h0M865 1078h0M898 1084h0M822 1081h0M838 1052h0M885 1068h0M858 1077h0M825 1083h0M870 1058h0M827 1059h0M859 1056h0M924 1082h0M846 1078h0M854 1076h0M802 1070h0M846 1067h0M836 1079h0M806 1094h0M819 1091h0M845 1050h0M811 1082h0M887 1047h0M826 1082h0M837 1058h0M891 1071h0M800 1053h0M865 1058h0M903 1059h0M860 1077h0M868 1068h0M820 1071h0M878 1084h0M881 1059h0M840 1091h0M872 1065h0M896 1041h0M857 1086h0M861 1067h0M901 1056h0M859 1081h0M810 1056h0M876 1066h0M853 1056h0M782 1093h0M883 1070h0M805 1078h0M902 1080h0M843 1066h0M838 1067h0M857 1074h0M828 1084h0M818 1042h0M836 1052h0M851 1069h0M862 1086h0M882 1079h0M882 1073h0M821 1041h0M891 1080h0M846 1059h0M803 1069h0M857 1069h0M865 1065h0M813 1082h0M830 1055h0M847 1081h0M853 1098h0M807 1093h0M870 1085h0M863 1075h0M872 1079h0M883 1069h0M857 1074h0M829 1069h0M842 1046h0M833 1066h0M824 1079h0M859 1059h0M859 1091h0M808 1057h0M867 1060h0M844 1065h0M844 1072h0M852 1084h0M854 1060h0M881 1066h0M911 1038h0M904 1067h0M924 1029h0M898 1060h0M890 1020h0M913 1044h0M901 1056h0M883 1080h0M901 1053h0M912 1055h0M918 1041h0M902 1014h0M903 1038h0M917 1050h0M915 1062h0M923 1035h0M907 1067h0M906 1055h0M903 1028h0M903 1056h0M911 1065h0M919 1036h0M902 1028h0M888 1048h0M909 1044h0M915 1031h0M888 1066h0M913 1013h0M912 1077h0M921 1060h0M901 1025h0M901 1041h0M902 1043h0M924 1072h0M902 1059h0M910 1012h0M915 1026h0M903 1054h0M893 1033h0M905 1069h0M914 1043h0M908 1057h0M927 1060h0M909 1069h0M915 1042h0M900 1070h0M895 1027h0M911 1036h0M910 1050h0M905 1071h0M920 1089h0M894 1063h0M903 1038h0M898 1040h0M896 1018h0M901 1057h0M911 1087h0M908 1039h0M884 1082h0M910 1080h0M906 1013h0M923 1074h0M927 1071h0M891 1031h0M905 1084h0M899 1069h0M915 1076h0M905 1059h0M907 1039h0M892 1076h0M902 1079h0M924 1060h0M897 1033h0M905 1007h0M901 1034h0M928 1028h0M921 1019h0M907 1035h0M919 1042h0M912 1049h0M910 1052h0M913 1064h0M915 1065h0M911 1054h0M897 1062h0M901 1043h0M912 1036h0M893 1049h0M909 1023h0M913 1017h0M887 1047h0M923 1028h0M909 1053h0M885 1076h0M917 1044h0M904 1023h0M913 1049h0M908 1020h0M904 1054h0M913 1056h0M901 1021h0M908 1071h0M908 1022h0M903 1074h0M903 1017h0M921 1092h0M896 1083h0M904 1026h0M912 1092h0M905 1035h0M903 1041h0M920 1018h0M900 1013h0M919 1037h0M893 1066h0M898 1070h0M905 994h0M925 1011h0M912 1037h0M918 1039h0M909 1032h0M896 1053h0M905 1028h0M911 1043h0M915 1072h0M894 1055h0M907 1069h0M927 1039h0M887 1093h0M917 1043h0M902 1061h0M921 1044h0M922 1039h0M918 1004h0M920 1073h0M918 1020h0M898 1098h0M905 1070h0M914 1049h0M907 1052h0M914 1058h0M901 1039h0M908 1017h0M899 1009h0M886 1073h0M897 1043h0M897 1095h0M918 1087h0M908 1047h0M912 1038h0M917 1074h0M914 1027h0M922 1016h0M901 1084h0M910 1021h0M898 1026h0M919 1062h0M909 1040h0M907 1072h0M915 1085h0M903 1061h0M911 1014h0M926 1068h0M914 1050h0M889 1037h0M911 1099h0M921 1016h0M908 1066h0M902 1018h0M899 1005h0M912 1037h0M924 1048h0M908 1038h0M905 1088h0M917 1022h0M917 1039h0M903 1053h0M923 1034h0M909 1031h0M926 1046h0M881 1055h0M903 1058h0M905 1076h0M924 1050h0M909 1058h0M905 1061h0M908 1050h0M906 1061h0M890 1060h0M898 1024h0M915 1066h0M902 1009h0M921 1068h0M900 1098h0M924 1025h0M908 1002h0M909 1067h0M899 1063h0M916 1063h0M904 1023h0M916 1083h0M915 1001h0M906 1049h0M913 1065h0M894 1046h0M915 1038h0M902 1027h0M872 1043h0M897 1065h0M890 1074h0M902 1066h0M922 1053h0M902 1088h0M910 1014h0M919 1021h0M899 1040h0M911 1048h0M893 1019h0M915 1072h0M901 1091h0M907 1037h0M899 1080h0M912 1033h0M896 1017h0M909 1034h0M916 1082h0M892 1076h0M919 1022h0M901 1036h0M917 1018h0M925 1078h0M917 1034h0M926 1052h0M926 1057h0M908 1049h0M920 1070h0M905 1096h0M911 1062h0M919 1086h0M897 1004h0M902 1026h0M920 1060h0M909 1020h0M912 1049h0M906 1036h0M913 1051h0M918 1056h0M923 1094h0M926 1070h0M899 1046h0M911 1049h0M892 1041h0M901 1049h0M905 1073h0M911 1038h0M886 1052h0M909 1033h0M919 1068h0M916 1035h0M896 1096h0M919 1027h0M912 1013h0M876 1062h0M915 1031h0M927 1064h0M902 1048h0M894 1035h0M913 1065h0M912 1038h0M889 1024h0M922 1064h0M897 1049h0M899 1032h0M913 1071h0M901 1068h0M910 1033h0M927 1036h0M913 1040h0M919 1044h0M903 1065h0M915 1038h0M917 1077h0M900 1002h0M896 1033h0M897 1052h0M893 1037h0M922 1041h0M904 1060h0M906 1017h0M920 1015h0M898 1016h0M900 1047h0M927 1042h0M892 1063h0M923 1018h0M905 1025h0M921 1035h0M894 1040h0M921 1066h0M910 1026h0M917 1068h0M900 1040h0M915 1066h0M915 1069h0M922 1061h0M914 1015h0M908 1025h0M908 1062h0M909 1028h0M925 1077h0M911 1067h0M891 1041h0M928 1082h0M920 1006h0M914 1020h0M909 1073h0M910 1060h0M908 1013h0M898 1040h0M897 1066h0M911 1033h0M924 1089h0M923 1061h0M926 1058h0M899 1059h0M905 1051h0M884 1044h0M902 1038h0M909 1100h0M912 1079h0M903 1061h0M895 1085h0M906 1042h0M910 1096h0M896 1063h0M898 1055h0M896 1078h0M885 1015h0M894 1063h0M907 1037h0M903 1059h0M920 1060h0M911 1057h0M898 1028h0M904 1044h0M910 1032h0M909 1051h0M917 1061h0M913 1053h0M889 1035h0M909 1050h0M895 1082h0M922 1039h0M925 1010h0M921 1053h0M903 1027h0M912 1030h0M908 1037h0M922 1005h0M916 1048h0M918 1069h0M874 1049h0M897 1044h0M908 1063h0M919 1028h0M913 1037h0M903 1085h0M895 1067h0M921 1068h0M912 1050h0M888 1027h0M910 1059h0M919 1067h0M915 1048h0M927 1056h0M915 1089h0M905 1031h0M917 1048h0M921 1028h0M901 1063h0M911 1035h0M919 1045h0M909 1061h0M926 1071h0M896 1023h0M908 1012h0M907 1048h0M915 1042h0M899 1042h0M906 1099h0M917 1055h0M912 1054h0M897 1050h0M906 1047h0M901 1067h0M906 1022h0M917 1053h0M901 1038h0M907 1079h0M920 1021h0M898 1012h0M912 1044h0M901 1058h0M905 1099h0M919 1054h0M892 998h0M922 1053h0M903 1046h0M908 1002h0M889 1032h0M910 1064h0M917 1085h0M903 1007h0M911 1050h0M926 1055h0M912 1037h0M903 1084h0M903 1003h0M908 1047h0M896 1017h0M903 1006h0M907 1044h0M900 1030h0M899 1047h0M911 1034h0M894 1083h0M897 1044h0M890 1068h0M909 1051h0M925 1055h0M927 1058h0M893 1078h0M911 1030h0M910 1058h0M907 1068h0M902 1029h0M892 1042h0M907 1043h0M914 1057h0M901 1042h0M913 1036h0M899 1069h0M901 1022h0M914 1059h0M924 1031h0M907 1034h0M906 1072h0M911 1065h0M926 1058h0M906 1051h0M877 1060h0M913 1013h0M890 1032h0M921 1029h0M885 1038h0M924 1076h0M897 1048h0M903 1034h0M910 1043h0M907 1065h0M907 1006h0M910 1062h0M893 1061h0M924 1053h0M902 1067h0M917 1067h0M919 1033h0M898 1089h0M923 1033h0M905 1057h0M908 1070h0M909 1044h0M894 1023h0M896 1011h0M886 1055h0M925 1059h0M927 1054h0M889 1039h0M902 1026h0M885 1053h0M918 1072h0M925 1038h0M926 1035h0M912 1095h0M886 1058h0M910 1060h0M927 1076h0M904 1072h0M899 1013h0M910 1016h0M913 1033h0M893 1042h0M921 1085h0M903 1042h0M893 1036h0M905 1095h0M908 1087h0M911 1066h0M909 1047h0M901 1036h0M893 1089h0M893 1060h0M927 1074h0M899 1049h0M898 1040h0M908 1072h0M917 1041h0M913 1086h0M914 1064h0M911 1054h0M890 1060h0M900 1025h0M915 1077h0M912 1048h0M905 1037h0M907 1063h0M911 1092h0M886 1036h0M881 1074h0M915 1034h0M895 1059h0M924 1066h0M905 1053h0M903 1072h0M909 1066h0M905 1093h0M914 1041h0M912 1014h0M885 1061h0M913 1072h0M901 1066h0M897 1052h0M894 1068h0M927 1036h0M912 1058h0M889 1035h0M894 1046h0M905 1035h0M915 1029h0M920 1067h0M896 1009h0M900 1069h0M908 1037h0M907 1006h0M888 1024h0M912 1045h0M906 1031h0M917 1030h0M904 1048h0M906 1013h0M899 1059h0M911 1042h0M910 1019h0M911 1048h0M898 1077h0M918 1058h0M912 1064h0M904 1045h0M920 1062h0M898 1047h0M902 1020h0M891 1021h0M891 1037h0M921 1022h0M897 1045h0M914 1056h0M888 1083h0M906 1072h0M900 1037h0M921 1048h0M913 1068h0M913 1044h0M903 1057h0M917 1060h0M911 1025h0M903 1067h0M915 1017h0M919 1060h0M893 1054h0M882 1007h0M899 1041h0M905 1050h0M907 1064h0M907 1049h0M912 1061h0M919 1093h0M914 1046h0M903 1071h0M909 1026h0M883 1040h0M909 1044h0M911 1045h0M897 1029h0M895 1055h0M924 1034h0M892 1047h0M924 1050h0M906 1040h0M908 1023h0M906 1060h0M900 1042h0M924 1075h0M893 1013h0M912 1066h0M918 1048h0M913 1069h0M915 1075h0M887 1072h0M913 1036h0M888 1063h0M906 1055h0M899 1062h0M919 1041h0M916 1047h0M914 1059h0M902 1034h0M913 1074h0M921 1028h0M909 1068h0M917 1049h0M921 1044h0M901 1020h0M922 1045h0M902 1024h0M917 1071h0M915 1074h0M904 1045h0M901 1058h0M894 1071h0M913 1053h0M926 1040h0M926 1048h0M907 1066h0M900 1049h0M897 1047h0M922 1045h0M894 1067h0M896 1055h0M898 1075h0M917 1069h0M913 1044h0M920 1044h0M909 1051h0M902 1020h0M910 1070h0M902 1088h0M905 1013h0M895 1005h0M916 1030h0M916 1048h0M782 903h0M782 917h0M792 901h0M781 955h0M786 929h0M796 950h0M777 879h0M775 934h0M785 891h0M787 931h0M776 910h0M785 960h0M780 917h0M790 904h0M780 940h0M784 919h0M790 954h0M788 913h0M779 962h0M784 889h0M771 906h0M788 904h0M781 903h0M782 929h0M772 875h0M789 929h0M779 870h0M782 960h0M777 944h0M782 919h0M786 921h0M797 900h0M770 906h0M783 945h0M781 918h0M782 924h0M765 945h0M780 967h0M780 961h0M766 971h0M788 909h0M783 943h0M774 919h0M788 955h0M785 928h0M776 960h0M783 928h0M790 989h0M782 949h0M784 952h0M784 928h0M774 971h0M791 895h0M773 932h0M783 927h0M780 901h0M778 898h0M782 910h0M774 941h0M788 938h0M781 909h0M781 942h0M778 906h0M782 940h0M774 924h0M776 880h0M781 899h0M779 903h0M788 938h0M786 897h0M791 909h0M790 917h0M768 980h0M785 972h0M789 913h0M768 897h0M792 955h0M792 912h0M780 924h0M780 943h0M783 926h0M784 953h0M785 944h0M793 913h0M778 944h0M796 966h0M794 945h0M788 886h0M788 960h0M792 900h0M787 953h0M783 909h0M787 929h0M775 951h0M769 934h0M778 930h0M777 959h0M781 903h0M787 909h0M792 973h0M771 923h0M770 1012h0M788 944h0M769 903h0M779 965h0M774 933h0M775 924h0M773 926h0M790 947h0M784 945h0M770 965h0M771 971h0M783 930h0M790 918h0M781 924h0M786 966h0M780 934h0M783 949h0M784 931h0M789 940h0M789 976h0M790 936h0M782 933h0M783 951h0M782 955h0M779 956h0M784 942h0M776 913h0M776 940h0M792 978h0M772 1007h0M790 906h0M780 936h0M774 912h0M782 923h0M795 908h0M790 908h0M765 948h0M777 935h0M798 943h0M785 882h0M787 936h0M783 893h0M788 982h0M796 958h0M776 943h0M776 891h0M780 945h0M778 916h0M788 947h0M784 946h0M796 928h0M792 922h0M778 942h0M783 978h0M781 919h0M784 964h0M783 903h0M780 942h0M783 977h0M787 875h0M784 924h0M784 963h0M779 937h0M784 941h0M785 904h0M784 967h0M791 891h0M777 919h0M782 950h0M790 961h0M786 963h0M784 970h0M792 936h0M782 946h0M772 900h0M783 896h0M779 964h0M773 962h0M770 910h0M776 943h0M769 916h0M770 953h0M793 920h0M777 931h0M795 914h0M794 952h0M790 931h0M787 921h0M795 905h0M788 924h0M781 931h0M777 916h0M789 917h0M792 935h0M777 983h0M781 885h0M792 933h0M769 949h0M778 944h0M793 893h0M784 941h0M775 907h0M792 952h0M782 926h0M775 876h0M790 949h0M787 897h0M788 916h0M772 936h0M775 918h0M788 938h0M792 964h0M778 933h0M788 956h0M770 939h0M785 925h0M780 961h0M787 910h0M786 952h0M786 938h0M779 943h0M790 944h0M786 986h0M765 933h0M778 966h0M792 931h0M787 934h0M770 887h0M784 916h0M795 887h0M787 953h0M786 900h0M779 894h0M787 937h0M791 934h0M790 941h0M787 912h0M789 918h0M788 925h0M789 944h0M778 953h0M778 956h0M778 929h0M789 950h0M790 951h0M781 982h0M783 916h0M784 990h0M792 933h0M783 919h0M788 915h0M779 941h0M779 882h0M779 912h0M776 952h0M795 925h0M786 966h0M796 924h0M776 941h0M789 931h0M775 887h0M774 946h0M796 956h0M782 935h0M787 953h0M787 962h0M787 922h0M787 950h0M793 949h0M789 974h0M785 936h0M778 945h0M794 937h0M788 955h0M791 981h0M778 931h0M775 895h0M789 925h0M787 889h0M784 893h0M776 931h0M781 950h0M783 892h0M783 927h0M779 932h0M772 919h0M780 946h0M773 905h0M781 944h0M775 962h0M787 960h0M780 941h0M795 950h0M777 923h0M775 921h0M778 886h0M789 932h0M797 944h0M792 931h0M777 903h0M782 915h0M790 934h0M788 893h0M780 947h0M795 897h0M778 970h0M790 950h0M786 945h0M788 973h0M788 911h0M784 939h0M780 947h0M773 959h0M795 928h0M788 919h0M782 946h0M771 944h0M772 879h0M782 938h0M781 952h0M781 915h0M793 935h0M786 917h0M784 896h0M774 936h0M772 928h0M783 922h0M785 947h0M779 925h0M777 950h0M780 916h0M791 940h0M774 964h0M780 982h0M791 956h0M771 942h0M777 996h0M790 946h0M771 937h0M777 873h0M768 936h0M780 940h0M779 903h0M793 969h0M782 938h0M791 911h0M781 893h0M776 897h0M786 977h0M798 910h0M789 921h0M767 903h0M775 923h0M785 936h0M784 994h0M763 953h0M793 996h0M768 960h0M791 928h0M777 914h0M784 943h0M785 971h0M785 887h0M791 930h0M789 913h0M775 933h0M780 914h0M795 916h0M778 934h0M785 939h0M786 964h0M772 935h0M793 918h0M778 954h0M792 951h0M782 958h0M784 896h0M787 966h0M790 876h0M789 935h0M783 951h0M781 950h0M780 931h0M774 908h0M788 975h0M784 945h0M779 925h0M785 918h0M776 956h0M787 916h0M782 929h0M784 965h0M784 952h0M791 900h0M792 886h0M781 893h0M790 936h0M778 907h0M780 945h0M782 882h0M787 889h0M789 897h0M777 958h0M789 915h0M789 966h0M777 929h0M777 874h0M782 929h0M783 871h0M782 936h0M776 926h0M793 932h0M777 907h0M777 908h0M788 901h0M767 912h0M791 981h0M780 960h0M791 947h0M787 902h0M775 904h0M778 914h0M788 929h0M779 960h0M779 986h0M779 943h0M769 914h0M775 930h0M790 951h0M779 951h0M787 903h0M786 929h0M790 903h0M782 940h0M786 958h0M781 909h0M786 900h0M784 941h0M778 975h0M775 931h0M786 955h0M784 906h0M777 900h0M785 998h0M782 937h0M787 898h0M785 923h0M796 927h0M792 896h0M777 967h0M794 944h0M783 901h0M778 937h0M779 942h0M789 935h0M798 963h0M785 943h0M786 932h0M780 932h0M794 900h0M788 954h0M782 896h0M791 987h0M790 911h0M784 914h0M777 879h0M786 950h0M789 922h0M784 890h0M776 885h0M784 909h0M776 958h0M784 965h0M782 920h0M791 915h0M783 942h0M767 907h0M782 949h0M784 939h0M782 910h0M793 928h0M783 904h0M786 906h0M785 904h0M784 934h0M790 945h0M769 937h0M790 938h0M792 953h0M788 969h0M779 973h0M775 885h0M784 962h0M771 924h0M772 933h0M780 962h0M780 953h0M780 896h0M789 914h0M783 963h0M768 950h0M790 893h0M789 953h0M767 947h0M789 895h0M769 969h0M781 894h0M787 885h0M785 942h0M776 897h0M780 943h0M778 878h0M767 919h0M774 935h0M784 921h0M787 961h0M787 909h0M789 943h0M782 915h0M781 919h0M784 930h0M771 929h0M767 942h0M776 916h0M788 912h0M779 894h0M774 948h0M775 952h0M781 948h0M788 954h0M782 941h0M796 936h0M782 956h0M781 943h0M779 906h0M791 941h0M778 947h0M786 972h0M787 878h0M783 930h0M786 898h0M780 920h0M775 931h0M792 914h0M778 925h0M773 944h0M791 916h0M782 949h0M787 928h0M779 912h0M788 944h0M787 919h0M778 966h0M785 948h0M778 941h0M774 974h0M769 940h0M776 981h0M779 907h0M777 895h0M793 889h0M783 933h0M787 930h0M774 938h0M782 921h0M788 931h0M774 930h0M785 937h0M785 958h0M784 903h0M769 961h0M786 913h0M776 980h0M793 935h0M788 957h0M798 965h0M792 945h0M792 918h0M791 933h0M779 951h0M791 931h0M775 922h0M786 935h0M788 968h0M777 943h0M795 895h0M784 908h0M793 948h0M786 958h0M778 927h0M774 932h0M773 939h0M782 910h0M787 916h0M786 917h0M774 952h0M776 918h0M784 922h0M788 929h0M792 1007h0M784 966h0M784 1000h0M783 988h0M791 981h0M781 959h0M782 985h0M786 992h0M779 982h0M789 995h0M782 968h0M788 975h0M792 948h0M792 959h0M780 1003h0M782 1015h0M779 1012h0M793 1016h0M779 959h0M791 1019h0M779 984h0M778 1029h0M781 978h0M784 1019h0M771 959h0M762 983h0M793 988h0M778 998h0M787 975h0M767 983h0M776 980h0M778 1002h0M781 983h0M782 964h0M784 988h0M784 979h0M783 990h0M786 970h0M796 1021h0M786 1007h0M787 990h0M787 963h0M784 994h0M795 973h0M784 1000h0M774 1017h0M774 987h0M780 997h0M791 985h0M793 996h0M778 949h0M788 997h0M774 1024h0M775 1000h0M794 1021h0M781 969h0M787 979h0M789 1018h0M786 989h0M785 981h0M783 1005h0M790 993h0M786 1017h0M784 994h0M777 982h0M782 955h0M786 996h0M777 1019h0M784 1022h0M776 981h0M791 1005h0M796 970h0M799 992h0M786 943h0M789 1002h0M780 976h0M788 971h0M790 991h0M790 984h0M781 1013h0M782 959h0M786 982h0M794 988h0M781 965h0M776 1003h0M783 972h0M790 1013h0M791 1003h0M768 984h0M788 986h0M791 975h0M789 1009h0M780 1015h0M783 984h0M796 970h0M783 1009h0M783 970h0M777 1007h0M777 988h0M772 1016h0M795 985h0M787 979h0M793 977h0M786 948h0M787 988h0M773 1024h0M778 985h0M795 988h0M790 991h0M781 996h0M786 949h0M771 986h0M782 992h0M785 979h0M793 966h0M792 1020h0M768 975h0M788 957h0M789 997h0M781 996h0M782 980h0M786 969h0M783 978h0M782 998h0M780 950h0M786 993h0M790 986h0M797 962h0M778 1021h0M787 1013h0M781 977h0M778 942h0M789 980h0M779 978h0M795 975h0M780 995h0M784 1028h0M785 1026h0M783 986h0M791 992h0M781 978h0M782 1005h0M775 998h0M782 1022h0M781 993h0M791 966h0M782 1023h0M789 979h0M787 968h0M793 1001h0M776 984h0M788 1021h0M773 997h0M772 991h0M797 1004h0M774 953h0M780 985h0M777 960h0M798 1027h0M777 1011h0M795 959h0M776 1010h0M777 996h0M782 988h0M787 1002h0M777 947h0M768 985h0M782 964h0M765 949h0M772 985h0M844 971h0M895 931h0M863 918h0M805 959h0M886 999h0M868 983h0M872 940h0M887 961h0M845 966h0M875 948h0M884 955h0M889 930h0M849 937h0M860 905h0M874 927h0M905 958h0M839 949h0M900 899h0M835 948h0M848 944h0M900 906h0M825 879h0M824 928h0M844 933h0M883 923h0M904 918h0M853 941h0M843 918h0M853 939h0M883 952h0M873 882h0M829 937h0M894 942h0M842 917h0M851 978h0M822 943h0M814 931h0M871 981h0M875 913h0M884 957h0M845 928h0M906 901h0M862 937h0M888 937h0M872 906h0M841 1018h0M864 993h0M850 902h0M822 945h0M908 936h0M906 939h0M896 916h0M849 963h0M891 924h0M895 959h0M823 973h0M844 908h0M886 881h0M838 979h0M810 925h0M820 923h0M850 919h0M904 975h0M824 944h0M854 891h0M853 939h0M877 942h0M859 976h0M876 960h0M856 933h0M879 920h0M885 949h0M905 942h0M859 903h0M817 942h0M843 968h0M822 946h0M857 1013h0M830 945h0M803 961h0M849 932h0M885 879h0M842 935h0M868 1010h0M821 964h0M876 954h0M852 943h0M868 958h0M899 965h0M871 897h0M880 974h0M830 935h0M865 930h0M855 949h0M854 980h0M890 930h0M880 921h0M862 902h0M884 980h0M822 921h0M848 953h0M843 939h0M875 893h0M907 879h0M875 915h0M887 996h0M856 898h0M873 966h0M896 882h0M860 891h0M827 892h0M847 939h0M853 920h0M876 969h0M841 965h0M825 978h0M834 986h0M882 906h0M894 913h0M855 924h0M852 987h0M864 905h0M902 879h0M873 954h0M911 948h0M855 977h0M872 959h0M860 890h0M901 977h0M864 911h0M856 913h0M822 942h0M828 915h0M859 980h0M897 900h0M872 899h0M876 904h0M878 889h0M879 1020h0M856 988h0M859 939h0M814 893h0M823 1000h0M880 936h0M852 925h0M860 975h0M842 950h0M842 976h0M898 927h0M891 891h0M871 899h0M870 1006h0M905 969h0M870 946h0M910 937h0M833 980h0M863 905h0M912 954h0M824 954h0M894 1011h0M877 968h0M899 970h0M866 958h0M822 908h0M860 921h0M850 921h0M865 1010h0M855 960h0M848 905h0M840 927h0M824 967h0M912 909h0M869 1001h0M903 1007h0M871 883h0M853 913h0M841 953h0M879 941h0M850 974h0M849 920h0M868 963h0M879 912h0M846 999h0M882 1005h0M845 1010h0M885 941h0M888 909h0M855 953h0M857 893h0M829 939h0M829 996h0M836 880h0M858 1014h0M864 966h0M890 927h0M895 934h0M872 950h0M882 918h0M885 1013h0M842 930h0M867 946h0M847 923h0M876 979h0M835 928h0M879 915h0M874 982h0M898 932h0M860 971h0M878 980h0M843 983h0M909 968h0M865 955h0M880 958h0M880 936h0M886 955h0M821 924h0M801 941h0M884 945h0M902 903h0M846 919h0M887 927h0M895 952h0M854 1002h0M873 902h0M868 915h0M836 977h0M836 952h0M855 920h0M849 974h0M823 984h0M906 953h0M844 945h0M856 922h0M855 917h0M834 976h0M848 929h0M868 968h0M832 977h0M892 974h0M869 948h0M859 1008h0M838 950h0M886 956h0M869 966h0M895 966h0M859 891h0M874 887h0M851 955h0M844 960h0M872 907h0M819 1015h0M868 1026h0M851 939h0M849 948h0M864 918h0M824 968h0M817 891h0M827 920h0M869 974h0M884 950h0M818 890h0M847 975h0M834 935h0M835 952h0M852 985h0M864 898h0M881 883h0M847 979h0M883 1007h0M872 972h0M872 968h0M881 935h0M838 1001h0M907 926h0M839 967h0M880 961h0M817 977h0M835 952h0M838 978h0M867 913h0M875 930h0M860 916h0M850 948h0M818 923h0M836 985h0M842 929h0M840 921h0M889 930h0M844 923h0M874 944h0M901 958h0M842 970h0M875 1008h0M906 890h0M844 944h0M845 875h0M855 967h0M854 975h0M896 952h0M889 978h0M827 959h0M828 963h0M865 954h0M823 909h0M837 935h0M823 893h0M823 1012h0M870 892h0M878 969h0M895 952h0M817 951h0M896 939h0M849 966h0M832 964h0M870 981h0M907 951h0M852 949h0M899 974h0M883 902h0M829 973h0M828 909h0M864 945h0M869 948h0M872 960h0M887 945h0M909 1025h0M867 926h0M909 972h0M859 917h0M869 985h0M822 951h0M894 967h0M822 967h0M892 904h0M883 961h0M880 930h0M885 906h0M895 956h0M857 964h0M826 898h0M851 992h0M900 956h0M867 903h0M893 966h0M833 1016h0M837 980h0M857 941h0M820 990h0M843 982h0M840 975h0M867 984h0M889 925h0M823 904h0M870 979h0M875 926h0M853 999h0M826 938h0M898 889h0M885 976h0M865 888h0M840 989h0M807 927h0M832 897h0M807 918h0M841 962h0M876 951h0M832 962h0M856 1010h0M851 914h0M858 983h0M828 943h0M848 958h0M820 946h0M899 927h0M862 995h0M887 939h0M860 926h0M892 944h0M851 909h0M888 988h0M843 889h0M833 1011h0M858 883h0M860 962h0M849 926h0M844 930h0M862 929h0M887 931h0M874 945h0M814 944h0M849 972h0M898 913h0M847 981h0M904 923h0M869 997h0M853 920h0M815 966h0M836 978h0M835 922h0M861 922h0M826 917h0M883 1007h0M904 980h0M849 930h0M875 959h0M820 955h0M845 950h0M842 895h0M829 884h0M847 927h0M828 959h0M813 919h0M890 943h0M867 955h0M869 967h0M905 962h0M881 997h0M842 976h0M804 991h0M838 944h0M871 973h0M867 921h0M861 968h0M809 984h0M843 941h0M878 985h0M878 906h0M863 1016h0M872 983h0M903 974h0M872 967h0M862 920h0M868 949h0M846 882h0M841 1015h0M881 952h0M826 939h0M805 929h0M901 903h0M820 909h0M822 886h0M866 913h0M869 946h0M865 933h0M871 965h0M895 940h0M827 974h0M870 1019h0M888 985h0M831 964h0M876 977h0M902 957h0M837 1001h0M872 982h0M858 971h0M874 971h0M845 938h0M866 940h0M825 967h0M839 923h0M831 967h0M870 981h0M872 884h0M869 987h0M851 927h0M839 993h0M834 929h0M826 939h0M823 898h0M901 1018h0M836 991h0M885 902h0M861 908h0M879 999h0M846 975h0M883 1000h0M813 966h0M825 947h0M887 976h0M860 917h0M864 964h0M849 935h0M869 918h0M831 944h0M866 946h0M825 906h0M853 943h0M878 884h0M883 987h0M870 952h0M889 968h0M856 991h0M822 923h0M856 972h0M865 924h0M895 943h0M888 990h0M906 902h0M828 997h0M859 937h0M883 957h0M866 971h0M820 940h0M899 971h0M910 927h0M879 899h0M882 984h0M845 1013h0M815 1002h0M801 992h0M825 923h0M872 981h0M843 930h0M809 988h0M876 916h0M812 928h0M907 898h0M871 903h0M859 937h0M851 893h0M909 926h0M823 932h0M853 951h0M855 943h0M881 959h0M894 904h0M906 1009h0M856 1005h0M814 939h0M874 916h0M895 906h0M857 887h0M901 929h0M887 957h0M862 914h0M887 973h0M865 920h0M814 996h0M862 966h0M877 900h0M894 1031h0M901 890h0M891 931h0M874 934h0M857 957h0M828 961h0M874 975h0M854 957h0M834 929h0M865 978h0M880 1020h0M801 960h0M814 925h0M861 902h0M881 989h0M909 906h0M844 996h0M876 942h0M863 936h0M882 916h0M874 952h0M908 913h0M897 994h0M827 930h0M849 972h0M865 957h0M888 883h0M864 906h0M869 978h0M883 889h0M878 994h0M892 965h0M854 989h0M875 917h0M887 915h0M906 889h0M862 955h0M868 943h0M889 930h0M853 1013h0M821 1049h0M825 1022h0M831 1021h0M849 1002h0M784 1023h0M781 1027h0M832 1024h0M895 1026h0M854 1041h0M841 1042h0M886 1035h0M883 1044h0M839 1020h0M922 1006h0M883 1010h0M823 1036h0M868 1022h0M889 1037h0M835 1024h0M841 1024h0M797 1030h0M832 1028h0M881 1030h0M853 1018h0M902 1027h0M836 1011h0M842 1034h0M794 1033h0M913 1024h0M805 1036h0M882 1025h0M845 1011h0M782 1023h0M834 1013h0M818 1023h0M844 1034h0M901 1007h0M836 1009h0M852 1041h0M892 1027h0M875 1018h0M894 1048h0M802 1029h0M824 1029h0M917 1045h0M820 1003h0M876 1024h0M840 1018h0M853 1030h0M854 1022h0M766 1034h0M861 1043h0M846 1019h0M820 1015h0M796 1022h0M914 1000h0M803 1018h0M857 1032h0M893 1045h0M920 1031h0M862 1023h0M861 1016h0M895 1041h0M874 1024h0M914 1015h0M822 1021h0M847 1018h0M896 1027h0M859 1027h0M889 1030h0M850 1036h0M877 1033h0M829 1030h0M840 1017h0M882 1032h0M894 1028h0M824 1003h0M828 1030h0M845 1013h0M876 1001h0M847 1013h0M840 1015h0M823 1021h0M821 1023h0M815 1025h0M796 1023h0M801 1010h0M907 1030h0M831 1025h0M888 1041h0M835 1017h0M804 1002h0M910 1037h0M889 1040h0M854 1027h0M822 1028h0M808 1022h0M884 1037h0M865 1031h0M848 1027h0M869 1013h0M823 1021h0M871 1022h0M889 1031h0M809 1033h0M827 1028h0M845 1035h0M864 1005h0M871 1006h0M807 1036h0M838 1031h0M868 1019h0M880 1033h0M824 1027h0M812 1017h0M851 1031h0M808 1021h0M841 1031h0M797 1020h0M875 1039h0M790 1011h0M801 1021h0M879 1014h0M917 1008h0M859 1046h0M891 1018h0M876 1037h0M880 1024h0M809 1037h0M811 1002h0M894 1025h0M828 1039h0M885 1019h0M855 1020h0M845 1015h0M777 1001h0M867 1014h0M812 1041h0M829 1018h0M845 1044h0M841 1025h0M798 1021h0M855 1028h0M859 1023h0M773 1027h0M869 1016h0M838 1041h0M802 1017h0M907 1029h0M834 1037h0M867 1033h0M840 1026h0M816 1023h0M847 1046h0M850 1019h0M868 1028h0M823 1025h0M818 1021h0M816 1022h0M878 1035h0M839 1024h0M793 1030h0M836 1033h0M840 1033h0M864 1013h0M827 1034h0M797 1033h0M846 1015h0M856 1025h0M864 1003h0M830 1006h0M831 1017h0M822 1005h0M898 1020h0M859 1039h0M831 1034h0M842 1019h0M862 1042h0M807 1020h0M844 1019h0M868 1025h0M859 1022h0M846 1025h0M823 1007h0M844 1034h0M815 1026h0M889 1009h0M887 1014h0M794 1021h0M833 1010h0M899 1014h0M860 1031h0M835 1002h0M857 1038h0M897 1010h0M826 1039h0M839 1041h0M821 1017h0M878 1038h0M851 1029h0M854 1031h0M921 1031h0M850 1045h0M862 1016h0M871 1021h0M890 1030h0M768 1024h0M819 1028h0M839 1039h0M901 1007h0M853 1033h0M814 1015h0M813 1020h0M803 1030h0M853 1038h0M888 1022h0M847 1023h0M821 1032h0M835 1023h0M808 1015h0M835 1012h0M864 1040h0M872 1018h0M861 1023h0M813 1037h0M865 1021h0M886 1031h0M890 1040h0M823 1028h0M903 1025h0M872 1019h0M829 1039h0M869 1012h0M856 1018h0M827 1012h0M832 1027h0M839 1043h0M784 1029h0M813 1037h0M853 1023h0M887 1014h0M843 1019h0M902 1026h0M869 1014h0M856 1032h0M888 1043h0M858 1025h0M863 1022h0M904 1016h0M834 1041h0M846 1026h0M900 1034h0M921 1021h0M789 1027h0M865 1021h0M889 1012h0M849 1002h0M870 1022h0M868 1016h0M823 1027h0M786 1016h0M824 1023h0M866 1028h0M882 1038h0M892 1011h0M885 1027h0M828 1024h0M820 1019h0M844 1007h0M844 1011h0M814 1025h0M879 1042h0M884 1022h0M866 1021h0M832 1019h0M866 1030h0M804 1003h0M869 1037h0M859 1034h0M896 1016h0M884 1029h0M810 1002h0M802 1033h0M891 1020h0M823 1037h0M855 1013h0M850 1040h0M809 1023h0M846 1040h0M901 1023h0M870 1033h0M809 1021h0M809 1017h0M841 1037h0M859 1028h0M805 1026h0M854 1036h0M841 1036h0M843 1030h0M848 1036h0" stroke="#000" stroke-width="3.3" stroke-linecap="round" stroke-opacity="0.8" fill="none"/></g>
<g filter="url(#b0)"><path transform="scale(.5)" d="M913 1100h0M947 1057h0M919 1066h0M877 1045h0M821 1087h0M826 1097h0M932 1061h0M921 1073h0M793 1071h0M774 1039h0M892 1085h0M765 1031h0M872 1034h0M774 1071h0M844 1095h0M788 1006h0M843 1022h0M790 1052h0M774 1064h0M881 1090h0M775 1067h0M838 1055h0M782 1081h0M821 1095h0M787 1078h0M895 1088h0M948 1059h0M797 1082h0M808 1089h0M948 1084h0M940 1038h0M761 1051h0M847 1096h0M924 1024h0M812 1030h0M901 1032h0M827 1087h0M821 1026h0M873 1085h0M854 1096h0M886 1048h0M929 1059h0M753 1050h0M793 1023h0M889 1018h0M925 1059h0M931 1080h0M767 1030h0M842 1079h0M858 1091h0M801 1044h0M801 1098h0M803 1085h0M867 1043h0M934 1067h0M804 1010h0M779 1045h0M903 1074h0M933 1042h0M772 1066h0M791 1031h0M787 1051h0M801 1067h0M766 1054h0M898 1083h0M755 1064h0M858 1094h0M885 1066h0M799 1095h0M875 1091h0M847 1075h0M779 1074h0M769 1067h0M865 1072h0M787 1039h0M789 1026h0M822 1022h0M903 1073h0M832 1045h0M818 1032h0M845 1098h0M911 1083h0M824 1083h0M869 1030h0M795 1093h0M924 1069h0M783 1067h0M940 1070h0M762 1038h0M783 1039h0M853 1088h0M892 1093h0M851 1079h0M946 1070h0M863 1032h0M872 1099h0M909 1084h0M772 1038h0M888 1077h0M865 1091h0M902 1047h0M819 1091h0M830 1086h0M757 1050h0M833 1094h0M927 1090h0M920 1065h0M843 1093h0M773 1062h0M756 1093h0M871 1051h0M812 1024h0M929 1053h0M860 1086h0M767 1047h0M820 1041h0M916 1079h0M824 1098h0M866 1027h0M869 1088h0M918 1069h0M883 1089h0M961 1077h0M793 1036h0M759 1089h0M844 1090h0M914 1048h0M791 1042h0M768 1078h0M879 1083h0M817 1026h0M882 1038h0M828 1048h0M818 1026h0M837 1031h0M849 1050h0M845 1074h0M852 1080h0M805 1027h0M776 1065h0M834 1050h0M892 1024h0M864 1033h0M901 1081h0M845 1012h0M985 1065h0M821 1019h0M935 1100h0M883 1094h0M798 1083h0M851 1030h0M873 1035h0M847 1069h0M930 1041h0M836 1071h0M901 1052h0M901 1037h0M841 1023h0M892 1083h0M908 1039h0M954 1083h0M781 1043h0M778 1075h0M832 1052h0M808 1086h0M912 1078h0M855 1024h0M835 1088h0M945 1090h0M856 1095h0M798 1085h0M843 1059h0M868 1069h0M922 1063h0M952 1086h0M818 1029h0M927 1057h0M847 1069h0M773 1080h0M910 1076h0M945 1072h0M925 1055h0M906 1057h0M861 1064h0M761 1085h0M844 1040h0M841 1040h0M892 1078h0M978 1034h0M927 1086h0M873 1055h0M906 1054h0M777 1028h0M865 1095h0M772 1068h0M899 1044h0M898 1040h0M759 1070h0M902 1026h0M914 1061h0M899 1080h0M827 1059h0M802 1039h0M941 1070h0M839 1041h0M902 1051h0M810 1090h0M895 1074h0M805 1036h0M945 1031h0M838 1032h0M788 1065h0M809 1084h0M901 1077h0M913 1054h0M791 1044h0M877 1095h0M801 1060h0M796 1026h0M762 1044h0M838 1054h0M850 1034h0M925 1035h0M764 1052h0M826 1031h0M907 1028h0M875 1097h0M767 1087h0M798 1031h0M912 1084h0M855 1099h0M810 1089h0M897 1081h0M920 1063h0M904 1019h0M926 1101h0M928 1047h0M813 1038h0M854 1047h0M774 1044h0M913 1062h0M802 1037h0M912 1040h0M854 1078h0M889 1045h0M810 1101h0M774 1033h0M791 1101h0M960 1069h0M919 1036h0M784 1047h0M792 1042h0M778 1071h0M757 1065h0M916 1052h0M798 1023h0M823 1025h0M833 1099h0M821 1093h0M815 1058h0M935 1037h0M760 1083h0M837 1067h0M866 1064h0M872 1029h0M997 1072h0M867 1038h0M846 1048h0M822 1018h0M901 1080h0M793 1083h0M825 1067h0M817 1037h0M843 1044h0M857 1099h0M786 1060h0M912 1093h0M874 1062h0" stroke="#fff" stroke-width="2.8" stroke-linecap="round" stroke-opacity="0.36" fill="none"/></g>
<rect x="374.4" y="421.8" width="142.30000000000007" height="130.2" fill="none" stroke="#1a1a1a" stroke-width="1.4"/>
<line x1="398.8" y1="421.8" x2="398.8" y2="552.0" stroke="#1a1a1a" stroke-width="1.4"/>
<line x1="374.4" y1="499.8" x2="516.7" y2="499.8" stroke="#1a1a1a" stroke-width="1.3"/>
</g>
</svg>
</body></html>
